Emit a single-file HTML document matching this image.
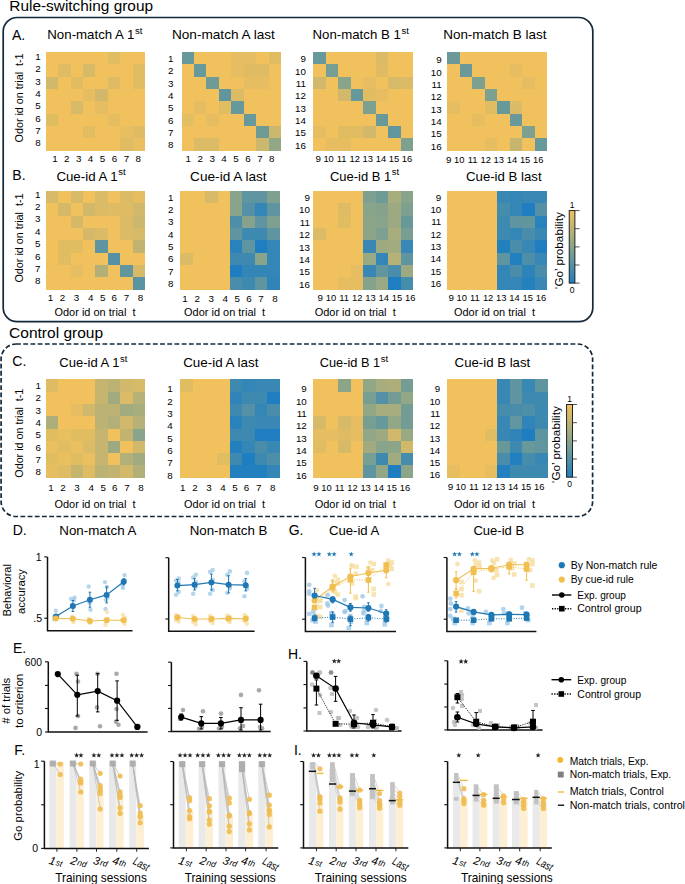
<!DOCTYPE html>
<html><head><meta charset="utf-8"><style>
html,body{margin:0;padding:0;background:#fff;width:685px;height:884px;overflow:hidden}
svg{display:block}
</style></head><body>
<svg width="685" height="884" viewBox="0 0 685 884" font-family='"Liberation Sans", sans-serif'>
<rect width="685" height="884" fill="#fff"/>
<text x="9.3" y="11.0" font-size="14.2" textLength="143.7" lengthAdjust="spacingAndGlyphs" fill="#000" >Rule-switching group</text>
<text x="9.1" y="337.8" font-size="14.2" textLength="94" lengthAdjust="spacingAndGlyphs" fill="#000" >Control group</text>
<rect x="3.2" y="17.5" width="589.6" height="304.2" rx="14" ry="14" fill="none" stroke="#13293b" stroke-width="1.7"/>
<rect x="1.1" y="344" width="591.5" height="172.5" rx="15" ry="15" fill="none" stroke="#13293b" stroke-width="1.7" stroke-dasharray="4.8 2.4"/>
<text x="11.9" y="39.9" font-size="14" fill="#000" >A.</text>
<text x="12.3" y="180.4" font-size="14" fill="#000" >B.</text>
<text x="12.3" y="366.4" font-size="14" fill="#000" >C.</text>
<text x="12.7" y="534.7" font-size="14" fill="#000" >D.</text>
<text x="288.7" y="534.6" font-size="14" fill="#000" >G.</text>
<text x="13.0" y="653.4" font-size="14" fill="#000" >E.</text>
<text x="287.9" y="658.8" font-size="14" fill="#000" >H.</text>
<text x="14.2" y="754.9" font-size="14" fill="#000" >F.</text>
<text x="293.9" y="754.7" font-size="14" fill="#000" >I.</text>
<g shape-rendering="crispEdges">
<rect x="45.80" y="52.00" width="12.70" height="12.65" fill="#f0c15c"/>
<rect x="58.20" y="52.00" width="12.70" height="12.65" fill="#f0c15c"/>
<rect x="70.60" y="52.00" width="12.70" height="12.65" fill="#f0c15c"/>
<rect x="83.00" y="52.00" width="12.70" height="12.65" fill="#f0c15c"/>
<rect x="95.40" y="52.00" width="12.70" height="12.65" fill="#f0c15c"/>
<rect x="107.80" y="52.00" width="12.70" height="12.65" fill="#e1bd62"/>
<rect x="120.20" y="52.00" width="12.70" height="12.65" fill="#f0c15c"/>
<rect x="132.60" y="52.00" width="12.70" height="12.65" fill="#f0c15c"/>
<rect x="45.80" y="64.35" width="12.70" height="12.65" fill="#f0c15c"/>
<rect x="58.20" y="64.35" width="12.70" height="12.65" fill="#dfbc63"/>
<rect x="70.60" y="64.35" width="12.70" height="12.65" fill="#f0c15c"/>
<rect x="83.00" y="64.35" width="12.70" height="12.65" fill="#d7ba67"/>
<rect x="95.40" y="64.35" width="12.70" height="12.65" fill="#f0c15c"/>
<rect x="107.80" y="64.35" width="12.70" height="12.65" fill="#f0c15c"/>
<rect x="120.20" y="64.35" width="12.70" height="12.65" fill="#f0c15c"/>
<rect x="132.60" y="64.35" width="12.70" height="12.65" fill="#e1bd62"/>
<rect x="45.80" y="76.70" width="12.70" height="12.65" fill="#d1b86a"/>
<rect x="58.20" y="76.70" width="12.70" height="12.65" fill="#f0c15c"/>
<rect x="70.60" y="76.70" width="12.70" height="12.65" fill="#e1bd62"/>
<rect x="83.00" y="76.70" width="12.70" height="12.65" fill="#f0c15c"/>
<rect x="95.40" y="76.70" width="12.70" height="12.65" fill="#f0c15c"/>
<rect x="107.80" y="76.70" width="12.70" height="12.65" fill="#dfbc63"/>
<rect x="120.20" y="76.70" width="12.70" height="12.65" fill="#f0c15c"/>
<rect x="132.60" y="76.70" width="12.70" height="12.65" fill="#e1bd62"/>
<rect x="45.80" y="89.05" width="12.70" height="12.65" fill="#f0c15c"/>
<rect x="58.20" y="89.05" width="12.70" height="12.65" fill="#f0c15c"/>
<rect x="70.60" y="89.05" width="12.70" height="12.65" fill="#f0c15c"/>
<rect x="83.00" y="89.05" width="12.70" height="12.65" fill="#e6be61"/>
<rect x="95.40" y="89.05" width="12.70" height="12.65" fill="#d1b86a"/>
<rect x="107.80" y="89.05" width="12.70" height="12.65" fill="#f0c15c"/>
<rect x="120.20" y="89.05" width="12.70" height="12.65" fill="#f0c15c"/>
<rect x="132.60" y="89.05" width="12.70" height="12.65" fill="#f0c15c"/>
<rect x="45.80" y="101.40" width="12.70" height="12.65" fill="#f0c15c"/>
<rect x="58.20" y="101.40" width="12.70" height="12.65" fill="#f0c15c"/>
<rect x="70.60" y="101.40" width="12.70" height="12.65" fill="#d7ba67"/>
<rect x="83.00" y="101.40" width="12.70" height="12.65" fill="#f0c15c"/>
<rect x="95.40" y="101.40" width="12.70" height="12.65" fill="#e6be61"/>
<rect x="107.80" y="101.40" width="12.70" height="12.65" fill="#f0c15c"/>
<rect x="120.20" y="101.40" width="12.70" height="12.65" fill="#f0c15c"/>
<rect x="132.60" y="101.40" width="12.70" height="12.65" fill="#f0c15c"/>
<rect x="45.80" y="113.75" width="12.70" height="12.65" fill="#e1bd62"/>
<rect x="58.20" y="113.75" width="12.70" height="12.65" fill="#f0c15c"/>
<rect x="70.60" y="113.75" width="12.70" height="12.65" fill="#f0c15c"/>
<rect x="83.00" y="113.75" width="12.70" height="12.65" fill="#f0c15c"/>
<rect x="95.40" y="113.75" width="12.70" height="12.65" fill="#f0c15c"/>
<rect x="107.80" y="113.75" width="12.70" height="12.65" fill="#e6be61"/>
<rect x="120.20" y="113.75" width="12.70" height="12.65" fill="#f0c15c"/>
<rect x="132.60" y="113.75" width="12.70" height="12.65" fill="#f0c15c"/>
<rect x="45.80" y="126.10" width="12.70" height="12.65" fill="#f0c15c"/>
<rect x="58.20" y="126.10" width="12.70" height="12.65" fill="#f0c15c"/>
<rect x="70.60" y="126.10" width="12.70" height="12.65" fill="#f0c15c"/>
<rect x="83.00" y="126.10" width="12.70" height="12.65" fill="#e1bd62"/>
<rect x="95.40" y="126.10" width="12.70" height="12.65" fill="#f0c15c"/>
<rect x="107.80" y="126.10" width="12.70" height="12.65" fill="#f0c15c"/>
<rect x="120.20" y="126.10" width="12.70" height="12.65" fill="#e8bf60"/>
<rect x="132.60" y="126.10" width="12.70" height="12.65" fill="#dfbc63"/>
<rect x="45.80" y="138.45" width="12.70" height="12.65" fill="#f0c15c"/>
<rect x="58.20" y="138.45" width="12.70" height="12.65" fill="#f0c15c"/>
<rect x="70.60" y="138.45" width="12.70" height="12.65" fill="#f0c15c"/>
<rect x="83.00" y="138.45" width="12.70" height="12.65" fill="#f0c15c"/>
<rect x="95.40" y="138.45" width="12.70" height="12.65" fill="#f0c15c"/>
<rect x="107.80" y="138.45" width="12.70" height="12.65" fill="#f0c15c"/>
<rect x="120.20" y="138.45" width="12.70" height="12.65" fill="#dfbc63"/>
<rect x="132.60" y="138.45" width="12.70" height="12.65" fill="#eabf5f"/>
</g>
<text x="47.3" y="39.4" font-size="13.5" textLength="87.0" lengthAdjust="spacingAndGlyphs" fill="#000" >Non-match A 1</text>
<text x="134.9" y="34.199999999999996" font-size="8.5" textLength="7.4" lengthAdjust="spacingAndGlyphs" fill="#000" >st</text>
<text x="40.6" y="60.0" font-size="9.8" text-anchor="end" fill="#000" >1</text>
<text x="40.6" y="72.3" font-size="9.8" text-anchor="end" fill="#000" >2</text>
<text x="40.6" y="84.7" font-size="9.8" text-anchor="end" fill="#000" >3</text>
<text x="40.6" y="97.0" font-size="9.8" text-anchor="end" fill="#000" >4</text>
<text x="40.6" y="109.4" font-size="9.8" text-anchor="end" fill="#000" >5</text>
<text x="40.6" y="121.7" font-size="9.8" text-anchor="end" fill="#000" >6</text>
<text x="40.6" y="134.1" font-size="9.8" text-anchor="end" fill="#000" >7</text>
<text x="40.6" y="146.4" font-size="9.8" text-anchor="end" fill="#000" >8</text>
<text x="54.9" y="162.0" font-size="9.8" text-anchor="middle" fill="#000" >1</text>
<text x="66.8" y="162.0" font-size="9.8" text-anchor="middle" fill="#000" >2</text>
<text x="78.7" y="162.0" font-size="9.8" text-anchor="middle" fill="#000" >3</text>
<text x="90.6" y="162.0" font-size="9.8" text-anchor="middle" fill="#000" >4</text>
<text x="102.6" y="162.0" font-size="9.8" text-anchor="middle" fill="#000" >5</text>
<text x="114.5" y="162.0" font-size="9.8" text-anchor="middle" fill="#000" >6</text>
<text x="126.4" y="162.0" font-size="9.8" text-anchor="middle" fill="#000" >7</text>
<text x="138.3" y="162.0" font-size="9.8" text-anchor="middle" fill="#000" >8</text>
<g shape-rendering="crispEdges">
<rect x="181.60" y="52.00" width="12.73" height="12.65" fill="#66989c"/>
<rect x="194.03" y="52.00" width="12.73" height="12.65" fill="#f0c15c"/>
<rect x="206.45" y="52.00" width="12.73" height="12.65" fill="#f0c15c"/>
<rect x="218.88" y="52.00" width="12.73" height="12.65" fill="#f0c15c"/>
<rect x="231.30" y="52.00" width="12.73" height="12.65" fill="#e6be61"/>
<rect x="243.72" y="52.00" width="12.73" height="12.65" fill="#e6be61"/>
<rect x="256.15" y="52.00" width="12.73" height="12.65" fill="#f0c15c"/>
<rect x="268.57" y="52.00" width="12.73" height="12.65" fill="#e1bd62"/>
<rect x="181.60" y="64.35" width="12.73" height="12.65" fill="#f0c15c"/>
<rect x="194.03" y="64.35" width="12.73" height="12.65" fill="#66989c"/>
<rect x="206.45" y="64.35" width="12.73" height="12.65" fill="#f0c15c"/>
<rect x="218.88" y="64.35" width="12.73" height="12.65" fill="#f0c15c"/>
<rect x="231.30" y="64.35" width="12.73" height="12.65" fill="#e6be61"/>
<rect x="243.72" y="64.35" width="12.73" height="12.65" fill="#dfbc63"/>
<rect x="256.15" y="64.35" width="12.73" height="12.65" fill="#dfbc63"/>
<rect x="268.57" y="64.35" width="12.73" height="12.65" fill="#f0c15c"/>
<rect x="181.60" y="76.70" width="12.73" height="12.65" fill="#f0c15c"/>
<rect x="194.03" y="76.70" width="12.73" height="12.65" fill="#f0c15c"/>
<rect x="206.45" y="76.70" width="12.73" height="12.65" fill="#6f9b97"/>
<rect x="218.88" y="76.70" width="12.73" height="12.65" fill="#f0c15c"/>
<rect x="231.30" y="76.70" width="12.73" height="12.65" fill="#f0c15c"/>
<rect x="243.72" y="76.70" width="12.73" height="12.65" fill="#e6be61"/>
<rect x="256.15" y="76.70" width="12.73" height="12.65" fill="#e6be61"/>
<rect x="268.57" y="76.70" width="12.73" height="12.65" fill="#f0c15c"/>
<rect x="181.60" y="89.05" width="12.73" height="12.65" fill="#f0c15c"/>
<rect x="194.03" y="89.05" width="12.73" height="12.65" fill="#f0c15c"/>
<rect x="206.45" y="89.05" width="12.73" height="12.65" fill="#f0c15c"/>
<rect x="218.88" y="89.05" width="12.73" height="12.65" fill="#62969e"/>
<rect x="231.30" y="89.05" width="12.73" height="12.65" fill="#dbbb65"/>
<rect x="243.72" y="89.05" width="12.73" height="12.65" fill="#f0c15c"/>
<rect x="256.15" y="89.05" width="12.73" height="12.65" fill="#f0c15c"/>
<rect x="268.57" y="89.05" width="12.73" height="12.65" fill="#f0c15c"/>
<rect x="181.60" y="101.40" width="12.73" height="12.65" fill="#f0c15c"/>
<rect x="194.03" y="101.40" width="12.73" height="12.65" fill="#e6be61"/>
<rect x="206.45" y="101.40" width="12.73" height="12.65" fill="#f0c15c"/>
<rect x="218.88" y="101.40" width="12.73" height="12.65" fill="#e1bd62"/>
<rect x="231.30" y="101.40" width="12.73" height="12.65" fill="#66989c"/>
<rect x="243.72" y="101.40" width="12.73" height="12.65" fill="#f0c15c"/>
<rect x="256.15" y="101.40" width="12.73" height="12.65" fill="#f0c15c"/>
<rect x="268.57" y="101.40" width="12.73" height="12.65" fill="#f0c15c"/>
<rect x="181.60" y="113.75" width="12.73" height="12.65" fill="#e4be62"/>
<rect x="194.03" y="113.75" width="12.73" height="12.65" fill="#f0c15c"/>
<rect x="206.45" y="113.75" width="12.73" height="12.65" fill="#e6be61"/>
<rect x="218.88" y="113.75" width="12.73" height="12.65" fill="#f0c15c"/>
<rect x="231.30" y="113.75" width="12.73" height="12.65" fill="#f0c15c"/>
<rect x="243.72" y="113.75" width="12.73" height="12.65" fill="#66989c"/>
<rect x="256.15" y="113.75" width="12.73" height="12.65" fill="#f0c15c"/>
<rect x="268.57" y="113.75" width="12.73" height="12.65" fill="#f0c15c"/>
<rect x="181.60" y="126.10" width="12.73" height="12.65" fill="#f0c15c"/>
<rect x="194.03" y="126.10" width="12.73" height="12.65" fill="#f0c15c"/>
<rect x="206.45" y="126.10" width="12.73" height="12.65" fill="#f0c15c"/>
<rect x="218.88" y="126.10" width="12.73" height="12.65" fill="#f0c15c"/>
<rect x="231.30" y="126.10" width="12.73" height="12.65" fill="#f0c15c"/>
<rect x="243.72" y="126.10" width="12.73" height="12.65" fill="#f0c15c"/>
<rect x="256.15" y="126.10" width="12.73" height="12.65" fill="#6f9b97"/>
<rect x="268.57" y="126.10" width="12.73" height="12.65" fill="#cbb76d"/>
<rect x="181.60" y="138.45" width="12.73" height="12.65" fill="#f0c15c"/>
<rect x="194.03" y="138.45" width="12.73" height="12.65" fill="#dbbb65"/>
<rect x="206.45" y="138.45" width="12.73" height="12.65" fill="#dbbb65"/>
<rect x="218.88" y="138.45" width="12.73" height="12.65" fill="#f0c15c"/>
<rect x="231.30" y="138.45" width="12.73" height="12.65" fill="#f0c15c"/>
<rect x="243.72" y="138.45" width="12.73" height="12.65" fill="#f0c15c"/>
<rect x="256.15" y="138.45" width="12.73" height="12.65" fill="#cbb76d"/>
<rect x="268.57" y="138.45" width="12.73" height="12.65" fill="#92a785"/>
</g>
<text x="171.9" y="39.4" font-size="13.5" textLength="103.0" lengthAdjust="spacingAndGlyphs" fill="#000" >Non-match A last</text>
<text x="173.4" y="62.0" font-size="9.8" text-anchor="end" fill="#000" >1</text>
<text x="173.4" y="74.3" font-size="9.8" text-anchor="end" fill="#000" >2</text>
<text x="173.4" y="86.7" font-size="9.8" text-anchor="end" fill="#000" >3</text>
<text x="173.4" y="99.0" font-size="9.8" text-anchor="end" fill="#000" >4</text>
<text x="173.4" y="111.4" font-size="9.8" text-anchor="end" fill="#000" >5</text>
<text x="173.4" y="123.7" font-size="9.8" text-anchor="end" fill="#000" >6</text>
<text x="173.4" y="136.1" font-size="9.8" text-anchor="end" fill="#000" >7</text>
<text x="173.4" y="148.4" font-size="9.8" text-anchor="end" fill="#000" >8</text>
<text x="188.3" y="161.8" font-size="9.8" text-anchor="middle" fill="#000" >1</text>
<text x="200.2" y="161.8" font-size="9.8" text-anchor="middle" fill="#000" >2</text>
<text x="212.2" y="161.8" font-size="9.8" text-anchor="middle" fill="#000" >3</text>
<text x="224.1" y="161.8" font-size="9.8" text-anchor="middle" fill="#000" >4</text>
<text x="236.0" y="161.8" font-size="9.8" text-anchor="middle" fill="#000" >5</text>
<text x="247.9" y="161.8" font-size="9.8" text-anchor="middle" fill="#000" >6</text>
<text x="259.9" y="161.8" font-size="9.8" text-anchor="middle" fill="#000" >7</text>
<text x="271.8" y="161.8" font-size="9.8" text-anchor="middle" fill="#000" >8</text>
<g shape-rendering="crispEdges">
<rect x="313.10" y="52.00" width="12.79" height="12.65" fill="#66989c"/>
<rect x="325.59" y="52.00" width="12.79" height="12.65" fill="#f0c15c"/>
<rect x="338.08" y="52.00" width="12.79" height="12.65" fill="#f0c15c"/>
<rect x="350.56" y="52.00" width="12.79" height="12.65" fill="#f0c15c"/>
<rect x="363.05" y="52.00" width="12.79" height="12.65" fill="#f0c15c"/>
<rect x="375.54" y="52.00" width="12.79" height="12.65" fill="#dbbb65"/>
<rect x="388.03" y="52.00" width="12.79" height="12.65" fill="#f0c15c"/>
<rect x="400.51" y="52.00" width="12.79" height="12.65" fill="#f0c15c"/>
<rect x="313.10" y="64.35" width="12.79" height="12.65" fill="#f0c15c"/>
<rect x="325.59" y="64.35" width="12.79" height="12.65" fill="#779e93"/>
<rect x="338.08" y="64.35" width="12.79" height="12.65" fill="#f0c15c"/>
<rect x="350.56" y="64.35" width="12.79" height="12.65" fill="#f0c15c"/>
<rect x="363.05" y="64.35" width="12.79" height="12.65" fill="#f0c15c"/>
<rect x="375.54" y="64.35" width="12.79" height="12.65" fill="#dfbc63"/>
<rect x="388.03" y="64.35" width="12.79" height="12.65" fill="#f0c15c"/>
<rect x="400.51" y="64.35" width="12.79" height="12.65" fill="#f0c15c"/>
<rect x="313.10" y="76.70" width="12.79" height="12.65" fill="#d1b86a"/>
<rect x="325.59" y="76.70" width="12.79" height="12.65" fill="#f0c15c"/>
<rect x="338.08" y="76.70" width="12.79" height="12.65" fill="#88a48a"/>
<rect x="350.56" y="76.70" width="12.79" height="12.65" fill="#f0c15c"/>
<rect x="363.05" y="76.70" width="12.79" height="12.65" fill="#e6be61"/>
<rect x="375.54" y="76.70" width="12.79" height="12.65" fill="#f0c15c"/>
<rect x="388.03" y="76.70" width="12.79" height="12.65" fill="#d7ba67"/>
<rect x="400.51" y="76.70" width="12.79" height="12.65" fill="#dbbb65"/>
<rect x="313.10" y="89.05" width="12.79" height="12.65" fill="#f0c15c"/>
<rect x="325.59" y="89.05" width="12.79" height="12.65" fill="#f0c15c"/>
<rect x="338.08" y="89.05" width="12.79" height="12.65" fill="#d1b86a"/>
<rect x="350.56" y="89.05" width="12.79" height="12.65" fill="#68999a"/>
<rect x="363.05" y="89.05" width="12.79" height="12.65" fill="#e1bd62"/>
<rect x="375.54" y="89.05" width="12.79" height="12.65" fill="#e6be61"/>
<rect x="388.03" y="89.05" width="12.79" height="12.65" fill="#f0c15c"/>
<rect x="400.51" y="89.05" width="12.79" height="12.65" fill="#f0c15c"/>
<rect x="313.10" y="101.40" width="12.79" height="12.65" fill="#f0c15c"/>
<rect x="325.59" y="101.40" width="12.79" height="12.65" fill="#f0c15c"/>
<rect x="338.08" y="101.40" width="12.79" height="12.65" fill="#f0c15c"/>
<rect x="350.56" y="101.40" width="12.79" height="12.65" fill="#f0c15c"/>
<rect x="363.05" y="101.40" width="12.79" height="12.65" fill="#7ea090"/>
<rect x="375.54" y="101.40" width="12.79" height="12.65" fill="#f0c15c"/>
<rect x="388.03" y="101.40" width="12.79" height="12.65" fill="#f0c15c"/>
<rect x="400.51" y="101.40" width="12.79" height="12.65" fill="#f0c15c"/>
<rect x="313.10" y="113.75" width="12.79" height="12.65" fill="#f0c15c"/>
<rect x="325.59" y="113.75" width="12.79" height="12.65" fill="#f0c15c"/>
<rect x="338.08" y="113.75" width="12.79" height="12.65" fill="#f0c15c"/>
<rect x="350.56" y="113.75" width="12.79" height="12.65" fill="#f0c15c"/>
<rect x="363.05" y="113.75" width="12.79" height="12.65" fill="#f0c15c"/>
<rect x="375.54" y="113.75" width="12.79" height="12.65" fill="#68999a"/>
<rect x="388.03" y="113.75" width="12.79" height="12.65" fill="#f0c15c"/>
<rect x="400.51" y="113.75" width="12.79" height="12.65" fill="#f0c15c"/>
<rect x="313.10" y="126.10" width="12.79" height="12.65" fill="#e6be61"/>
<rect x="325.59" y="126.10" width="12.79" height="12.65" fill="#f0c15c"/>
<rect x="338.08" y="126.10" width="12.79" height="12.65" fill="#e1bd62"/>
<rect x="350.56" y="126.10" width="12.79" height="12.65" fill="#e1bd62"/>
<rect x="363.05" y="126.10" width="12.79" height="12.65" fill="#d1b86a"/>
<rect x="375.54" y="126.10" width="12.79" height="12.65" fill="#f0c15c"/>
<rect x="388.03" y="126.10" width="12.79" height="12.65" fill="#62969e"/>
<rect x="400.51" y="126.10" width="12.79" height="12.65" fill="#f0c15c"/>
<rect x="313.10" y="138.45" width="12.79" height="12.65" fill="#f0c15c"/>
<rect x="325.59" y="138.45" width="12.79" height="12.65" fill="#e6be61"/>
<rect x="338.08" y="138.45" width="12.79" height="12.65" fill="#e6be61"/>
<rect x="350.56" y="138.45" width="12.79" height="12.65" fill="#f0c15c"/>
<rect x="363.05" y="138.45" width="12.79" height="12.65" fill="#f0c15c"/>
<rect x="375.54" y="138.45" width="12.79" height="12.65" fill="#f0c15c"/>
<rect x="388.03" y="138.45" width="12.79" height="12.65" fill="#f0c15c"/>
<rect x="400.51" y="138.45" width="12.79" height="12.65" fill="#7ea090"/>
</g>
<text x="312.5" y="39.4" font-size="13.5" textLength="88.3" lengthAdjust="spacingAndGlyphs" fill="#000" >Non-match B 1</text>
<text x="401.40000000000003" y="34.199999999999996" font-size="8.5" textLength="7.4" lengthAdjust="spacingAndGlyphs" fill="#000" >st</text>
<text x="306.0" y="62.2" font-size="9.8" text-anchor="end" fill="#000" >9</text>
<text x="306.0" y="74.5" font-size="9.8" text-anchor="end" fill="#000" >10</text>
<text x="306.0" y="86.9" font-size="9.8" text-anchor="end" fill="#000" >11</text>
<text x="306.0" y="99.2" font-size="9.8" text-anchor="end" fill="#000" >12</text>
<text x="306.0" y="111.6" font-size="9.8" text-anchor="end" fill="#000" >13</text>
<text x="306.0" y="123.9" font-size="9.8" text-anchor="end" fill="#000" >14</text>
<text x="306.0" y="136.3" font-size="9.8" text-anchor="end" fill="#000" >15</text>
<text x="306.0" y="148.6" font-size="9.8" text-anchor="end" fill="#000" >16</text>
<text x="318.2" y="162.2" font-size="9.8" text-anchor="middle" fill="#000" >9</text>
<text x="328.6" y="162.2" font-size="9.4" text-anchor="middle" fill="#000" >10</text>
<text x="341.7" y="162.2" font-size="9.4" text-anchor="middle" fill="#000" >11</text>
<text x="354.8" y="162.2" font-size="9.4" text-anchor="middle" fill="#000" >12</text>
<text x="367.8" y="162.2" font-size="9.4" text-anchor="middle" fill="#000" >13</text>
<text x="380.9" y="162.2" font-size="9.4" text-anchor="middle" fill="#000" >14</text>
<text x="393.9" y="162.2" font-size="9.4" text-anchor="middle" fill="#000" >15</text>
<text x="407.0" y="162.2" font-size="9.4" text-anchor="middle" fill="#000" >16</text>
<g shape-rendering="crispEdges">
<rect x="447.10" y="52.00" width="12.79" height="12.65" fill="#6b9999"/>
<rect x="459.59" y="52.00" width="12.79" height="12.65" fill="#f0c15c"/>
<rect x="472.08" y="52.00" width="12.79" height="12.65" fill="#f0c15c"/>
<rect x="484.56" y="52.00" width="12.79" height="12.65" fill="#f0c15c"/>
<rect x="497.05" y="52.00" width="12.79" height="12.65" fill="#f0c15c"/>
<rect x="509.54" y="52.00" width="12.79" height="12.65" fill="#f0c15c"/>
<rect x="522.03" y="52.00" width="12.79" height="12.65" fill="#f0c15c"/>
<rect x="534.51" y="52.00" width="12.79" height="12.65" fill="#f0c15c"/>
<rect x="447.10" y="64.35" width="12.79" height="12.65" fill="#f0c15c"/>
<rect x="459.59" y="64.35" width="12.79" height="12.65" fill="#6b9999"/>
<rect x="472.08" y="64.35" width="12.79" height="12.65" fill="#f0c15c"/>
<rect x="484.56" y="64.35" width="12.79" height="12.65" fill="#f0c15c"/>
<rect x="497.05" y="64.35" width="12.79" height="12.65" fill="#f0c15c"/>
<rect x="509.54" y="64.35" width="12.79" height="12.65" fill="#e6be61"/>
<rect x="522.03" y="64.35" width="12.79" height="12.65" fill="#f0c15c"/>
<rect x="534.51" y="64.35" width="12.79" height="12.65" fill="#f0c15c"/>
<rect x="447.10" y="76.70" width="12.79" height="12.65" fill="#f0c15c"/>
<rect x="459.59" y="76.70" width="12.79" height="12.65" fill="#f0c15c"/>
<rect x="472.08" y="76.70" width="12.79" height="12.65" fill="#7ea090"/>
<rect x="484.56" y="76.70" width="12.79" height="12.65" fill="#f0c15c"/>
<rect x="497.05" y="76.70" width="12.79" height="12.65" fill="#f0c15c"/>
<rect x="509.54" y="76.70" width="12.79" height="12.65" fill="#f0c15c"/>
<rect x="522.03" y="76.70" width="12.79" height="12.65" fill="#e6be61"/>
<rect x="534.51" y="76.70" width="12.79" height="12.65" fill="#f0c15c"/>
<rect x="447.10" y="89.05" width="12.79" height="12.65" fill="#f0c15c"/>
<rect x="459.59" y="89.05" width="12.79" height="12.65" fill="#f0c15c"/>
<rect x="472.08" y="89.05" width="12.79" height="12.65" fill="#f0c15c"/>
<rect x="484.56" y="89.05" width="12.79" height="12.65" fill="#7ea090"/>
<rect x="497.05" y="89.05" width="12.79" height="12.65" fill="#f0c15c"/>
<rect x="509.54" y="89.05" width="12.79" height="12.65" fill="#f0c15c"/>
<rect x="522.03" y="89.05" width="12.79" height="12.65" fill="#f0c15c"/>
<rect x="534.51" y="89.05" width="12.79" height="12.65" fill="#f0c15c"/>
<rect x="447.10" y="101.40" width="12.79" height="12.65" fill="#e6be61"/>
<rect x="459.59" y="101.40" width="12.79" height="12.65" fill="#f0c15c"/>
<rect x="472.08" y="101.40" width="12.79" height="12.65" fill="#f0c15c"/>
<rect x="484.56" y="101.40" width="12.79" height="12.65" fill="#e1bd62"/>
<rect x="497.05" y="101.40" width="12.79" height="12.65" fill="#68999a"/>
<rect x="509.54" y="101.40" width="12.79" height="12.65" fill="#dbbb65"/>
<rect x="522.03" y="101.40" width="12.79" height="12.65" fill="#f0c15c"/>
<rect x="534.51" y="101.40" width="12.79" height="12.65" fill="#f0c15c"/>
<rect x="447.10" y="113.75" width="12.79" height="12.65" fill="#f0c15c"/>
<rect x="459.59" y="113.75" width="12.79" height="12.65" fill="#f0c15c"/>
<rect x="472.08" y="113.75" width="12.79" height="12.65" fill="#e6be61"/>
<rect x="484.56" y="113.75" width="12.79" height="12.65" fill="#f0c15c"/>
<rect x="497.05" y="113.75" width="12.79" height="12.65" fill="#f0c15c"/>
<rect x="509.54" y="113.75" width="12.79" height="12.65" fill="#6b9999"/>
<rect x="522.03" y="113.75" width="12.79" height="12.65" fill="#f0c15c"/>
<rect x="534.51" y="113.75" width="12.79" height="12.65" fill="#f0c15c"/>
<rect x="447.10" y="126.10" width="12.79" height="12.65" fill="#f0c15c"/>
<rect x="459.59" y="126.10" width="12.79" height="12.65" fill="#f0c15c"/>
<rect x="472.08" y="126.10" width="12.79" height="12.65" fill="#f0c15c"/>
<rect x="484.56" y="126.10" width="12.79" height="12.65" fill="#f0c15c"/>
<rect x="497.05" y="126.10" width="12.79" height="12.65" fill="#f0c15c"/>
<rect x="509.54" y="126.10" width="12.79" height="12.65" fill="#f0c15c"/>
<rect x="522.03" y="126.10" width="12.79" height="12.65" fill="#7ea090"/>
<rect x="534.51" y="126.10" width="12.79" height="12.65" fill="#f0c15c"/>
<rect x="447.10" y="138.45" width="12.79" height="12.65" fill="#f0c15c"/>
<rect x="459.59" y="138.45" width="12.79" height="12.65" fill="#f0c15c"/>
<rect x="472.08" y="138.45" width="12.79" height="12.65" fill="#f0c15c"/>
<rect x="484.56" y="138.45" width="12.79" height="12.65" fill="#e6be61"/>
<rect x="497.05" y="138.45" width="12.79" height="12.65" fill="#f0c15c"/>
<rect x="509.54" y="138.45" width="12.79" height="12.65" fill="#c6b56e"/>
<rect x="522.03" y="138.45" width="12.79" height="12.65" fill="#f0c15c"/>
<rect x="534.51" y="138.45" width="12.79" height="12.65" fill="#68999a"/>
</g>
<text x="443.2" y="39.4" font-size="13.5" textLength="103.2" lengthAdjust="spacingAndGlyphs" fill="#000" >Non-match B last</text>
<text x="441.7" y="63.2" font-size="9.8" text-anchor="end" fill="#000" >9</text>
<text x="441.7" y="75.5" font-size="9.8" text-anchor="end" fill="#000" >10</text>
<text x="441.7" y="87.9" font-size="9.8" text-anchor="end" fill="#000" >11</text>
<text x="441.7" y="100.2" font-size="9.8" text-anchor="end" fill="#000" >12</text>
<text x="441.7" y="112.6" font-size="9.8" text-anchor="end" fill="#000" >13</text>
<text x="441.7" y="124.9" font-size="9.8" text-anchor="end" fill="#000" >14</text>
<text x="441.7" y="137.3" font-size="9.8" text-anchor="end" fill="#000" >15</text>
<text x="441.7" y="149.6" font-size="9.8" text-anchor="end" fill="#000" >16</text>
<text x="448.8" y="162.8" font-size="9.8" text-anchor="middle" fill="#000" >9</text>
<text x="459.3" y="162.8" font-size="9.4" text-anchor="middle" fill="#000" >10</text>
<text x="472.5" y="162.8" font-size="9.4" text-anchor="middle" fill="#000" >11</text>
<text x="485.7" y="162.8" font-size="9.4" text-anchor="middle" fill="#000" >12</text>
<text x="498.8" y="162.8" font-size="9.4" text-anchor="middle" fill="#000" >13</text>
<text x="512.0" y="162.8" font-size="9.4" text-anchor="middle" fill="#000" >14</text>
<text x="525.1" y="162.8" font-size="9.4" text-anchor="middle" fill="#000" >15</text>
<text x="538.3" y="162.8" font-size="9.4" text-anchor="middle" fill="#000" >16</text>
<text transform="translate(23.3,97.9) rotate(-90)" font-size="11" text-anchor="middle" textLength="89" lengthAdjust="spacingAndGlyphs" xml:space="preserve">Odor id on trial  t-1</text>
<g shape-rendering="crispEdges">
<rect x="45.80" y="190.80" width="12.70" height="12.68" fill="#d7ba67"/>
<rect x="58.20" y="190.80" width="12.70" height="12.68" fill="#f0c15c"/>
<rect x="70.60" y="190.80" width="12.70" height="12.68" fill="#d7ba67"/>
<rect x="83.00" y="190.80" width="12.70" height="12.68" fill="#f0c15c"/>
<rect x="95.40" y="190.80" width="12.70" height="12.68" fill="#dbbb65"/>
<rect x="107.80" y="190.80" width="12.70" height="12.68" fill="#f0c15c"/>
<rect x="120.20" y="190.80" width="12.70" height="12.68" fill="#dbbb65"/>
<rect x="132.60" y="190.80" width="12.70" height="12.68" fill="#e6be61"/>
<rect x="45.80" y="203.18" width="12.70" height="12.68" fill="#f0c15c"/>
<rect x="58.20" y="203.18" width="12.70" height="12.68" fill="#d5b968"/>
<rect x="70.60" y="203.18" width="12.70" height="12.68" fill="#f0c15c"/>
<rect x="83.00" y="203.18" width="12.70" height="12.68" fill="#d1b86a"/>
<rect x="95.40" y="203.18" width="12.70" height="12.68" fill="#dbbb65"/>
<rect x="107.80" y="203.18" width="12.70" height="12.68" fill="#dfbc63"/>
<rect x="120.20" y="203.18" width="12.70" height="12.68" fill="#dfbc63"/>
<rect x="132.60" y="203.18" width="12.70" height="12.68" fill="#d1b86a"/>
<rect x="45.80" y="215.55" width="12.70" height="12.68" fill="#f0c15c"/>
<rect x="58.20" y="215.55" width="12.70" height="12.68" fill="#f0c15c"/>
<rect x="70.60" y="215.55" width="12.70" height="12.68" fill="#d5b968"/>
<rect x="83.00" y="215.55" width="12.70" height="12.68" fill="#f0c15c"/>
<rect x="95.40" y="215.55" width="12.70" height="12.68" fill="#f0c15c"/>
<rect x="107.80" y="215.55" width="12.70" height="12.68" fill="#f0c15c"/>
<rect x="120.20" y="215.55" width="12.70" height="12.68" fill="#dbbb65"/>
<rect x="132.60" y="215.55" width="12.70" height="12.68" fill="#cbb76d"/>
<rect x="45.80" y="227.93" width="12.70" height="12.68" fill="#f0c15c"/>
<rect x="58.20" y="227.93" width="12.70" height="12.68" fill="#f0c15c"/>
<rect x="70.60" y="227.93" width="12.70" height="12.68" fill="#f0c15c"/>
<rect x="83.00" y="227.93" width="12.70" height="12.68" fill="#d5b968"/>
<rect x="95.40" y="227.93" width="12.70" height="12.68" fill="#dbbb65"/>
<rect x="107.80" y="227.93" width="12.70" height="12.68" fill="#f0c15c"/>
<rect x="120.20" y="227.93" width="12.70" height="12.68" fill="#dbbb65"/>
<rect x="132.60" y="227.93" width="12.70" height="12.68" fill="#d7ba67"/>
<rect x="45.80" y="240.30" width="12.70" height="12.68" fill="#f0c15c"/>
<rect x="58.20" y="240.30" width="12.70" height="12.68" fill="#e1bd62"/>
<rect x="70.60" y="240.30" width="12.70" height="12.68" fill="#e1bd62"/>
<rect x="83.00" y="240.30" width="12.70" height="12.68" fill="#f0c15c"/>
<rect x="95.40" y="240.30" width="12.70" height="12.68" fill="#5e95a0"/>
<rect x="107.80" y="240.30" width="12.70" height="12.68" fill="#f0c15c"/>
<rect x="120.20" y="240.30" width="12.70" height="12.68" fill="#f0c15c"/>
<rect x="132.60" y="240.30" width="12.70" height="12.68" fill="#c2b470"/>
<rect x="45.80" y="252.68" width="12.70" height="12.68" fill="#f0c15c"/>
<rect x="58.20" y="252.68" width="12.70" height="12.68" fill="#e1bd62"/>
<rect x="70.60" y="252.68" width="12.70" height="12.68" fill="#f0c15c"/>
<rect x="83.00" y="252.68" width="12.70" height="12.68" fill="#f0c15c"/>
<rect x="95.40" y="252.68" width="12.70" height="12.68" fill="#f0c15c"/>
<rect x="107.80" y="252.68" width="12.70" height="12.68" fill="#5491a6"/>
<rect x="120.20" y="252.68" width="12.70" height="12.68" fill="#f0c15c"/>
<rect x="132.60" y="252.68" width="12.70" height="12.68" fill="#f0c15c"/>
<rect x="45.80" y="265.05" width="12.70" height="12.68" fill="#f0c15c"/>
<rect x="58.20" y="265.05" width="12.70" height="12.68" fill="#f0c15c"/>
<rect x="70.60" y="265.05" width="12.70" height="12.68" fill="#e6be61"/>
<rect x="83.00" y="265.05" width="12.70" height="12.68" fill="#f0c15c"/>
<rect x="95.40" y="265.05" width="12.70" height="12.68" fill="#b2b078"/>
<rect x="107.80" y="265.05" width="12.70" height="12.68" fill="#f0c15c"/>
<rect x="120.20" y="265.05" width="12.70" height="12.68" fill="#64979d"/>
<rect x="132.60" y="265.05" width="12.70" height="12.68" fill="#d7ba67"/>
<rect x="45.80" y="277.43" width="12.70" height="12.68" fill="#f0c15c"/>
<rect x="58.20" y="277.43" width="12.70" height="12.68" fill="#f0c15c"/>
<rect x="70.60" y="277.43" width="12.70" height="12.68" fill="#f0c15c"/>
<rect x="83.00" y="277.43" width="12.70" height="12.68" fill="#f0c15c"/>
<rect x="95.40" y="277.43" width="12.70" height="12.68" fill="#f0c15c"/>
<rect x="107.80" y="277.43" width="12.70" height="12.68" fill="#f0c15c"/>
<rect x="120.20" y="277.43" width="12.70" height="12.68" fill="#f0c15c"/>
<rect x="132.60" y="277.43" width="12.70" height="12.68" fill="#5a93a2"/>
</g>
<text x="56.4" y="180.6" font-size="13.5" textLength="61.3" lengthAdjust="spacingAndGlyphs" fill="#000" >Cue-id A 1</text>
<text x="118.3" y="175.4" font-size="8.5" textLength="7.4" lengthAdjust="spacingAndGlyphs" fill="#000" >st</text>
<text x="40.5" y="197.7" font-size="9.8" text-anchor="end" fill="#000" >1</text>
<text x="40.5" y="210.1" font-size="9.8" text-anchor="end" fill="#000" >2</text>
<text x="40.5" y="222.4" font-size="9.8" text-anchor="end" fill="#000" >3</text>
<text x="40.5" y="234.8" font-size="9.8" text-anchor="end" fill="#000" >4</text>
<text x="40.5" y="247.2" font-size="9.8" text-anchor="end" fill="#000" >5</text>
<text x="40.5" y="259.6" font-size="9.8" text-anchor="end" fill="#000" >6</text>
<text x="40.5" y="271.9" font-size="9.8" text-anchor="end" fill="#000" >7</text>
<text x="40.5" y="284.3" font-size="9.8" text-anchor="end" fill="#000" >8</text>
<text x="50.4" y="301.2" font-size="9.8" text-anchor="middle" fill="#000" >1</text>
<text x="62.6" y="301.2" font-size="9.8" text-anchor="middle" fill="#000" >2</text>
<text x="76.6" y="301.2" font-size="9.8" text-anchor="middle" fill="#000" >3</text>
<text x="90.7" y="301.2" font-size="9.8" text-anchor="middle" fill="#000" >4</text>
<text x="102.7" y="301.2" font-size="9.8" text-anchor="middle" fill="#000" >5</text>
<text x="114.3" y="301.2" font-size="9.8" text-anchor="middle" fill="#000" >6</text>
<text x="126.5" y="301.2" font-size="9.8" text-anchor="middle" fill="#000" >7</text>
<text x="140.4" y="301.2" font-size="9.8" text-anchor="middle" fill="#000" >8</text>
<text x="54.5" y="316.0" font-size="10.8" textLength="81" lengthAdjust="spacingAndGlyphs" xml:space="preserve">Odor id on trial  t</text>
<g shape-rendering="crispEdges">
<rect x="180.30" y="190.80" width="12.73" height="12.68" fill="#f0c15c"/>
<rect x="192.73" y="190.80" width="12.73" height="12.68" fill="#f0c15c"/>
<rect x="205.15" y="190.80" width="12.73" height="12.68" fill="#d7ba67"/>
<rect x="217.58" y="190.80" width="12.73" height="12.68" fill="#f0c15c"/>
<rect x="230.00" y="190.80" width="12.73" height="12.68" fill="#88a48a"/>
<rect x="242.43" y="190.80" width="12.73" height="12.68" fill="#5e95a0"/>
<rect x="254.85" y="190.80" width="12.73" height="12.68" fill="#5e95a0"/>
<rect x="267.28" y="190.80" width="12.73" height="12.68" fill="#7ea090"/>
<rect x="180.30" y="203.18" width="12.73" height="12.68" fill="#f0c15c"/>
<rect x="192.73" y="203.18" width="12.73" height="12.68" fill="#f0c15c"/>
<rect x="205.15" y="203.18" width="12.73" height="12.68" fill="#f0c15c"/>
<rect x="217.58" y="203.18" width="12.73" height="12.68" fill="#f0c15c"/>
<rect x="230.00" y="203.18" width="12.73" height="12.68" fill="#88a48a"/>
<rect x="242.43" y="203.18" width="12.73" height="12.68" fill="#5491a6"/>
<rect x="254.85" y="203.18" width="12.73" height="12.68" fill="#3486b6"/>
<rect x="267.28" y="203.18" width="12.73" height="12.68" fill="#5e95a0"/>
<rect x="180.30" y="215.55" width="12.73" height="12.68" fill="#f0c15c"/>
<rect x="192.73" y="215.55" width="12.73" height="12.68" fill="#f0c15c"/>
<rect x="205.15" y="215.55" width="12.73" height="12.68" fill="#f0c15c"/>
<rect x="217.58" y="215.55" width="12.73" height="12.68" fill="#f0c15c"/>
<rect x="230.00" y="215.55" width="12.73" height="12.68" fill="#4d8fa9"/>
<rect x="242.43" y="215.55" width="12.73" height="12.68" fill="#84a28c"/>
<rect x="254.85" y="215.55" width="12.73" height="12.68" fill="#5e95a0"/>
<rect x="267.28" y="215.55" width="12.73" height="12.68" fill="#7ea090"/>
<rect x="180.30" y="227.93" width="12.73" height="12.68" fill="#f0c15c"/>
<rect x="192.73" y="227.93" width="12.73" height="12.68" fill="#f0c15c"/>
<rect x="205.15" y="227.93" width="12.73" height="12.68" fill="#f0c15c"/>
<rect x="217.58" y="227.93" width="12.73" height="12.68" fill="#f0c15c"/>
<rect x="230.00" y="227.93" width="12.73" height="12.68" fill="#5e95a0"/>
<rect x="242.43" y="227.93" width="12.73" height="12.68" fill="#3e89b0"/>
<rect x="254.85" y="227.93" width="12.73" height="12.68" fill="#3e89b0"/>
<rect x="267.28" y="227.93" width="12.73" height="12.68" fill="#5e95a0"/>
<rect x="180.30" y="240.30" width="12.73" height="12.68" fill="#f0c15c"/>
<rect x="192.73" y="240.30" width="12.73" height="12.68" fill="#f0c15c"/>
<rect x="205.15" y="240.30" width="12.73" height="12.68" fill="#f0c15c"/>
<rect x="217.58" y="240.30" width="12.73" height="12.68" fill="#f0c15c"/>
<rect x="230.00" y="240.30" width="12.73" height="12.68" fill="#2a82bc"/>
<rect x="242.43" y="240.30" width="12.73" height="12.68" fill="#5e95a0"/>
<rect x="254.85" y="240.30" width="12.73" height="12.68" fill="#1f7ec1"/>
<rect x="267.28" y="240.30" width="12.73" height="12.68" fill="#3486b6"/>
<rect x="180.30" y="252.68" width="12.73" height="12.68" fill="#dbbb65"/>
<rect x="192.73" y="252.68" width="12.73" height="12.68" fill="#f0c15c"/>
<rect x="205.15" y="252.68" width="12.73" height="12.68" fill="#f0c15c"/>
<rect x="217.58" y="252.68" width="12.73" height="12.68" fill="#f0c15c"/>
<rect x="230.00" y="252.68" width="12.73" height="12.68" fill="#3e89b0"/>
<rect x="242.43" y="252.68" width="12.73" height="12.68" fill="#3e89b0"/>
<rect x="254.85" y="252.68" width="12.73" height="12.68" fill="#88a48a"/>
<rect x="267.28" y="252.68" width="12.73" height="12.68" fill="#3486b6"/>
<rect x="180.30" y="265.05" width="12.73" height="12.68" fill="#f0c15c"/>
<rect x="192.73" y="265.05" width="12.73" height="12.68" fill="#f0c15c"/>
<rect x="205.15" y="265.05" width="12.73" height="12.68" fill="#f0c15c"/>
<rect x="217.58" y="265.05" width="12.73" height="12.68" fill="#f0c15c"/>
<rect x="230.00" y="265.05" width="12.73" height="12.68" fill="#1f7ec1"/>
<rect x="242.43" y="265.05" width="12.73" height="12.68" fill="#3486b6"/>
<rect x="254.85" y="265.05" width="12.73" height="12.68" fill="#3486b6"/>
<rect x="267.28" y="265.05" width="12.73" height="12.68" fill="#3486b6"/>
<rect x="180.30" y="277.43" width="12.73" height="12.68" fill="#f0c15c"/>
<rect x="192.73" y="277.43" width="12.73" height="12.68" fill="#f0c15c"/>
<rect x="205.15" y="277.43" width="12.73" height="12.68" fill="#f0c15c"/>
<rect x="217.58" y="277.43" width="12.73" height="12.68" fill="#f0c15c"/>
<rect x="230.00" y="277.43" width="12.73" height="12.68" fill="#498dab"/>
<rect x="242.43" y="277.43" width="12.73" height="12.68" fill="#3e89b0"/>
<rect x="254.85" y="277.43" width="12.73" height="12.68" fill="#5e95a0"/>
<rect x="267.28" y="277.43" width="12.73" height="12.68" fill="#3084b8"/>
</g>
<text x="190.1" y="180.6" font-size="13.5" textLength="76.5" lengthAdjust="spacingAndGlyphs" fill="#000" >Cue-id A last</text>
<text x="173.4" y="200.5" font-size="9.8" text-anchor="end" fill="#000" >1</text>
<text x="173.4" y="212.9" font-size="9.8" text-anchor="end" fill="#000" >2</text>
<text x="173.4" y="225.2" font-size="9.8" text-anchor="end" fill="#000" >3</text>
<text x="173.4" y="237.6" font-size="9.8" text-anchor="end" fill="#000" >4</text>
<text x="173.4" y="250.0" font-size="9.8" text-anchor="end" fill="#000" >5</text>
<text x="173.4" y="262.4" font-size="9.8" text-anchor="end" fill="#000" >6</text>
<text x="173.4" y="274.7" font-size="9.8" text-anchor="end" fill="#000" >7</text>
<text x="173.4" y="287.1" font-size="9.8" text-anchor="end" fill="#000" >8</text>
<text x="185.0" y="301.6" font-size="9.8" text-anchor="middle" fill="#000" >1</text>
<text x="197.2" y="301.6" font-size="9.8" text-anchor="middle" fill="#000" >2</text>
<text x="211.2" y="301.6" font-size="9.8" text-anchor="middle" fill="#000" >3</text>
<text x="225.3" y="301.6" font-size="9.8" text-anchor="middle" fill="#000" >4</text>
<text x="237.3" y="301.6" font-size="9.8" text-anchor="middle" fill="#000" >5</text>
<text x="248.9" y="301.6" font-size="9.8" text-anchor="middle" fill="#000" >6</text>
<text x="261.1" y="301.6" font-size="9.8" text-anchor="middle" fill="#000" >7</text>
<text x="275.0" y="301.6" font-size="9.8" text-anchor="middle" fill="#000" >8</text>
<text x="184.1" y="316.0" font-size="10.8" textLength="81" lengthAdjust="spacingAndGlyphs" xml:space="preserve">Odor id on trial  t</text>
<g shape-rendering="crispEdges">
<rect x="313.30" y="190.80" width="12.78" height="12.68" fill="#f0c15c"/>
<rect x="325.78" y="190.80" width="12.78" height="12.68" fill="#f0c15c"/>
<rect x="338.25" y="190.80" width="12.78" height="12.68" fill="#f0c15c"/>
<rect x="350.73" y="190.80" width="12.78" height="12.68" fill="#f0c15c"/>
<rect x="363.20" y="190.80" width="12.78" height="12.68" fill="#7ea090"/>
<rect x="375.68" y="190.80" width="12.78" height="12.68" fill="#6f9b97"/>
<rect x="388.15" y="190.80" width="12.78" height="12.68" fill="#a7ad7c"/>
<rect x="400.62" y="190.80" width="12.78" height="12.68" fill="#88a48a"/>
<rect x="313.30" y="203.18" width="12.78" height="12.68" fill="#f0c15c"/>
<rect x="325.78" y="203.18" width="12.78" height="12.68" fill="#f0c15c"/>
<rect x="338.25" y="203.18" width="12.78" height="12.68" fill="#dfbc63"/>
<rect x="350.73" y="203.18" width="12.78" height="12.68" fill="#f0c15c"/>
<rect x="363.20" y="203.18" width="12.78" height="12.68" fill="#88a48a"/>
<rect x="375.68" y="203.18" width="12.78" height="12.68" fill="#84a28c"/>
<rect x="388.15" y="203.18" width="12.78" height="12.68" fill="#9daa81"/>
<rect x="400.62" y="203.18" width="12.78" height="12.68" fill="#7ea090"/>
<rect x="313.30" y="215.55" width="12.78" height="12.68" fill="#f0c15c"/>
<rect x="325.78" y="215.55" width="12.78" height="12.68" fill="#f0c15c"/>
<rect x="338.25" y="215.55" width="12.78" height="12.68" fill="#e1bd62"/>
<rect x="350.73" y="215.55" width="12.78" height="12.68" fill="#f0c15c"/>
<rect x="363.20" y="215.55" width="12.78" height="12.68" fill="#8ca588"/>
<rect x="375.68" y="215.55" width="12.78" height="12.68" fill="#88a48a"/>
<rect x="388.15" y="215.55" width="12.78" height="12.68" fill="#9daa81"/>
<rect x="400.62" y="215.55" width="12.78" height="12.68" fill="#68999a"/>
<rect x="313.30" y="227.93" width="12.78" height="12.68" fill="#dbbb65"/>
<rect x="325.78" y="227.93" width="12.78" height="12.68" fill="#f0c15c"/>
<rect x="338.25" y="227.93" width="12.78" height="12.68" fill="#f0c15c"/>
<rect x="350.73" y="227.93" width="12.78" height="12.68" fill="#f0c15c"/>
<rect x="363.20" y="227.93" width="12.78" height="12.68" fill="#8ca588"/>
<rect x="375.68" y="227.93" width="12.78" height="12.68" fill="#7ea090"/>
<rect x="388.15" y="227.93" width="12.78" height="12.68" fill="#a7ad7c"/>
<rect x="400.62" y="227.93" width="12.78" height="12.68" fill="#779e93"/>
<rect x="313.30" y="240.30" width="12.78" height="12.68" fill="#f0c15c"/>
<rect x="325.78" y="240.30" width="12.78" height="12.68" fill="#f0c15c"/>
<rect x="338.25" y="240.30" width="12.78" height="12.68" fill="#f0c15c"/>
<rect x="350.73" y="240.30" width="12.78" height="12.68" fill="#f0c15c"/>
<rect x="363.20" y="240.30" width="12.78" height="12.68" fill="#3887b4"/>
<rect x="375.68" y="240.30" width="12.78" height="12.68" fill="#9daa81"/>
<rect x="388.15" y="240.30" width="12.78" height="12.68" fill="#a1ab7f"/>
<rect x="400.62" y="240.30" width="12.78" height="12.68" fill="#3887b4"/>
<rect x="313.30" y="252.68" width="12.78" height="12.68" fill="#f0c15c"/>
<rect x="325.78" y="252.68" width="12.78" height="12.68" fill="#f0c15c"/>
<rect x="338.25" y="252.68" width="12.78" height="12.68" fill="#f0c15c"/>
<rect x="350.73" y="252.68" width="12.78" height="12.68" fill="#f0c15c"/>
<rect x="363.20" y="252.68" width="12.78" height="12.68" fill="#99a983"/>
<rect x="375.68" y="252.68" width="12.78" height="12.68" fill="#3486b6"/>
<rect x="388.15" y="252.68" width="12.78" height="12.68" fill="#b6b176"/>
<rect x="400.62" y="252.68" width="12.78" height="12.68" fill="#5e95a0"/>
<rect x="313.30" y="265.05" width="12.78" height="12.68" fill="#f0c15c"/>
<rect x="325.78" y="265.05" width="12.78" height="12.68" fill="#f0c15c"/>
<rect x="338.25" y="265.05" width="12.78" height="12.68" fill="#f0c15c"/>
<rect x="350.73" y="265.05" width="12.78" height="12.68" fill="#e6be61"/>
<rect x="363.20" y="265.05" width="12.78" height="12.68" fill="#3887b4"/>
<rect x="375.68" y="265.05" width="12.78" height="12.68" fill="#62969e"/>
<rect x="388.15" y="265.05" width="12.78" height="12.68" fill="#498dab"/>
<rect x="400.62" y="265.05" width="12.78" height="12.68" fill="#9daa81"/>
<rect x="313.30" y="277.43" width="12.78" height="12.68" fill="#f0c15c"/>
<rect x="325.78" y="277.43" width="12.78" height="12.68" fill="#f0c15c"/>
<rect x="338.25" y="277.43" width="12.78" height="12.68" fill="#e6be61"/>
<rect x="350.73" y="277.43" width="12.78" height="12.68" fill="#e6be61"/>
<rect x="363.20" y="277.43" width="12.78" height="12.68" fill="#84a28c"/>
<rect x="375.68" y="277.43" width="12.78" height="12.68" fill="#99a983"/>
<rect x="388.15" y="277.43" width="12.78" height="12.68" fill="#1f7ec1"/>
<rect x="400.62" y="277.43" width="12.78" height="12.68" fill="#458cad"/>
</g>
<text x="329.9" y="180.6" font-size="13.5" textLength="61.3" lengthAdjust="spacingAndGlyphs" fill="#000" >Cue-id B 1</text>
<text x="391.8" y="175.4" font-size="8.5" textLength="7.4" lengthAdjust="spacingAndGlyphs" fill="#000" >st</text>
<text x="309.9" y="201.0" font-size="9.8" text-anchor="end" fill="#000" >9</text>
<text x="309.9" y="213.4" font-size="9.8" text-anchor="end" fill="#000" >10</text>
<text x="309.9" y="225.7" font-size="9.8" text-anchor="end" fill="#000" >11</text>
<text x="309.9" y="238.1" font-size="9.8" text-anchor="end" fill="#000" >12</text>
<text x="309.9" y="250.5" font-size="9.8" text-anchor="end" fill="#000" >13</text>
<text x="309.9" y="262.9" font-size="9.8" text-anchor="end" fill="#000" >14</text>
<text x="309.9" y="275.2" font-size="9.8" text-anchor="end" fill="#000" >15</text>
<text x="309.9" y="287.6" font-size="9.8" text-anchor="end" fill="#000" >16</text>
<text x="320.3" y="301.2" font-size="9.8" text-anchor="middle" fill="#000" >9</text>
<text x="330.9" y="301.2" font-size="9.4" text-anchor="middle" fill="#000" >10</text>
<text x="344.1" y="301.2" font-size="9.4" text-anchor="middle" fill="#000" >11</text>
<text x="357.3" y="301.2" font-size="9.4" text-anchor="middle" fill="#000" >12</text>
<text x="370.5" y="301.2" font-size="9.4" text-anchor="middle" fill="#000" >13</text>
<text x="383.8" y="301.2" font-size="9.4" text-anchor="middle" fill="#000" >14</text>
<text x="397.0" y="301.2" font-size="9.4" text-anchor="middle" fill="#000" >15</text>
<text x="410.2" y="301.2" font-size="9.4" text-anchor="middle" fill="#000" >16</text>
<text x="314.7" y="316.0" font-size="10.8" textLength="81" lengthAdjust="spacingAndGlyphs" xml:space="preserve">Odor id on trial  t</text>
<g shape-rendering="crispEdges">
<rect x="447.30" y="190.80" width="12.76" height="12.68" fill="#f0c15c"/>
<rect x="459.76" y="190.80" width="12.76" height="12.68" fill="#f0c15c"/>
<rect x="472.23" y="190.80" width="12.76" height="12.68" fill="#f0c15c"/>
<rect x="484.69" y="190.80" width="12.76" height="12.68" fill="#f0c15c"/>
<rect x="497.15" y="190.80" width="12.76" height="12.68" fill="#3887b4"/>
<rect x="509.61" y="190.80" width="12.76" height="12.68" fill="#3486b6"/>
<rect x="522.08" y="190.80" width="12.76" height="12.68" fill="#3887b4"/>
<rect x="534.54" y="190.80" width="12.76" height="12.68" fill="#3887b4"/>
<rect x="447.30" y="203.18" width="12.76" height="12.68" fill="#f0c15c"/>
<rect x="459.76" y="203.18" width="12.76" height="12.68" fill="#f0c15c"/>
<rect x="472.23" y="203.18" width="12.76" height="12.68" fill="#f0c15c"/>
<rect x="484.69" y="203.18" width="12.76" height="12.68" fill="#f0c15c"/>
<rect x="497.15" y="203.18" width="12.76" height="12.68" fill="#458cad"/>
<rect x="509.61" y="203.18" width="12.76" height="12.68" fill="#3486b6"/>
<rect x="522.08" y="203.18" width="12.76" height="12.68" fill="#1f7ec1"/>
<rect x="534.54" y="203.18" width="12.76" height="12.68" fill="#5491a6"/>
<rect x="447.30" y="215.55" width="12.76" height="12.68" fill="#f0c15c"/>
<rect x="459.76" y="215.55" width="12.76" height="12.68" fill="#f0c15c"/>
<rect x="472.23" y="215.55" width="12.76" height="12.68" fill="#f0c15c"/>
<rect x="484.69" y="215.55" width="12.76" height="12.68" fill="#f0c15c"/>
<rect x="497.15" y="215.55" width="12.76" height="12.68" fill="#3e89b0"/>
<rect x="509.61" y="215.55" width="12.76" height="12.68" fill="#5e95a0"/>
<rect x="522.08" y="215.55" width="12.76" height="12.68" fill="#62969e"/>
<rect x="534.54" y="215.55" width="12.76" height="12.68" fill="#2a82bc"/>
<rect x="447.30" y="227.93" width="12.76" height="12.68" fill="#f0c15c"/>
<rect x="459.76" y="227.93" width="12.76" height="12.68" fill="#f0c15c"/>
<rect x="472.23" y="227.93" width="12.76" height="12.68" fill="#f0c15c"/>
<rect x="484.69" y="227.93" width="12.76" height="12.68" fill="#f0c15c"/>
<rect x="497.15" y="227.93" width="12.76" height="12.68" fill="#3e89b0"/>
<rect x="509.61" y="227.93" width="12.76" height="12.68" fill="#3486b6"/>
<rect x="522.08" y="227.93" width="12.76" height="12.68" fill="#498dab"/>
<rect x="534.54" y="227.93" width="12.76" height="12.68" fill="#3887b4"/>
<rect x="447.30" y="240.30" width="12.76" height="12.68" fill="#f0c15c"/>
<rect x="459.76" y="240.30" width="12.76" height="12.68" fill="#f0c15c"/>
<rect x="472.23" y="240.30" width="12.76" height="12.68" fill="#f0c15c"/>
<rect x="484.69" y="240.30" width="12.76" height="12.68" fill="#f0c15c"/>
<rect x="497.15" y="240.30" width="12.76" height="12.68" fill="#2380bf"/>
<rect x="509.61" y="240.30" width="12.76" height="12.68" fill="#498dab"/>
<rect x="522.08" y="240.30" width="12.76" height="12.68" fill="#3887b4"/>
<rect x="534.54" y="240.30" width="12.76" height="12.68" fill="#1f7ec1"/>
<rect x="447.30" y="252.68" width="12.76" height="12.68" fill="#f0c15c"/>
<rect x="459.76" y="252.68" width="12.76" height="12.68" fill="#f0c15c"/>
<rect x="472.23" y="252.68" width="12.76" height="12.68" fill="#f0c15c"/>
<rect x="484.69" y="252.68" width="12.76" height="12.68" fill="#f0c15c"/>
<rect x="497.15" y="252.68" width="12.76" height="12.68" fill="#5e95a0"/>
<rect x="509.61" y="252.68" width="12.76" height="12.68" fill="#2380bf"/>
<rect x="522.08" y="252.68" width="12.76" height="12.68" fill="#4d8fa9"/>
<rect x="534.54" y="252.68" width="12.76" height="12.68" fill="#3887b4"/>
<rect x="447.30" y="265.05" width="12.76" height="12.68" fill="#f0c15c"/>
<rect x="459.76" y="265.05" width="12.76" height="12.68" fill="#f0c15c"/>
<rect x="472.23" y="265.05" width="12.76" height="12.68" fill="#f0c15c"/>
<rect x="484.69" y="265.05" width="12.76" height="12.68" fill="#f0c15c"/>
<rect x="497.15" y="265.05" width="12.76" height="12.68" fill="#3486b6"/>
<rect x="509.61" y="265.05" width="12.76" height="12.68" fill="#498dab"/>
<rect x="522.08" y="265.05" width="12.76" height="12.68" fill="#2c83ba"/>
<rect x="534.54" y="265.05" width="12.76" height="12.68" fill="#498dab"/>
<rect x="447.30" y="277.43" width="12.76" height="12.68" fill="#f0c15c"/>
<rect x="459.76" y="277.43" width="12.76" height="12.68" fill="#f0c15c"/>
<rect x="472.23" y="277.43" width="12.76" height="12.68" fill="#f0c15c"/>
<rect x="484.69" y="277.43" width="12.76" height="12.68" fill="#f0c15c"/>
<rect x="497.15" y="277.43" width="12.76" height="12.68" fill="#3486b6"/>
<rect x="509.61" y="277.43" width="12.76" height="12.68" fill="#3486b6"/>
<rect x="522.08" y="277.43" width="12.76" height="12.68" fill="#2580be"/>
<rect x="534.54" y="277.43" width="12.76" height="12.68" fill="#3887b4"/>
</g>
<text x="466" y="180.6" font-size="13.5" textLength="75.6" lengthAdjust="spacingAndGlyphs" fill="#000" >Cue-id B last</text>
<text x="441.3" y="200.5" font-size="9.8" text-anchor="end" fill="#000" >9</text>
<text x="441.3" y="212.9" font-size="9.8" text-anchor="end" fill="#000" >10</text>
<text x="441.3" y="225.2" font-size="9.8" text-anchor="end" fill="#000" >11</text>
<text x="441.3" y="237.6" font-size="9.8" text-anchor="end" fill="#000" >12</text>
<text x="441.3" y="250.0" font-size="9.8" text-anchor="end" fill="#000" >13</text>
<text x="441.3" y="262.4" font-size="9.8" text-anchor="end" fill="#000" >14</text>
<text x="441.3" y="274.7" font-size="9.8" text-anchor="end" fill="#000" >15</text>
<text x="441.3" y="287.1" font-size="9.8" text-anchor="end" fill="#000" >16</text>
<text x="451.2" y="300.8" font-size="9.8" text-anchor="middle" fill="#000" >9</text>
<text x="461.8" y="300.8" font-size="9.4" text-anchor="middle" fill="#000" >10</text>
<text x="474.9" y="300.8" font-size="9.4" text-anchor="middle" fill="#000" >11</text>
<text x="488.1" y="300.8" font-size="9.4" text-anchor="middle" fill="#000" >12</text>
<text x="501.3" y="300.8" font-size="9.4" text-anchor="middle" fill="#000" >13</text>
<text x="514.5" y="300.8" font-size="9.4" text-anchor="middle" fill="#000" >14</text>
<text x="527.7" y="300.8" font-size="9.4" text-anchor="middle" fill="#000" >15</text>
<text x="540.9" y="300.8" font-size="9.4" text-anchor="middle" fill="#000" >16</text>
<text x="454.0" y="316.0" font-size="10.8" textLength="81" lengthAdjust="spacingAndGlyphs" xml:space="preserve">Odor id on trial  t</text>
<text transform="translate(23.3,238) rotate(-90)" font-size="11" text-anchor="middle" textLength="89" lengthAdjust="spacingAndGlyphs" xml:space="preserve">Odor id on trial  t-1</text>
<g shape-rendering="crispEdges">
<rect x="45.80" y="379.20" width="12.70" height="12.62" fill="#dfbc63"/>
<rect x="58.20" y="379.20" width="12.70" height="12.62" fill="#f0c15c"/>
<rect x="70.60" y="379.20" width="12.70" height="12.62" fill="#f0c15c"/>
<rect x="83.00" y="379.20" width="12.70" height="12.62" fill="#f0c15c"/>
<rect x="95.40" y="379.20" width="12.70" height="12.62" fill="#c6b56e"/>
<rect x="107.80" y="379.20" width="12.70" height="12.62" fill="#bcb273"/>
<rect x="120.20" y="379.20" width="12.70" height="12.62" fill="#d1b86a"/>
<rect x="132.60" y="379.20" width="12.70" height="12.62" fill="#d7ba67"/>
<rect x="45.80" y="391.52" width="12.70" height="12.62" fill="#f0c15c"/>
<rect x="58.20" y="391.52" width="12.70" height="12.62" fill="#f0c15c"/>
<rect x="70.60" y="391.52" width="12.70" height="12.62" fill="#f0c15c"/>
<rect x="83.00" y="391.52" width="12.70" height="12.62" fill="#f0c15c"/>
<rect x="95.40" y="391.52" width="12.70" height="12.62" fill="#c6b56e"/>
<rect x="107.80" y="391.52" width="12.70" height="12.62" fill="#a1ab7f"/>
<rect x="120.20" y="391.52" width="12.70" height="12.62" fill="#dbbb65"/>
<rect x="132.60" y="391.52" width="12.70" height="12.62" fill="#b6b176"/>
<rect x="45.80" y="403.85" width="12.70" height="12.62" fill="#f0c15c"/>
<rect x="58.20" y="403.85" width="12.70" height="12.62" fill="#f0c15c"/>
<rect x="70.60" y="403.85" width="12.70" height="12.62" fill="#e6be61"/>
<rect x="83.00" y="403.85" width="12.70" height="12.62" fill="#d1b86a"/>
<rect x="95.40" y="403.85" width="12.70" height="12.62" fill="#bcb273"/>
<rect x="107.80" y="403.85" width="12.70" height="12.62" fill="#bcb273"/>
<rect x="120.20" y="403.85" width="12.70" height="12.62" fill="#a1ab7f"/>
<rect x="132.60" y="403.85" width="12.70" height="12.62" fill="#a7ad7c"/>
<rect x="45.80" y="416.17" width="12.70" height="12.62" fill="#adae79"/>
<rect x="58.20" y="416.17" width="12.70" height="12.62" fill="#f0c15c"/>
<rect x="70.60" y="416.17" width="12.70" height="12.62" fill="#f0c15c"/>
<rect x="83.00" y="416.17" width="12.70" height="12.62" fill="#f0c15c"/>
<rect x="95.40" y="416.17" width="12.70" height="12.62" fill="#bcb273"/>
<rect x="107.80" y="416.17" width="12.70" height="12.62" fill="#b2b078"/>
<rect x="120.20" y="416.17" width="12.70" height="12.62" fill="#d1b86a"/>
<rect x="132.60" y="416.17" width="12.70" height="12.62" fill="#b6b176"/>
<rect x="45.80" y="428.50" width="12.70" height="12.62" fill="#e1bd62"/>
<rect x="58.20" y="428.50" width="12.70" height="12.62" fill="#eabf5f"/>
<rect x="70.60" y="428.50" width="12.70" height="12.62" fill="#e1bd62"/>
<rect x="83.00" y="428.50" width="12.70" height="12.62" fill="#e1bd62"/>
<rect x="95.40" y="428.50" width="12.70" height="12.62" fill="#c6b56e"/>
<rect x="107.80" y="428.50" width="12.70" height="12.62" fill="#f0c15c"/>
<rect x="120.20" y="428.50" width="12.70" height="12.62" fill="#c2b470"/>
<rect x="132.60" y="428.50" width="12.70" height="12.62" fill="#88a48a"/>
<rect x="45.80" y="440.82" width="12.70" height="12.62" fill="#eabf5f"/>
<rect x="58.20" y="440.82" width="12.70" height="12.62" fill="#e1bd62"/>
<rect x="70.60" y="440.82" width="12.70" height="12.62" fill="#eabf5f"/>
<rect x="83.00" y="440.82" width="12.70" height="12.62" fill="#dbbb65"/>
<rect x="95.40" y="440.82" width="12.70" height="12.62" fill="#c6b56e"/>
<rect x="107.80" y="440.82" width="12.70" height="12.62" fill="#9daa81"/>
<rect x="120.20" y="440.82" width="12.70" height="12.62" fill="#f0c15c"/>
<rect x="132.60" y="440.82" width="12.70" height="12.62" fill="#d1b86a"/>
<rect x="45.80" y="453.15" width="12.70" height="12.62" fill="#e1bd62"/>
<rect x="58.20" y="453.15" width="12.70" height="12.62" fill="#eabf5f"/>
<rect x="70.60" y="453.15" width="12.70" height="12.62" fill="#e1bd62"/>
<rect x="83.00" y="453.15" width="12.70" height="12.62" fill="#eabf5f"/>
<rect x="95.40" y="453.15" width="12.70" height="12.62" fill="#c6b56e"/>
<rect x="107.80" y="453.15" width="12.70" height="12.62" fill="#f0c15c"/>
<rect x="120.20" y="453.15" width="12.70" height="12.62" fill="#b2b078"/>
<rect x="132.60" y="453.15" width="12.70" height="12.62" fill="#a1ab7f"/>
<rect x="45.80" y="465.47" width="12.70" height="12.62" fill="#e6be61"/>
<rect x="58.20" y="465.47" width="12.70" height="12.62" fill="#dfbc63"/>
<rect x="70.60" y="465.47" width="12.70" height="12.62" fill="#c6b56e"/>
<rect x="83.00" y="465.47" width="12.70" height="12.62" fill="#dfbc63"/>
<rect x="95.40" y="465.47" width="12.70" height="12.62" fill="#bcb273"/>
<rect x="107.80" y="465.47" width="12.70" height="12.62" fill="#c2b470"/>
<rect x="120.20" y="465.47" width="12.70" height="12.62" fill="#d1b86a"/>
<rect x="132.60" y="465.47" width="12.70" height="12.62" fill="#b2b078"/>
</g>
<text x="59.3" y="366.8" font-size="13.5" textLength="60.1" lengthAdjust="spacingAndGlyphs" fill="#000" >Cue-id A 1</text>
<text x="119.99999999999999" y="361.6" font-size="8.5" textLength="7.4" lengthAdjust="spacingAndGlyphs" fill="#000" >st</text>
<text x="40.9" y="388.9" font-size="9.8" text-anchor="end" fill="#000" >1</text>
<text x="40.9" y="401.2" font-size="9.8" text-anchor="end" fill="#000" >2</text>
<text x="40.9" y="413.5" font-size="9.8" text-anchor="end" fill="#000" >3</text>
<text x="40.9" y="425.8" font-size="9.8" text-anchor="end" fill="#000" >4</text>
<text x="40.9" y="438.2" font-size="9.8" text-anchor="end" fill="#000" >5</text>
<text x="40.9" y="450.5" font-size="9.8" text-anchor="end" fill="#000" >6</text>
<text x="40.9" y="462.8" font-size="9.8" text-anchor="end" fill="#000" >7</text>
<text x="40.9" y="475.1" font-size="9.8" text-anchor="end" fill="#000" >8</text>
<text x="50.9" y="490.6" font-size="9.8" text-anchor="middle" fill="#000" >1</text>
<text x="63.1" y="490.6" font-size="9.8" text-anchor="middle" fill="#000" >2</text>
<text x="77.1" y="490.6" font-size="9.8" text-anchor="middle" fill="#000" >3</text>
<text x="91.2" y="490.6" font-size="9.8" text-anchor="middle" fill="#000" >4</text>
<text x="103.2" y="490.6" font-size="9.8" text-anchor="middle" fill="#000" >5</text>
<text x="114.8" y="490.6" font-size="9.8" text-anchor="middle" fill="#000" >6</text>
<text x="127.0" y="490.6" font-size="9.8" text-anchor="middle" fill="#000" >7</text>
<text x="140.9" y="490.6" font-size="9.8" text-anchor="middle" fill="#000" >8</text>
<text x="54.5" y="507.8" font-size="10.8" textLength="81" lengthAdjust="spacingAndGlyphs" xml:space="preserve">Odor id on trial  t</text>
<g shape-rendering="crispEdges">
<rect x="180.20" y="379.20" width="12.73" height="12.62" fill="#e1bd62"/>
<rect x="192.62" y="379.20" width="12.73" height="12.62" fill="#f0c15c"/>
<rect x="205.05" y="379.20" width="12.73" height="12.62" fill="#f0c15c"/>
<rect x="217.47" y="379.20" width="12.73" height="12.62" fill="#f0c15c"/>
<rect x="229.90" y="379.20" width="12.73" height="12.62" fill="#3e89b0"/>
<rect x="242.32" y="379.20" width="12.73" height="12.62" fill="#3486b6"/>
<rect x="254.75" y="379.20" width="12.73" height="12.62" fill="#3887b4"/>
<rect x="267.18" y="379.20" width="12.73" height="12.62" fill="#3887b4"/>
<rect x="180.20" y="391.52" width="12.73" height="12.62" fill="#f0c15c"/>
<rect x="192.62" y="391.52" width="12.73" height="12.62" fill="#f0c15c"/>
<rect x="205.05" y="391.52" width="12.73" height="12.62" fill="#f0c15c"/>
<rect x="217.47" y="391.52" width="12.73" height="12.62" fill="#f0c15c"/>
<rect x="229.90" y="391.52" width="12.73" height="12.62" fill="#3084b8"/>
<rect x="242.32" y="391.52" width="12.73" height="12.62" fill="#3e89b0"/>
<rect x="254.75" y="391.52" width="12.73" height="12.62" fill="#3e89b0"/>
<rect x="267.18" y="391.52" width="12.73" height="12.62" fill="#1f7ec1"/>
<rect x="180.20" y="403.85" width="12.73" height="12.62" fill="#f0c15c"/>
<rect x="192.62" y="403.85" width="12.73" height="12.62" fill="#f0c15c"/>
<rect x="205.05" y="403.85" width="12.73" height="12.62" fill="#f0c15c"/>
<rect x="217.47" y="403.85" width="12.73" height="12.62" fill="#f0c15c"/>
<rect x="229.90" y="403.85" width="12.73" height="12.62" fill="#3e89b0"/>
<rect x="242.32" y="403.85" width="12.73" height="12.62" fill="#5491a6"/>
<rect x="254.75" y="403.85" width="12.73" height="12.62" fill="#3486b6"/>
<rect x="267.18" y="403.85" width="12.73" height="12.62" fill="#498dab"/>
<rect x="180.20" y="416.17" width="12.73" height="12.62" fill="#f0c15c"/>
<rect x="192.62" y="416.17" width="12.73" height="12.62" fill="#f0c15c"/>
<rect x="205.05" y="416.17" width="12.73" height="12.62" fill="#f0c15c"/>
<rect x="217.47" y="416.17" width="12.73" height="12.62" fill="#f0c15c"/>
<rect x="229.90" y="416.17" width="12.73" height="12.62" fill="#2a82bc"/>
<rect x="242.32" y="416.17" width="12.73" height="12.62" fill="#3e89b0"/>
<rect x="254.75" y="416.17" width="12.73" height="12.62" fill="#3887b4"/>
<rect x="267.18" y="416.17" width="12.73" height="12.62" fill="#3887b4"/>
<rect x="180.20" y="428.50" width="12.73" height="12.62" fill="#f0c15c"/>
<rect x="192.62" y="428.50" width="12.73" height="12.62" fill="#f0c15c"/>
<rect x="205.05" y="428.50" width="12.73" height="12.62" fill="#f0c15c"/>
<rect x="217.47" y="428.50" width="12.73" height="12.62" fill="#f0c15c"/>
<rect x="229.90" y="428.50" width="12.73" height="12.62" fill="#3e89b0"/>
<rect x="242.32" y="428.50" width="12.73" height="12.62" fill="#3e89b0"/>
<rect x="254.75" y="428.50" width="12.73" height="12.62" fill="#1f7ec1"/>
<rect x="267.18" y="428.50" width="12.73" height="12.62" fill="#1f7ec1"/>
<rect x="180.20" y="440.82" width="12.73" height="12.62" fill="#f0c15c"/>
<rect x="192.62" y="440.82" width="12.73" height="12.62" fill="#f0c15c"/>
<rect x="205.05" y="440.82" width="12.73" height="12.62" fill="#f0c15c"/>
<rect x="217.47" y="440.82" width="12.73" height="12.62" fill="#f0c15c"/>
<rect x="229.90" y="440.82" width="12.73" height="12.62" fill="#2380bf"/>
<rect x="242.32" y="440.82" width="12.73" height="12.62" fill="#3486b6"/>
<rect x="254.75" y="440.82" width="12.73" height="12.62" fill="#498dab"/>
<rect x="267.18" y="440.82" width="12.73" height="12.62" fill="#3887b4"/>
<rect x="180.20" y="453.15" width="12.73" height="12.62" fill="#f0c15c"/>
<rect x="192.62" y="453.15" width="12.73" height="12.62" fill="#f0c15c"/>
<rect x="205.05" y="453.15" width="12.73" height="12.62" fill="#f0c15c"/>
<rect x="217.47" y="453.15" width="12.73" height="12.62" fill="#e1bd62"/>
<rect x="229.90" y="453.15" width="12.73" height="12.62" fill="#3e89b0"/>
<rect x="242.32" y="453.15" width="12.73" height="12.62" fill="#1f7ec1"/>
<rect x="254.75" y="453.15" width="12.73" height="12.62" fill="#3e89b0"/>
<rect x="267.18" y="453.15" width="12.73" height="12.62" fill="#4d8fa9"/>
<rect x="180.20" y="465.47" width="12.73" height="12.62" fill="#f0c15c"/>
<rect x="192.62" y="465.47" width="12.73" height="12.62" fill="#f0c15c"/>
<rect x="205.05" y="465.47" width="12.73" height="12.62" fill="#f0c15c"/>
<rect x="217.47" y="465.47" width="12.73" height="12.62" fill="#f0c15c"/>
<rect x="229.90" y="465.47" width="12.73" height="12.62" fill="#2380bf"/>
<rect x="242.32" y="465.47" width="12.73" height="12.62" fill="#2380bf"/>
<rect x="254.75" y="465.47" width="12.73" height="12.62" fill="#2380bf"/>
<rect x="267.18" y="465.47" width="12.73" height="12.62" fill="#3486b6"/>
</g>
<text x="183.2" y="366.8" font-size="13.5" textLength="75.2" lengthAdjust="spacingAndGlyphs" fill="#000" >Cue-id A last</text>
<text x="172.7" y="392.4" font-size="9.8" text-anchor="end" fill="#000" >1</text>
<text x="172.7" y="404.7" font-size="9.8" text-anchor="end" fill="#000" >2</text>
<text x="172.7" y="417.0" font-size="9.8" text-anchor="end" fill="#000" >3</text>
<text x="172.7" y="429.3" font-size="9.8" text-anchor="end" fill="#000" >4</text>
<text x="172.7" y="441.7" font-size="9.8" text-anchor="end" fill="#000" >5</text>
<text x="172.7" y="454.0" font-size="9.8" text-anchor="end" fill="#000" >6</text>
<text x="172.7" y="466.3" font-size="9.8" text-anchor="end" fill="#000" >7</text>
<text x="172.7" y="478.6" font-size="9.8" text-anchor="end" fill="#000" >8</text>
<text x="182.7" y="490.6" font-size="9.8" text-anchor="middle" fill="#000" >1</text>
<text x="194.9" y="490.6" font-size="9.8" text-anchor="middle" fill="#000" >2</text>
<text x="208.9" y="490.6" font-size="9.8" text-anchor="middle" fill="#000" >3</text>
<text x="223.0" y="490.6" font-size="9.8" text-anchor="middle" fill="#000" >4</text>
<text x="235.0" y="490.6" font-size="9.8" text-anchor="middle" fill="#000" >5</text>
<text x="246.6" y="490.6" font-size="9.8" text-anchor="middle" fill="#000" >6</text>
<text x="258.8" y="490.6" font-size="9.8" text-anchor="middle" fill="#000" >7</text>
<text x="272.7" y="490.6" font-size="9.8" text-anchor="middle" fill="#000" >8</text>
<text x="184.1" y="507.8" font-size="10.8" textLength="81" lengthAdjust="spacingAndGlyphs" xml:space="preserve">Odor id on trial  t</text>
<g shape-rendering="crispEdges">
<rect x="313.30" y="379.20" width="12.78" height="12.62" fill="#f0c15c"/>
<rect x="325.78" y="379.20" width="12.78" height="12.62" fill="#f0c15c"/>
<rect x="338.25" y="379.20" width="12.78" height="12.62" fill="#8ca588"/>
<rect x="350.73" y="379.20" width="12.78" height="12.62" fill="#f0c15c"/>
<rect x="363.20" y="379.20" width="12.78" height="12.62" fill="#92a785"/>
<rect x="375.68" y="379.20" width="12.78" height="12.62" fill="#a7ad7c"/>
<rect x="388.15" y="379.20" width="12.78" height="12.62" fill="#adae79"/>
<rect x="400.62" y="379.20" width="12.78" height="12.62" fill="#739c95"/>
<rect x="313.30" y="391.52" width="12.78" height="12.62" fill="#f0c15c"/>
<rect x="325.78" y="391.52" width="12.78" height="12.62" fill="#f0c15c"/>
<rect x="338.25" y="391.52" width="12.78" height="12.62" fill="#f0c15c"/>
<rect x="350.73" y="391.52" width="12.78" height="12.62" fill="#f0c15c"/>
<rect x="363.20" y="391.52" width="12.78" height="12.62" fill="#779e93"/>
<rect x="375.68" y="391.52" width="12.78" height="12.62" fill="#5491a6"/>
<rect x="388.15" y="391.52" width="12.78" height="12.62" fill="#739c95"/>
<rect x="400.62" y="391.52" width="12.78" height="12.62" fill="#92a785"/>
<rect x="313.30" y="403.85" width="12.78" height="12.62" fill="#f0c15c"/>
<rect x="325.78" y="403.85" width="12.78" height="12.62" fill="#f0c15c"/>
<rect x="338.25" y="403.85" width="12.78" height="12.62" fill="#f0c15c"/>
<rect x="350.73" y="403.85" width="12.78" height="12.62" fill="#f0c15c"/>
<rect x="363.20" y="403.85" width="12.78" height="12.62" fill="#92a785"/>
<rect x="375.68" y="403.85" width="12.78" height="12.62" fill="#a7ad7c"/>
<rect x="388.15" y="403.85" width="12.78" height="12.62" fill="#a7ad7c"/>
<rect x="400.62" y="403.85" width="12.78" height="12.62" fill="#739c95"/>
<rect x="313.30" y="416.17" width="12.78" height="12.62" fill="#d7ba67"/>
<rect x="325.78" y="416.17" width="12.78" height="12.62" fill="#f0c15c"/>
<rect x="338.25" y="416.17" width="12.78" height="12.62" fill="#d7ba67"/>
<rect x="350.73" y="416.17" width="12.78" height="12.62" fill="#e6be61"/>
<rect x="363.20" y="416.17" width="12.78" height="12.62" fill="#779e93"/>
<rect x="375.68" y="416.17" width="12.78" height="12.62" fill="#68999a"/>
<rect x="388.15" y="416.17" width="12.78" height="12.62" fill="#92a785"/>
<rect x="400.62" y="416.17" width="12.78" height="12.62" fill="#739c95"/>
<rect x="313.30" y="428.50" width="12.78" height="12.62" fill="#e6be61"/>
<rect x="325.78" y="428.50" width="12.78" height="12.62" fill="#e6be61"/>
<rect x="338.25" y="428.50" width="12.78" height="12.62" fill="#dfbc63"/>
<rect x="350.73" y="428.50" width="12.78" height="12.62" fill="#e6be61"/>
<rect x="363.20" y="428.50" width="12.78" height="12.62" fill="#92a785"/>
<rect x="375.68" y="428.50" width="12.78" height="12.62" fill="#9daa81"/>
<rect x="388.15" y="428.50" width="12.78" height="12.62" fill="#d1b86a"/>
<rect x="400.62" y="428.50" width="12.78" height="12.62" fill="#99a983"/>
<rect x="313.30" y="440.82" width="12.78" height="12.62" fill="#e1bd62"/>
<rect x="325.78" y="440.82" width="12.78" height="12.62" fill="#f0c15c"/>
<rect x="338.25" y="440.82" width="12.78" height="12.62" fill="#d7ba67"/>
<rect x="350.73" y="440.82" width="12.78" height="12.62" fill="#f0c15c"/>
<rect x="363.20" y="440.82" width="12.78" height="12.62" fill="#a1ab7f"/>
<rect x="375.68" y="440.82" width="12.78" height="12.62" fill="#88a48a"/>
<rect x="388.15" y="440.82" width="12.78" height="12.62" fill="#8ca588"/>
<rect x="400.62" y="440.82" width="12.78" height="12.62" fill="#d1b86a"/>
<rect x="313.30" y="453.15" width="12.78" height="12.62" fill="#f0c15c"/>
<rect x="325.78" y="453.15" width="12.78" height="12.62" fill="#f0c15c"/>
<rect x="338.25" y="453.15" width="12.78" height="12.62" fill="#f0c15c"/>
<rect x="350.73" y="453.15" width="12.78" height="12.62" fill="#f0c15c"/>
<rect x="363.20" y="453.15" width="12.78" height="12.62" fill="#779e93"/>
<rect x="375.68" y="453.15" width="12.78" height="12.62" fill="#3e89b0"/>
<rect x="388.15" y="453.15" width="12.78" height="12.62" fill="#a1ab7f"/>
<rect x="400.62" y="453.15" width="12.78" height="12.62" fill="#458cad"/>
<rect x="313.30" y="465.47" width="12.78" height="12.62" fill="#f0c15c"/>
<rect x="325.78" y="465.47" width="12.78" height="12.62" fill="#f0c15c"/>
<rect x="338.25" y="465.47" width="12.78" height="12.62" fill="#f0c15c"/>
<rect x="350.73" y="465.47" width="12.78" height="12.62" fill="#f0c15c"/>
<rect x="363.20" y="465.47" width="12.78" height="12.62" fill="#5e95a0"/>
<rect x="375.68" y="465.47" width="12.78" height="12.62" fill="#92a785"/>
<rect x="388.15" y="465.47" width="12.78" height="12.62" fill="#1f7ec1"/>
<rect x="400.62" y="465.47" width="12.78" height="12.62" fill="#8ca588"/>
</g>
<text x="319.7" y="366.8" font-size="13.5" textLength="60.4" lengthAdjust="spacingAndGlyphs" fill="#000" >Cue-id B 1</text>
<text x="380.70000000000005" y="361.6" font-size="8.5" textLength="7.4" lengthAdjust="spacingAndGlyphs" fill="#000" >st</text>
<text x="306.8" y="392.4" font-size="9.8" text-anchor="end" fill="#000" >9</text>
<text x="306.8" y="404.7" font-size="9.8" text-anchor="end" fill="#000" >10</text>
<text x="306.8" y="417.0" font-size="9.8" text-anchor="end" fill="#000" >11</text>
<text x="306.8" y="429.3" font-size="9.8" text-anchor="end" fill="#000" >12</text>
<text x="306.8" y="441.7" font-size="9.8" text-anchor="end" fill="#000" >13</text>
<text x="306.8" y="454.0" font-size="9.8" text-anchor="end" fill="#000" >14</text>
<text x="306.8" y="466.3" font-size="9.8" text-anchor="end" fill="#000" >15</text>
<text x="306.8" y="478.6" font-size="9.8" text-anchor="end" fill="#000" >16</text>
<text x="315.9" y="490.7" font-size="9.8" text-anchor="middle" fill="#000" >9</text>
<text x="326.4" y="490.7" font-size="9.4" text-anchor="middle" fill="#000" >10</text>
<text x="339.5" y="490.7" font-size="9.4" text-anchor="middle" fill="#000" >11</text>
<text x="352.5" y="490.7" font-size="9.4" text-anchor="middle" fill="#000" >12</text>
<text x="365.6" y="490.7" font-size="9.4" text-anchor="middle" fill="#000" >13</text>
<text x="378.7" y="490.7" font-size="9.4" text-anchor="middle" fill="#000" >14</text>
<text x="391.8" y="490.7" font-size="9.4" text-anchor="middle" fill="#000" >15</text>
<text x="404.9" y="490.7" font-size="9.4" text-anchor="middle" fill="#000" >16</text>
<text x="314.7" y="507.8" font-size="10.8" textLength="81" lengthAdjust="spacingAndGlyphs" xml:space="preserve">Odor id on trial  t</text>
<g shape-rendering="crispEdges">
<rect x="447.30" y="379.20" width="12.79" height="12.62" fill="#f0c15c"/>
<rect x="459.79" y="379.20" width="12.79" height="12.62" fill="#f0c15c"/>
<rect x="472.28" y="379.20" width="12.79" height="12.62" fill="#f0c15c"/>
<rect x="484.76" y="379.20" width="12.79" height="12.62" fill="#f0c15c"/>
<rect x="497.25" y="379.20" width="12.79" height="12.62" fill="#3887b4"/>
<rect x="509.74" y="379.20" width="12.79" height="12.62" fill="#5e95a0"/>
<rect x="522.23" y="379.20" width="12.79" height="12.62" fill="#3887b4"/>
<rect x="534.71" y="379.20" width="12.79" height="12.62" fill="#5e95a0"/>
<rect x="447.30" y="391.52" width="12.79" height="12.62" fill="#f0c15c"/>
<rect x="459.79" y="391.52" width="12.79" height="12.62" fill="#f0c15c"/>
<rect x="472.28" y="391.52" width="12.79" height="12.62" fill="#f0c15c"/>
<rect x="484.76" y="391.52" width="12.79" height="12.62" fill="#f0c15c"/>
<rect x="497.25" y="391.52" width="12.79" height="12.62" fill="#3887b4"/>
<rect x="509.74" y="391.52" width="12.79" height="12.62" fill="#5e95a0"/>
<rect x="522.23" y="391.52" width="12.79" height="12.62" fill="#3e89b0"/>
<rect x="534.71" y="391.52" width="12.79" height="12.62" fill="#3e89b0"/>
<rect x="447.30" y="403.85" width="12.79" height="12.62" fill="#f0c15c"/>
<rect x="459.79" y="403.85" width="12.79" height="12.62" fill="#f0c15c"/>
<rect x="472.28" y="403.85" width="12.79" height="12.62" fill="#f0c15c"/>
<rect x="484.76" y="403.85" width="12.79" height="12.62" fill="#f0c15c"/>
<rect x="497.25" y="403.85" width="12.79" height="12.62" fill="#458cad"/>
<rect x="509.74" y="403.85" width="12.79" height="12.62" fill="#498dab"/>
<rect x="522.23" y="403.85" width="12.79" height="12.62" fill="#4d8fa9"/>
<rect x="534.71" y="403.85" width="12.79" height="12.62" fill="#3e89b0"/>
<rect x="447.30" y="416.17" width="12.79" height="12.62" fill="#f0c15c"/>
<rect x="459.79" y="416.17" width="12.79" height="12.62" fill="#f0c15c"/>
<rect x="472.28" y="416.17" width="12.79" height="12.62" fill="#f0c15c"/>
<rect x="484.76" y="416.17" width="12.79" height="12.62" fill="#f0c15c"/>
<rect x="497.25" y="416.17" width="12.79" height="12.62" fill="#3887b4"/>
<rect x="509.74" y="416.17" width="12.79" height="12.62" fill="#62969e"/>
<rect x="522.23" y="416.17" width="12.79" height="12.62" fill="#3084b8"/>
<rect x="534.71" y="416.17" width="12.79" height="12.62" fill="#3e89b0"/>
<rect x="447.30" y="428.50" width="12.79" height="12.62" fill="#f0c15c"/>
<rect x="459.79" y="428.50" width="12.79" height="12.62" fill="#f0c15c"/>
<rect x="472.28" y="428.50" width="12.79" height="12.62" fill="#f0c15c"/>
<rect x="484.76" y="428.50" width="12.79" height="12.62" fill="#e1bd62"/>
<rect x="497.25" y="428.50" width="12.79" height="12.62" fill="#3887b4"/>
<rect x="509.74" y="428.50" width="12.79" height="12.62" fill="#3084b8"/>
<rect x="522.23" y="428.50" width="12.79" height="12.62" fill="#1f7ec1"/>
<rect x="534.71" y="428.50" width="12.79" height="12.62" fill="#5e95a0"/>
<rect x="447.30" y="440.82" width="12.79" height="12.62" fill="#f0c15c"/>
<rect x="459.79" y="440.82" width="12.79" height="12.62" fill="#f0c15c"/>
<rect x="472.28" y="440.82" width="12.79" height="12.62" fill="#f0c15c"/>
<rect x="484.76" y="440.82" width="12.79" height="12.62" fill="#f0c15c"/>
<rect x="497.25" y="440.82" width="12.79" height="12.62" fill="#68999a"/>
<rect x="509.74" y="440.82" width="12.79" height="12.62" fill="#3e89b0"/>
<rect x="522.23" y="440.82" width="12.79" height="12.62" fill="#68999a"/>
<rect x="534.71" y="440.82" width="12.79" height="12.62" fill="#62969e"/>
<rect x="447.30" y="453.15" width="12.79" height="12.62" fill="#f0c15c"/>
<rect x="459.79" y="453.15" width="12.79" height="12.62" fill="#f0c15c"/>
<rect x="472.28" y="453.15" width="12.79" height="12.62" fill="#f0c15c"/>
<rect x="484.76" y="453.15" width="12.79" height="12.62" fill="#f0c15c"/>
<rect x="497.25" y="453.15" width="12.79" height="12.62" fill="#498dab"/>
<rect x="509.74" y="453.15" width="12.79" height="12.62" fill="#2380bf"/>
<rect x="522.23" y="453.15" width="12.79" height="12.62" fill="#458cad"/>
<rect x="534.71" y="453.15" width="12.79" height="12.62" fill="#3887b4"/>
<rect x="447.30" y="465.47" width="12.79" height="12.62" fill="#e6be61"/>
<rect x="459.79" y="465.47" width="12.79" height="12.62" fill="#f0c15c"/>
<rect x="472.28" y="465.47" width="12.79" height="12.62" fill="#f0c15c"/>
<rect x="484.76" y="465.47" width="12.79" height="12.62" fill="#e6be61"/>
<rect x="497.25" y="465.47" width="12.79" height="12.62" fill="#2380bf"/>
<rect x="509.74" y="465.47" width="12.79" height="12.62" fill="#3e89b0"/>
<rect x="522.23" y="465.47" width="12.79" height="12.62" fill="#3e89b0"/>
<rect x="534.71" y="465.47" width="12.79" height="12.62" fill="#3e89b0"/>
</g>
<text x="454.6" y="366.8" font-size="13.5" textLength="75.6" lengthAdjust="spacingAndGlyphs" fill="#000" >Cue-id B last</text>
<text x="440.3" y="392.2" font-size="9.8" text-anchor="end" fill="#000" >9</text>
<text x="440.3" y="404.5" font-size="9.8" text-anchor="end" fill="#000" >10</text>
<text x="440.3" y="416.8" font-size="9.8" text-anchor="end" fill="#000" >11</text>
<text x="440.3" y="429.1" font-size="9.8" text-anchor="end" fill="#000" >12</text>
<text x="440.3" y="441.5" font-size="9.8" text-anchor="end" fill="#000" >13</text>
<text x="440.3" y="453.8" font-size="9.8" text-anchor="end" fill="#000" >14</text>
<text x="440.3" y="466.1" font-size="9.8" text-anchor="end" fill="#000" >15</text>
<text x="440.3" y="478.4" font-size="9.8" text-anchor="end" fill="#000" >16</text>
<text x="450.4" y="490.2" font-size="9.8" text-anchor="middle" fill="#000" >9</text>
<text x="460.8" y="490.2" font-size="9.4" text-anchor="middle" fill="#000" >10</text>
<text x="473.9" y="490.2" font-size="9.4" text-anchor="middle" fill="#000" >11</text>
<text x="487.0" y="490.2" font-size="9.4" text-anchor="middle" fill="#000" >12</text>
<text x="500.0" y="490.2" font-size="9.4" text-anchor="middle" fill="#000" >13</text>
<text x="513.1" y="490.2" font-size="9.4" text-anchor="middle" fill="#000" >14</text>
<text x="526.1" y="490.2" font-size="9.4" text-anchor="middle" fill="#000" >15</text>
<text x="539.2" y="490.2" font-size="9.4" text-anchor="middle" fill="#000" >16</text>
<text x="454.0" y="507.8" font-size="10.8" textLength="81" lengthAdjust="spacingAndGlyphs" xml:space="preserve">Odor id on trial  t</text>
<text transform="translate(23.3,433.2) rotate(-90)" font-size="11" text-anchor="middle" textLength="89" lengthAdjust="spacingAndGlyphs" xml:space="preserve">Odor id on trial  t-1</text>
<defs><linearGradient id="cb210" x1="0" y1="0" x2="0" y2="1"><stop offset="0" stop-color="#f0c15c"/><stop offset="0.5" stop-color="#88a48a"/><stop offset="1" stop-color="#1f7ec1"/></linearGradient></defs>
<rect x="569.2" y="210.6" width="5.7" height="72.50000000000003" fill="url(#cb210)" stroke="#111" stroke-width="0.9"/>
<line x1="574.9000000000001" y1="210.6" x2="579.5" y2="210.6" stroke="#222" stroke-width="0.8"/>
<line x1="574.9000000000001" y1="228.7" x2="579.5" y2="228.7" stroke="#222" stroke-width="0.8"/>
<line x1="574.9000000000001" y1="246.9" x2="579.5" y2="246.9" stroke="#222" stroke-width="0.8"/>
<line x1="574.9000000000001" y1="265.0" x2="579.5" y2="265.0" stroke="#222" stroke-width="0.8"/>
<line x1="574.9000000000001" y1="283.1" x2="579.5" y2="283.1" stroke="#222" stroke-width="0.8"/>
<text x="572.1" y="208.0" font-size="8.5" text-anchor="middle" fill="#000" >1</text>
<text x="572.1" y="292.9" font-size="8.5" text-anchor="middle" fill="#000" >0</text>
<text transform="translate(563.0,250.7) rotate(-90)" font-size="10.5" text-anchor="middle" textLength="77" lengthAdjust="spacingAndGlyphs">&#8216;Go&#8217; probability</text>
<defs><linearGradient id="cb404" x1="0" y1="0" x2="0" y2="1"><stop offset="0" stop-color="#f0c15c"/><stop offset="0.5" stop-color="#88a48a"/><stop offset="1" stop-color="#1f7ec1"/></linearGradient></defs>
<rect x="566.6" y="404.5" width="5.9" height="72.69999999999999" fill="url(#cb404)" stroke="#111" stroke-width="0.9"/>
<line x1="572.5" y1="404.5" x2="576.9" y2="404.5" stroke="#222" stroke-width="0.8"/>
<line x1="572.5" y1="422.7" x2="576.9" y2="422.7" stroke="#222" stroke-width="0.8"/>
<line x1="572.5" y1="440.9" x2="576.9" y2="440.9" stroke="#222" stroke-width="0.8"/>
<line x1="572.5" y1="459.0" x2="576.9" y2="459.0" stroke="#222" stroke-width="0.8"/>
<line x1="572.5" y1="477.2" x2="576.9" y2="477.2" stroke="#222" stroke-width="0.8"/>
<text x="569.6" y="401.9" font-size="8.5" text-anchor="middle" fill="#000" >1</text>
<text x="569.6" y="487.0" font-size="8.5" text-anchor="middle" fill="#000" >0</text>
<text transform="translate(560.4,444.7) rotate(-90)" font-size="10.5" text-anchor="middle" textLength="77" lengthAdjust="spacingAndGlyphs">&#8216;Go&#8217; probability</text>
<text x="59.3" y="535.4" font-size="13.4" textLength="77.2" lengthAdjust="spacingAndGlyphs" fill="#000" >Non-match A</text>
<text x="189.7" y="535.4" font-size="13.4" textLength="77.7" lengthAdjust="spacingAndGlyphs" fill="#000" >Non-match B</text>
<text x="328.9" y="535.4" font-size="13.4" textLength="50.5" lengthAdjust="spacingAndGlyphs" fill="#000" >Cue-id A</text>
<text x="473.4" y="535.4" font-size="13.4" textLength="50.7" lengthAdjust="spacingAndGlyphs" fill="#000" >Cue-id B</text>
<text transform="translate(11.4,590.3) rotate(-90)" font-size="11" text-anchor="middle" textLength="52.6" lengthAdjust="spacingAndGlyphs">Behavioral</text>
<text transform="translate(25.2,591.5) rotate(-90)" font-size="11" text-anchor="middle" textLength="45" lengthAdjust="spacingAndGlyphs">accuracy</text>
<text x="41.5" y="560.8" font-size="10.5" text-anchor="end" fill="#000" >1</text>
<text x="42.0" y="622.0" font-size="10.5" text-anchor="end" fill="#000" >.5</text>
<path d="M47.5,556.9 L47.5,630.8 L132.5,630.8" fill="none" stroke="#111" stroke-width="1.5"/>
<line x1="44.2" y1="556.9" x2="47.5" y2="556.9" stroke="#111" stroke-width="1.1"/>
<line x1="44.2" y1="618.2" x2="47.5" y2="618.2" stroke="#111" stroke-width="1.1"/>
<circle cx="55.9" cy="610.7" r="2.2" fill="#9ec8e6" fill-opacity="0.75"/>
<circle cx="55.9" cy="617.0" r="2.2" fill="#9ec8e6" fill-opacity="0.75"/>
<circle cx="54.0" cy="619.0" r="2.2" fill="#9ec8e6" fill-opacity="0.75"/>
<circle cx="57.5" cy="616.0" r="2.2" fill="#9ec8e6" fill-opacity="0.75"/>
<circle cx="71.0" cy="599.0" r="2.2" fill="#9ec8e6" fill-opacity="0.75"/>
<circle cx="74.5" cy="597.6" r="2.2" fill="#9ec8e6" fill-opacity="0.75"/>
<circle cx="72.0" cy="605.0" r="2.2" fill="#9ec8e6" fill-opacity="0.75"/>
<circle cx="73.0" cy="607.0" r="2.2" fill="#9ec8e6" fill-opacity="0.75"/>
<circle cx="74.0" cy="600.0" r="2.2" fill="#9ec8e6" fill-opacity="0.75"/>
<circle cx="88.7" cy="586.5" r="2.2" fill="#9ec8e6" fill-opacity="0.75"/>
<circle cx="90.5" cy="609.8" r="2.2" fill="#9ec8e6" fill-opacity="0.75"/>
<circle cx="89.5" cy="602.8" r="2.2" fill="#9ec8e6" fill-opacity="0.75"/>
<circle cx="91.0" cy="600.0" r="2.2" fill="#9ec8e6" fill-opacity="0.75"/>
<circle cx="105.0" cy="582.1" r="2.2" fill="#9ec8e6" fill-opacity="0.75"/>
<circle cx="105.5" cy="609.0" r="2.2" fill="#9ec8e6" fill-opacity="0.75"/>
<circle cx="107.0" cy="587.0" r="2.2" fill="#9ec8e6" fill-opacity="0.75"/>
<circle cx="107.5" cy="597.5" r="2.2" fill="#9ec8e6" fill-opacity="0.75"/>
<circle cx="106.0" cy="600.0" r="2.2" fill="#9ec8e6" fill-opacity="0.75"/>
<circle cx="124.5" cy="575.1" r="2.2" fill="#9ec8e6" fill-opacity="0.75"/>
<circle cx="123.0" cy="587.9" r="2.2" fill="#9ec8e6" fill-opacity="0.75"/>
<circle cx="125.0" cy="580.0" r="2.2" fill="#9ec8e6" fill-opacity="0.75"/>
<circle cx="122.5" cy="585.0" r="2.2" fill="#9ec8e6" fill-opacity="0.75"/>
<circle cx="56.0" cy="619.0" r="2.2" fill="#f7dfa5" fill-opacity="0.8"/>
<circle cx="54.0" cy="617.0" r="2.2" fill="#f7dfa5" fill-opacity="0.8"/>
<circle cx="72.0" cy="616.8" r="2.2" fill="#f7dfa5" fill-opacity="0.8"/>
<circle cx="73.5" cy="622.0" r="2.2" fill="#f7dfa5" fill-opacity="0.8"/>
<circle cx="71.5" cy="619.0" r="2.2" fill="#f7dfa5" fill-opacity="0.8"/>
<circle cx="90.0" cy="623.0" r="2.2" fill="#f7dfa5" fill-opacity="0.8"/>
<circle cx="88.5" cy="619.0" r="2.2" fill="#f7dfa5" fill-opacity="0.8"/>
<circle cx="91.0" cy="621.0" r="2.2" fill="#f7dfa5" fill-opacity="0.8"/>
<circle cx="107.0" cy="612.0" r="2.2" fill="#f7dfa5" fill-opacity="0.8"/>
<circle cx="105.5" cy="624.7" r="2.2" fill="#f7dfa5" fill-opacity="0.8"/>
<circle cx="108.0" cy="619.0" r="2.2" fill="#f7dfa5" fill-opacity="0.8"/>
<circle cx="123.0" cy="615.0" r="2.2" fill="#f7dfa5" fill-opacity="0.8"/>
<circle cx="124.5" cy="623.8" r="2.2" fill="#f7dfa5" fill-opacity="0.8"/>
<circle cx="122.0" cy="620.0" r="2.2" fill="#f7dfa5" fill-opacity="0.8"/>
<circle cx="125.0" cy="618.0" r="2.2" fill="#f7dfa5" fill-opacity="0.8"/>
<line x1="72.9" y1="600.5" x2="72.9" y2="611.5" stroke="#1f78b4" stroke-width="1.0"/>
<line x1="71.6" y1="600.5" x2="74.2" y2="600.5" stroke="#1f78b4" stroke-width="1.0"/>
<line x1="71.6" y1="611.5" x2="74.2" y2="611.5" stroke="#1f78b4" stroke-width="1.0"/>
<line x1="89.9" y1="592.2" x2="89.9" y2="607.2" stroke="#1f78b4" stroke-width="1.0"/>
<line x1="88.6" y1="592.2" x2="91.2" y2="592.2" stroke="#1f78b4" stroke-width="1.0"/>
<line x1="88.6" y1="607.2" x2="91.2" y2="607.2" stroke="#1f78b4" stroke-width="1.0"/>
<line x1="106.6" y1="586.9" x2="106.6" y2="602.9" stroke="#1f78b4" stroke-width="1.0"/>
<line x1="105.3" y1="586.9" x2="107.9" y2="586.9" stroke="#1f78b4" stroke-width="1.0"/>
<line x1="105.3" y1="602.9" x2="107.9" y2="602.9" stroke="#1f78b4" stroke-width="1.0"/>
<line x1="123.7" y1="578.8" x2="123.7" y2="584.8" stroke="#1f78b4" stroke-width="1.0"/>
<line x1="122.4" y1="578.8" x2="125.0" y2="578.8" stroke="#1f78b4" stroke-width="1.0"/>
<line x1="122.4" y1="584.8" x2="125.0" y2="584.8" stroke="#1f78b4" stroke-width="1.0"/>
<polyline points="55.9,616.5 72.9,606.0 89.9,599.7 106.6,594.9 123.7,581.8" fill="none" stroke="#1f78b4" stroke-width="1.2"/>
<circle cx="55.9" cy="616.5" r="3.0" fill="#1f78b4"/>
<circle cx="72.9" cy="606.0" r="3.0" fill="#1f78b4"/>
<circle cx="89.9" cy="599.7" r="3.0" fill="#1f78b4"/>
<circle cx="106.6" cy="594.9" r="3.0" fill="#1f78b4"/>
<circle cx="123.7" cy="581.8" r="3.0" fill="#1f78b4"/>
<polyline points="55.9,618.4 72.9,618.8 89.9,621.0 106.6,620.3 123.7,620.3" fill="none" stroke="#f0bf50" stroke-width="1.1"/>
<circle cx="55.9" cy="618.4" r="3.0" fill="#f0bf50"/>
<circle cx="72.9" cy="618.8" r="3.0" fill="#f0bf50"/>
<circle cx="89.9" cy="621.0" r="3.0" fill="#f0bf50"/>
<circle cx="106.6" cy="620.3" r="3.0" fill="#f0bf50"/>
<circle cx="123.7" cy="620.3" r="3.0" fill="#f0bf50"/>
<path d="M168.7,557.7 L168.7,631.2 L254.6,631.2" fill="none" stroke="#111" stroke-width="1.5"/>
<line x1="165.4" y1="557.7" x2="168.7" y2="557.7" stroke="#111" stroke-width="1.1"/>
<line x1="165.4" y1="619.0" x2="168.7" y2="619.0" stroke="#111" stroke-width="1.1"/>
<circle cx="178.7" cy="578.6" r="2.3" fill="#9ec8e6" fill-opacity="0.75"/>
<circle cx="176.1" cy="580.5" r="2.3" fill="#9ec8e6" fill-opacity="0.75"/>
<circle cx="178.7" cy="591.9" r="2.3" fill="#9ec8e6" fill-opacity="0.75"/>
<circle cx="176.1" cy="594.7" r="2.3" fill="#9ec8e6" fill-opacity="0.75"/>
<circle cx="178.7" cy="583.0" r="2.3" fill="#9ec8e6" fill-opacity="0.75"/>
<circle cx="195.8" cy="574.8" r="2.3" fill="#9ec8e6" fill-opacity="0.75"/>
<circle cx="193.2" cy="577.6" r="2.3" fill="#9ec8e6" fill-opacity="0.75"/>
<circle cx="195.8" cy="587.1" r="2.3" fill="#9ec8e6" fill-opacity="0.75"/>
<circle cx="193.2" cy="593.8" r="2.3" fill="#9ec8e6" fill-opacity="0.75"/>
<circle cx="195.8" cy="582.0" r="2.3" fill="#9ec8e6" fill-opacity="0.75"/>
<circle cx="212.7" cy="570.0" r="2.3" fill="#9ec8e6" fill-opacity="0.75"/>
<circle cx="210.1" cy="571.9" r="2.3" fill="#9ec8e6" fill-opacity="0.75"/>
<circle cx="212.7" cy="590.0" r="2.3" fill="#9ec8e6" fill-opacity="0.75"/>
<circle cx="210.1" cy="593.8" r="2.3" fill="#9ec8e6" fill-opacity="0.75"/>
<circle cx="212.7" cy="580.0" r="2.3" fill="#9ec8e6" fill-opacity="0.75"/>
<circle cx="229.9" cy="571.4" r="2.3" fill="#9ec8e6" fill-opacity="0.75"/>
<circle cx="227.3" cy="574.8" r="2.3" fill="#9ec8e6" fill-opacity="0.75"/>
<circle cx="229.9" cy="588.1" r="2.3" fill="#9ec8e6" fill-opacity="0.75"/>
<circle cx="227.3" cy="592.8" r="2.3" fill="#9ec8e6" fill-opacity="0.75"/>
<circle cx="229.9" cy="586.0" r="2.3" fill="#9ec8e6" fill-opacity="0.75"/>
<circle cx="247.0" cy="572.9" r="2.3" fill="#9ec8e6" fill-opacity="0.75"/>
<circle cx="244.4" cy="581.4" r="2.3" fill="#9ec8e6" fill-opacity="0.75"/>
<circle cx="247.0" cy="589.0" r="2.3" fill="#9ec8e6" fill-opacity="0.75"/>
<circle cx="244.4" cy="596.2" r="2.3" fill="#9ec8e6" fill-opacity="0.75"/>
<circle cx="247.0" cy="587.0" r="2.3" fill="#9ec8e6" fill-opacity="0.75"/>
<circle cx="176.2" cy="615.0" r="2.3" fill="#f7dfa5" fill-opacity="0.8"/>
<circle cx="178.6" cy="616.5" r="2.3" fill="#f7dfa5" fill-opacity="0.8"/>
<circle cx="176.2" cy="620.0" r="2.3" fill="#f7dfa5" fill-opacity="0.8"/>
<circle cx="178.6" cy="621.5" r="2.3" fill="#f7dfa5" fill-opacity="0.8"/>
<circle cx="193.3" cy="616.0" r="2.3" fill="#f7dfa5" fill-opacity="0.8"/>
<circle cx="195.7" cy="620.0" r="2.3" fill="#f7dfa5" fill-opacity="0.8"/>
<circle cx="193.3" cy="622.0" r="2.3" fill="#f7dfa5" fill-opacity="0.8"/>
<circle cx="195.7" cy="624.1" r="2.3" fill="#f7dfa5" fill-opacity="0.8"/>
<circle cx="210.2" cy="616.0" r="2.3" fill="#f7dfa5" fill-opacity="0.8"/>
<circle cx="212.6" cy="618.0" r="2.3" fill="#f7dfa5" fill-opacity="0.8"/>
<circle cx="210.2" cy="621.0" r="2.3" fill="#f7dfa5" fill-opacity="0.8"/>
<circle cx="212.6" cy="623.0" r="2.3" fill="#f7dfa5" fill-opacity="0.8"/>
<circle cx="227.4" cy="615.5" r="2.3" fill="#f7dfa5" fill-opacity="0.8"/>
<circle cx="229.8" cy="617.0" r="2.3" fill="#f7dfa5" fill-opacity="0.8"/>
<circle cx="227.4" cy="620.0" r="2.3" fill="#f7dfa5" fill-opacity="0.8"/>
<circle cx="229.8" cy="622.0" r="2.3" fill="#f7dfa5" fill-opacity="0.8"/>
<circle cx="244.5" cy="615.0" r="2.3" fill="#f7dfa5" fill-opacity="0.8"/>
<circle cx="246.9" cy="617.0" r="2.3" fill="#f7dfa5" fill-opacity="0.8"/>
<circle cx="244.5" cy="621.0" r="2.3" fill="#f7dfa5" fill-opacity="0.8"/>
<circle cx="246.9" cy="623.6" r="2.3" fill="#f7dfa5" fill-opacity="0.8"/>
<polyline points="177.4,617.5 194.5,619.0 211.4,619.0 228.6,618.4 245.7,618.8" fill="none" stroke="#f0bf50" stroke-width="1.1"/>
<circle cx="177.4" cy="617.5" r="3.0" fill="#f0bf50"/>
<circle cx="194.5" cy="619.0" r="3.0" fill="#f0bf50"/>
<circle cx="211.4" cy="619.0" r="3.0" fill="#f0bf50"/>
<circle cx="228.6" cy="618.4" r="3.0" fill="#f0bf50"/>
<circle cx="245.7" cy="618.8" r="3.0" fill="#f0bf50"/>
<line x1="177.4" y1="579.5" x2="177.4" y2="590.9" stroke="#1f78b4" stroke-width="1.0"/>
<line x1="176.1" y1="579.5" x2="178.7" y2="579.5" stroke="#1f78b4" stroke-width="1.0"/>
<line x1="176.1" y1="590.9" x2="178.7" y2="590.9" stroke="#1f78b4" stroke-width="1.0"/>
<line x1="194.5" y1="578.6" x2="194.5" y2="590.0" stroke="#1f78b4" stroke-width="1.0"/>
<line x1="193.2" y1="578.6" x2="195.8" y2="578.6" stroke="#1f78b4" stroke-width="1.0"/>
<line x1="193.2" y1="590.0" x2="195.8" y2="590.0" stroke="#1f78b4" stroke-width="1.0"/>
<line x1="211.4" y1="574.2" x2="211.4" y2="590.0" stroke="#1f78b4" stroke-width="1.0"/>
<line x1="210.1" y1="574.2" x2="212.7" y2="574.2" stroke="#1f78b4" stroke-width="1.0"/>
<line x1="210.1" y1="590.0" x2="212.7" y2="590.0" stroke="#1f78b4" stroke-width="1.0"/>
<line x1="228.6" y1="575.7" x2="228.6" y2="592.8" stroke="#1f78b4" stroke-width="1.0"/>
<line x1="227.3" y1="575.7" x2="229.9" y2="575.7" stroke="#1f78b4" stroke-width="1.0"/>
<line x1="227.3" y1="592.8" x2="229.9" y2="592.8" stroke="#1f78b4" stroke-width="1.0"/>
<line x1="245.7" y1="578.6" x2="245.7" y2="590.9" stroke="#1f78b4" stroke-width="1.0"/>
<line x1="244.4" y1="578.6" x2="247.0" y2="578.6" stroke="#1f78b4" stroke-width="1.0"/>
<line x1="244.4" y1="590.9" x2="247.0" y2="590.9" stroke="#1f78b4" stroke-width="1.0"/>
<polyline points="177.4,585.6 194.5,584.7 211.4,582.4 228.6,584.7 245.7,585.2" fill="none" stroke="#1f78b4" stroke-width="1.2"/>
<circle cx="177.4" cy="585.6" r="3.0" fill="#1f78b4"/>
<circle cx="194.5" cy="584.7" r="3.0" fill="#1f78b4"/>
<circle cx="211.4" cy="582.4" r="3.0" fill="#1f78b4"/>
<circle cx="228.6" cy="584.7" r="3.0" fill="#1f78b4"/>
<circle cx="245.7" cy="585.2" r="3.0" fill="#1f78b4"/>
<path d="M305.4,557.5 L305.4,631.5 L396.0,631.5" fill="none" stroke="#111" stroke-width="1.5"/>
<line x1="302.1" y1="557.5" x2="305.4" y2="557.5" stroke="#111" stroke-width="1.1"/>
<line x1="302.1" y1="619.2" x2="305.4" y2="619.2" stroke="#111" stroke-width="1.1"/>
<rect x="318.0" y="598.5" width="4.6" height="4.6" fill="#f7dfa5" fill-opacity="0.85"/>
<rect x="318.0" y="604.7" width="4.6" height="4.6" fill="#f7dfa5" fill-opacity="0.85"/>
<rect x="314.6" y="613.7" width="4.6" height="4.6" fill="#f7dfa5" fill-opacity="0.85"/>
<rect x="318.0" y="614.4" width="4.6" height="4.6" fill="#f7dfa5" fill-opacity="0.85"/>
<rect x="335.4" y="577.4" width="4.6" height="4.6" fill="#f7dfa5" fill-opacity="0.85"/>
<rect x="335.1" y="581.1" width="4.6" height="4.6" fill="#f7dfa5" fill-opacity="0.85"/>
<rect x="332.6" y="589.5" width="4.6" height="4.6" fill="#f7dfa5" fill-opacity="0.85"/>
<rect x="335.4" y="592.2" width="4.6" height="4.6" fill="#f7dfa5" fill-opacity="0.85"/>
<rect x="349.9" y="563.8" width="4.6" height="4.6" fill="#f7dfa5" fill-opacity="0.85"/>
<rect x="354.1" y="564.5" width="4.6" height="4.6" fill="#f7dfa5" fill-opacity="0.85"/>
<rect x="353.4" y="571.4" width="4.6" height="4.6" fill="#f7dfa5" fill-opacity="0.85"/>
<rect x="349.9" y="581.1" width="4.6" height="4.6" fill="#f7dfa5" fill-opacity="0.85"/>
<rect x="353.4" y="595.7" width="4.6" height="4.6" fill="#f7dfa5" fill-opacity="0.85"/>
<rect x="353.4" y="594.3" width="4.6" height="4.6" fill="#f7dfa5" fill-opacity="0.85"/>
<rect x="371.4" y="561.7" width="4.6" height="4.6" fill="#f7dfa5" fill-opacity="0.85"/>
<rect x="370.0" y="568.0" width="4.6" height="4.6" fill="#f7dfa5" fill-opacity="0.85"/>
<rect x="371.4" y="586.7" width="4.6" height="4.6" fill="#f7dfa5" fill-opacity="0.85"/>
<rect x="371.4" y="592.2" width="4.6" height="4.6" fill="#f7dfa5" fill-opacity="0.85"/>
<rect x="365.9" y="565.9" width="4.6" height="4.6" fill="#f7dfa5" fill-opacity="0.85"/>
<rect x="389.5" y="560.3" width="4.6" height="4.6" fill="#f7dfa5" fill-opacity="0.85"/>
<rect x="389.5" y="566.6" width="4.6" height="4.6" fill="#f7dfa5" fill-opacity="0.85"/>
<rect x="388.1" y="563.8" width="4.6" height="4.6" fill="#f7dfa5" fill-opacity="0.85"/>
<rect x="386.7" y="561.0" width="4.6" height="4.6" fill="#f7dfa5" fill-opacity="0.85"/>
<circle cx="316.9" cy="590.4" r="2.4" fill="#f7dfa5" fill-opacity="0.85"/>
<circle cx="334.9" cy="575.8" r="2.4" fill="#f7dfa5" fill-opacity="0.85"/>
<circle cx="351.5" cy="565.4" r="2.4" fill="#f7dfa5" fill-opacity="0.85"/>
<circle cx="370.3" cy="562.6" r="2.4" fill="#f7dfa5" fill-opacity="0.85"/>
<circle cx="388.3" cy="560.5" r="2.4" fill="#f7dfa5" fill-opacity="0.85"/>
<circle cx="388.3" cy="584.1" r="2.4" fill="#f7dfa5" fill-opacity="0.85"/>
<circle cx="332.8" cy="581.4" r="2.4" fill="#f7dfa5" fill-opacity="0.85"/>
<circle cx="309.2" cy="584.8" r="2.4" fill="#9ec8e6" fill-opacity="0.8"/>
<circle cx="309.2" cy="591.3" r="2.4" fill="#9ec8e6" fill-opacity="0.8"/>
<circle cx="309.2" cy="593.8" r="2.4" fill="#9ec8e6" fill-opacity="0.8"/>
<circle cx="309.2" cy="613.9" r="2.4" fill="#9ec8e6" fill-opacity="0.8"/>
<circle cx="327.7" cy="595.2" r="2.4" fill="#9ec8e6" fill-opacity="0.8"/>
<circle cx="327.3" cy="603.5" r="2.4" fill="#9ec8e6" fill-opacity="0.8"/>
<circle cx="328.0" cy="605.6" r="2.4" fill="#9ec8e6" fill-opacity="0.8"/>
<circle cx="344.6" cy="600.1" r="2.4" fill="#9ec8e6" fill-opacity="0.8"/>
<circle cx="345.3" cy="611.2" r="2.4" fill="#9ec8e6" fill-opacity="0.8"/>
<circle cx="344.6" cy="611.9" r="2.4" fill="#9ec8e6" fill-opacity="0.8"/>
<circle cx="362.6" cy="596.3" r="2.4" fill="#9ec8e6" fill-opacity="0.8"/>
<circle cx="364.0" cy="607.0" r="2.4" fill="#9ec8e6" fill-opacity="0.8"/>
<circle cx="364.0" cy="611.2" r="2.4" fill="#9ec8e6" fill-opacity="0.8"/>
<circle cx="363.3" cy="613.3" r="2.4" fill="#9ec8e6" fill-opacity="0.8"/>
<circle cx="381.4" cy="606.0" r="2.4" fill="#9ec8e6" fill-opacity="0.8"/>
<circle cx="380.7" cy="611.2" r="2.4" fill="#9ec8e6" fill-opacity="0.8"/>
<rect x="311.1" y="609.6" width="4.6" height="4.6" fill="#9ec8e6" fill-opacity="0.8"/>
<rect x="310.4" y="617.9" width="4.6" height="4.6" fill="#9ec8e6" fill-opacity="0.8"/>
<rect x="313.2" y="619.3" width="4.6" height="4.6" fill="#9ec8e6" fill-opacity="0.8"/>
<rect x="329.1" y="611.0" width="4.6" height="4.6" fill="#9ec8e6" fill-opacity="0.8"/>
<rect x="329.1" y="622.7" width="4.6" height="4.6" fill="#9ec8e6" fill-opacity="0.8"/>
<rect x="330.5" y="612.3" width="4.6" height="4.6" fill="#9ec8e6" fill-opacity="0.8"/>
<rect x="346.5" y="625.9" width="4.6" height="4.6" fill="#9ec8e6" fill-opacity="0.8"/>
<rect x="347.9" y="613.7" width="4.6" height="4.6" fill="#9ec8e6" fill-opacity="0.8"/>
<rect x="348.6" y="619.3" width="4.6" height="4.6" fill="#9ec8e6" fill-opacity="0.8"/>
<rect x="364.5" y="620.7" width="4.6" height="4.6" fill="#9ec8e6" fill-opacity="0.8"/>
<rect x="365.9" y="613.7" width="4.6" height="4.6" fill="#9ec8e6" fill-opacity="0.8"/>
<rect x="382.5" y="622.0" width="4.6" height="4.6" fill="#9ec8e6" fill-opacity="0.8"/>
<rect x="383.2" y="613.7" width="4.6" height="4.6" fill="#9ec8e6" fill-opacity="0.8"/>
<rect x="385.3" y="616.5" width="4.6" height="4.6" fill="#9ec8e6" fill-opacity="0.8"/>
<line x1="332.6" y1="580.0" x2="332.6" y2="591.8" stroke="#f0bf50" stroke-width="1.0"/>
<line x1="331.3" y1="580.0" x2="333.9" y2="580.0" stroke="#f0bf50" stroke-width="1.0"/>
<line x1="331.3" y1="591.8" x2="333.9" y2="591.8" stroke="#f0bf50" stroke-width="1.0"/>
<line x1="350.4" y1="568.9" x2="350.4" y2="593.1" stroke="#f0bf50" stroke-width="1.0"/>
<line x1="349.1" y1="568.9" x2="351.7" y2="568.9" stroke="#f0bf50" stroke-width="1.0"/>
<line x1="349.1" y1="593.1" x2="351.7" y2="593.1" stroke="#f0bf50" stroke-width="1.0"/>
<line x1="368.4" y1="566.8" x2="368.4" y2="592.2" stroke="#f0bf50" stroke-width="1.0"/>
<line x1="367.1" y1="566.8" x2="369.7" y2="566.8" stroke="#f0bf50" stroke-width="1.0"/>
<line x1="367.1" y1="592.2" x2="369.7" y2="592.2" stroke="#f0bf50" stroke-width="1.0"/>
<line x1="386.2" y1="563.3" x2="386.2" y2="577.9" stroke="#f0bf50" stroke-width="1.0"/>
<line x1="384.9" y1="563.3" x2="387.5" y2="563.3" stroke="#f0bf50" stroke-width="1.0"/>
<line x1="384.9" y1="577.9" x2="387.5" y2="577.9" stroke="#f0bf50" stroke-width="1.0"/>
<polyline points="314.6,600.5 332.6,586.5 350.4,576.5 368.4,573.0 386.2,570.3" fill="none" stroke="#f0bf50" stroke-width="1.1"/>
<polyline points="314.6,607.4 332.6,587.6 350.4,579.7 368.4,580.0 386.2,565.0" fill="none" stroke="#f0bf50" stroke-width="1.0" stroke-dasharray="1 1.5"/>
<circle cx="314.6" cy="600.5" r="3.1" fill="#f0bf50"/>
<circle cx="332.6" cy="586.5" r="3.1" fill="#f0bf50"/>
<circle cx="350.4" cy="576.5" r="3.1" fill="#f0bf50"/>
<circle cx="368.4" cy="573.0" r="3.1" fill="#f0bf50"/>
<circle cx="386.2" cy="570.3" r="3.1" fill="#f0bf50"/>
<rect x="311.8" y="604.6" width="5.6" height="5.6" fill="#f0bf50"/>
<rect x="329.8" y="584.8" width="5.6" height="5.6" fill="#f0bf50"/>
<rect x="347.6" y="576.9" width="5.6" height="5.6" fill="#f0bf50"/>
<rect x="365.6" y="577.2" width="5.6" height="5.6" fill="#f0bf50"/>
<rect x="383.4" y="562.2" width="5.6" height="5.6" fill="#f0bf50"/>
<line x1="314.6" y1="588.3" x2="314.6" y2="597.3" stroke="#1f78b4" stroke-width="1.0"/>
<line x1="313.3" y1="588.3" x2="315.9" y2="588.3" stroke="#1f78b4" stroke-width="1.0"/>
<line x1="313.3" y1="597.3" x2="315.9" y2="597.3" stroke="#1f78b4" stroke-width="1.0"/>
<line x1="332.6" y1="597.0" x2="332.6" y2="602.8" stroke="#1f78b4" stroke-width="1.0"/>
<line x1="331.3" y1="597.0" x2="333.9" y2="597.0" stroke="#1f78b4" stroke-width="1.0"/>
<line x1="331.3" y1="602.8" x2="333.9" y2="602.8" stroke="#1f78b4" stroke-width="1.0"/>
<line x1="350.4" y1="603.5" x2="350.4" y2="611.2" stroke="#1f78b4" stroke-width="1.0"/>
<line x1="349.1" y1="603.5" x2="351.7" y2="603.5" stroke="#1f78b4" stroke-width="1.0"/>
<line x1="349.1" y1="611.2" x2="351.7" y2="611.2" stroke="#1f78b4" stroke-width="1.0"/>
<line x1="368.4" y1="602.8" x2="368.4" y2="611.2" stroke="#1f78b4" stroke-width="1.0"/>
<line x1="367.1" y1="602.8" x2="369.7" y2="602.8" stroke="#1f78b4" stroke-width="1.0"/>
<line x1="367.1" y1="611.2" x2="369.7" y2="611.2" stroke="#1f78b4" stroke-width="1.0"/>
<line x1="386.2" y1="609.8" x2="386.2" y2="616.0" stroke="#1f78b4" stroke-width="1.0"/>
<line x1="384.9" y1="609.8" x2="387.5" y2="609.8" stroke="#1f78b4" stroke-width="1.0"/>
<line x1="384.9" y1="616.0" x2="387.5" y2="616.0" stroke="#1f78b4" stroke-width="1.0"/>
<line x1="314.6" y1="615.0" x2="314.6" y2="621.0" stroke="#1f78b4" stroke-width="1.0"/>
<line x1="313.3" y1="615.0" x2="315.9" y2="615.0" stroke="#1f78b4" stroke-width="1.0"/>
<line x1="313.3" y1="621.0" x2="315.9" y2="621.0" stroke="#1f78b4" stroke-width="1.0"/>
<line x1="332.6" y1="611.9" x2="332.6" y2="622.3" stroke="#1f78b4" stroke-width="1.0"/>
<line x1="331.3" y1="611.9" x2="333.9" y2="611.9" stroke="#1f78b4" stroke-width="1.0"/>
<line x1="331.3" y1="622.3" x2="333.9" y2="622.3" stroke="#1f78b4" stroke-width="1.0"/>
<line x1="350.4" y1="616.0" x2="350.4" y2="625.7" stroke="#1f78b4" stroke-width="1.0"/>
<line x1="349.1" y1="616.0" x2="351.7" y2="616.0" stroke="#1f78b4" stroke-width="1.0"/>
<line x1="349.1" y1="625.7" x2="351.7" y2="625.7" stroke="#1f78b4" stroke-width="1.0"/>
<line x1="368.4" y1="614.5" x2="368.4" y2="621.0" stroke="#1f78b4" stroke-width="1.0"/>
<line x1="367.1" y1="614.5" x2="369.7" y2="614.5" stroke="#1f78b4" stroke-width="1.0"/>
<line x1="367.1" y1="621.0" x2="369.7" y2="621.0" stroke="#1f78b4" stroke-width="1.0"/>
<line x1="386.2" y1="616.0" x2="386.2" y2="622.0" stroke="#1f78b4" stroke-width="1.0"/>
<line x1="384.9" y1="616.0" x2="387.5" y2="616.0" stroke="#1f78b4" stroke-width="1.0"/>
<line x1="384.9" y1="622.0" x2="387.5" y2="622.0" stroke="#1f78b4" stroke-width="1.0"/>
<polyline points="314.6,595.5 332.6,599.4 350.4,607.4 368.4,608.0 386.2,613.5" fill="none" stroke="#1f78b4" stroke-width="1.2"/>
<polyline points="314.6,618.1 332.6,617.1 350.4,619.1 368.4,617.7 386.2,619.1" fill="none" stroke="#1f78b4" stroke-width="1.0" stroke-dasharray="1 1.5"/>
<circle cx="314.6" cy="595.5" r="3.1" fill="#1f78b4"/>
<circle cx="332.6" cy="599.4" r="3.1" fill="#1f78b4"/>
<circle cx="350.4" cy="607.4" r="3.1" fill="#1f78b4"/>
<circle cx="368.4" cy="608.0" r="3.1" fill="#1f78b4"/>
<circle cx="386.2" cy="613.5" r="3.1" fill="#1f78b4"/>
<rect x="311.8" y="615.3" width="5.6" height="5.6" fill="#1f78b4"/>
<rect x="329.8" y="614.3" width="5.6" height="5.6" fill="#1f78b4"/>
<rect x="347.6" y="616.3" width="5.6" height="5.6" fill="#1f78b4"/>
<rect x="365.6" y="614.9" width="5.6" height="5.6" fill="#1f78b4"/>
<rect x="383.4" y="616.3" width="5.6" height="5.6" fill="#1f78b4"/>
<polygon points="314.05,551.50 314.72,553.28 316.62,553.37 315.13,554.55 315.64,556.38 314.05,555.33 312.46,556.38 312.97,554.55 311.48,553.37 313.38,553.28" fill="#1f78b4"/>
<polygon points="318.95,551.50 319.62,553.28 321.52,553.37 320.03,554.55 320.54,556.38 318.95,555.33 317.36,556.38 317.87,554.55 316.38,553.37 318.28,553.28" fill="#1f78b4"/>
<polygon points="329.30,551.50 329.97,553.28 331.87,553.37 330.38,554.55 330.89,556.38 329.30,555.33 327.71,556.38 328.22,554.55 326.73,553.37 328.63,553.28" fill="#1f78b4"/>
<polygon points="334.10,551.50 334.77,553.28 336.67,553.37 335.18,554.55 335.69,556.38 334.10,555.33 332.51,556.38 333.02,554.55 331.53,553.37 333.43,553.28" fill="#1f78b4"/>
<polygon points="351.20,551.50 351.87,553.28 353.77,553.37 352.28,554.55 352.79,556.38 351.20,555.33 349.61,556.38 350.12,554.55 348.63,553.37 350.53,553.28" fill="#1f78b4"/>
<path d="M446.9,557.5 L446.9,631.5 L536.4,631.5" fill="none" stroke="#111" stroke-width="1.5"/>
<line x1="443.6" y1="557.5" x2="446.9" y2="557.5" stroke="#111" stroke-width="1.1"/>
<line x1="443.6" y1="619.2" x2="446.9" y2="619.2" stroke="#111" stroke-width="1.1"/>
<rect x="459.3" y="579.7" width="4.6" height="4.6" fill="#f7dfa5" fill-opacity="0.85"/>
<rect x="459.3" y="586.7" width="4.6" height="4.6" fill="#f7dfa5" fill-opacity="0.85"/>
<rect x="459.3" y="592.9" width="4.6" height="4.6" fill="#f7dfa5" fill-opacity="0.85"/>
<rect x="459.1" y="608.2" width="4.6" height="4.6" fill="#f7dfa5" fill-opacity="0.85"/>
<rect x="476.7" y="560.3" width="4.6" height="4.6" fill="#f7dfa5" fill-opacity="0.85"/>
<rect x="477.4" y="564.5" width="4.6" height="4.6" fill="#f7dfa5" fill-opacity="0.85"/>
<rect x="476.7" y="589.0" width="4.6" height="4.6" fill="#f7dfa5" fill-opacity="0.85"/>
<rect x="494.7" y="556.9" width="4.6" height="4.6" fill="#f7dfa5" fill-opacity="0.85"/>
<rect x="494.0" y="568.0" width="4.6" height="4.6" fill="#f7dfa5" fill-opacity="0.85"/>
<rect x="494.7" y="572.8" width="4.6" height="4.6" fill="#f7dfa5" fill-opacity="0.85"/>
<rect x="512.0" y="561.0" width="4.6" height="4.6" fill="#f7dfa5" fill-opacity="0.85"/>
<rect x="512.0" y="572.1" width="4.6" height="4.6" fill="#f7dfa5" fill-opacity="0.85"/>
<rect x="530.1" y="558.2" width="4.6" height="4.6" fill="#f7dfa5" fill-opacity="0.85"/>
<rect x="530.1" y="561.7" width="4.6" height="4.6" fill="#f7dfa5" fill-opacity="0.85"/>
<rect x="530.1" y="583.2" width="4.6" height="4.6" fill="#f7dfa5" fill-opacity="0.85"/>
<rect x="473.7" y="562.7" width="4.6" height="4.6" fill="#f7dfa5" fill-opacity="0.85"/>
<rect x="491.7" y="560.7" width="4.6" height="4.6" fill="#f7dfa5" fill-opacity="0.85"/>
<rect x="509.7" y="565.7" width="4.6" height="4.6" fill="#f7dfa5" fill-opacity="0.85"/>
<rect x="527.7" y="567.7" width="4.6" height="4.6" fill="#f7dfa5" fill-opacity="0.85"/>
<circle cx="457.5" cy="564.0" r="2.4" fill="#f7dfa5" fill-opacity="0.85"/>
<circle cx="475.5" cy="580.7" r="2.4" fill="#f7dfa5" fill-opacity="0.85"/>
<circle cx="474.8" cy="560.5" r="2.4" fill="#f7dfa5" fill-opacity="0.85"/>
<circle cx="493.5" cy="577.9" r="2.4" fill="#f7dfa5" fill-opacity="0.85"/>
<circle cx="492.2" cy="560.5" r="2.4" fill="#f7dfa5" fill-opacity="0.85"/>
<circle cx="510.9" cy="559.9" r="2.4" fill="#f7dfa5" fill-opacity="0.85"/>
<circle cx="528.9" cy="559.2" r="2.4" fill="#f7dfa5" fill-opacity="0.85"/>
<circle cx="450.3" cy="598.7" r="2.4" fill="#9ec8e6" fill-opacity="0.8"/>
<circle cx="450.8" cy="603.5" r="2.4" fill="#9ec8e6" fill-opacity="0.8"/>
<circle cx="450.3" cy="609.1" r="2.4" fill="#9ec8e6" fill-opacity="0.8"/>
<circle cx="450.3" cy="616.0" r="2.4" fill="#9ec8e6" fill-opacity="0.8"/>
<circle cx="467.9" cy="608.4" r="2.4" fill="#9ec8e6" fill-opacity="0.8"/>
<circle cx="468.6" cy="613.3" r="2.4" fill="#9ec8e6" fill-opacity="0.8"/>
<circle cx="485.9" cy="611.9" r="2.4" fill="#9ec8e6" fill-opacity="0.8"/>
<circle cx="503.3" cy="609.1" r="2.4" fill="#9ec8e6" fill-opacity="0.8"/>
<circle cx="504.0" cy="613.3" r="2.4" fill="#9ec8e6" fill-opacity="0.8"/>
<circle cx="522.0" cy="607.7" r="2.4" fill="#9ec8e6" fill-opacity="0.8"/>
<rect x="451.0" y="616.5" width="4.6" height="4.6" fill="#9ec8e6" fill-opacity="0.8"/>
<rect x="452.4" y="620.7" width="4.6" height="4.6" fill="#9ec8e6" fill-opacity="0.8"/>
<rect x="470.4" y="614.4" width="4.6" height="4.6" fill="#9ec8e6" fill-opacity="0.8"/>
<rect x="470.4" y="620.7" width="4.6" height="4.6" fill="#9ec8e6" fill-opacity="0.8"/>
<rect x="487.1" y="620.7" width="4.6" height="4.6" fill="#9ec8e6" fill-opacity="0.8"/>
<rect x="489.9" y="614.4" width="4.6" height="4.6" fill="#9ec8e6" fill-opacity="0.8"/>
<rect x="505.1" y="620.7" width="4.6" height="4.6" fill="#9ec8e6" fill-opacity="0.8"/>
<rect x="505.8" y="611.0" width="4.6" height="4.6" fill="#9ec8e6" fill-opacity="0.8"/>
<rect x="523.1" y="611.0" width="4.6" height="4.6" fill="#9ec8e6" fill-opacity="0.8"/>
<rect x="525.9" y="617.9" width="4.6" height="4.6" fill="#9ec8e6" fill-opacity="0.8"/>
<line x1="456.1" y1="571.7" x2="456.1" y2="588.7" stroke="#f0bf50" stroke-width="1.0"/>
<line x1="454.8" y1="571.7" x2="457.4" y2="571.7" stroke="#f0bf50" stroke-width="1.0"/>
<line x1="454.8" y1="588.7" x2="457.4" y2="588.7" stroke="#f0bf50" stroke-width="1.0"/>
<line x1="456.1" y1="589.0" x2="456.1" y2="598.0" stroke="#f0bf50" stroke-width="1.0"/>
<line x1="454.8" y1="589.0" x2="457.4" y2="589.0" stroke="#f0bf50" stroke-width="1.0"/>
<line x1="454.8" y1="598.0" x2="457.4" y2="598.0" stroke="#f0bf50" stroke-width="1.0"/>
<line x1="473.6" y1="568.9" x2="473.6" y2="591.3" stroke="#f0bf50" stroke-width="1.0"/>
<line x1="472.3" y1="568.9" x2="474.9" y2="568.9" stroke="#f0bf50" stroke-width="1.0"/>
<line x1="472.3" y1="591.3" x2="474.9" y2="591.3" stroke="#f0bf50" stroke-width="1.0"/>
<line x1="491.4" y1="566.0" x2="491.4" y2="572.0" stroke="#f0bf50" stroke-width="1.0"/>
<line x1="490.1" y1="566.0" x2="492.7" y2="566.0" stroke="#f0bf50" stroke-width="1.0"/>
<line x1="490.1" y1="572.0" x2="492.7" y2="572.0" stroke="#f0bf50" stroke-width="1.0"/>
<line x1="509.2" y1="563.0" x2="509.2" y2="574.0" stroke="#f0bf50" stroke-width="1.0"/>
<line x1="507.9" y1="563.0" x2="510.5" y2="563.0" stroke="#f0bf50" stroke-width="1.0"/>
<line x1="507.9" y1="574.0" x2="510.5" y2="574.0" stroke="#f0bf50" stroke-width="1.0"/>
<line x1="526.6" y1="565.4" x2="526.6" y2="580.2" stroke="#f0bf50" stroke-width="1.0"/>
<line x1="525.3" y1="565.4" x2="527.9" y2="565.4" stroke="#f0bf50" stroke-width="1.0"/>
<line x1="525.3" y1="580.2" x2="527.9" y2="580.2" stroke="#f0bf50" stroke-width="1.0"/>
<polyline points="456.1,580.2 473.6,568.9 491.4,568.2 509.2,564.7 526.6,564.7" fill="none" stroke="#f0bf50" stroke-width="1.1"/>
<polyline points="456.1,593.6 473.6,572.3 491.4,568.9 509.2,566.8 526.6,568.9" fill="none" stroke="#f0bf50" stroke-width="1.0" stroke-dasharray="1 1.5"/>
<circle cx="456.1" cy="580.2" r="3.1" fill="#f0bf50"/>
<circle cx="473.6" cy="568.9" r="3.1" fill="#f0bf50"/>
<circle cx="491.4" cy="568.2" r="3.1" fill="#f0bf50"/>
<circle cx="509.2" cy="564.7" r="3.1" fill="#f0bf50"/>
<circle cx="526.6" cy="564.7" r="3.1" fill="#f0bf50"/>
<rect x="453.3" y="590.8" width="5.6" height="5.6" fill="#f0bf50"/>
<rect x="470.8" y="569.5" width="5.6" height="5.6" fill="#f0bf50"/>
<rect x="488.6" y="566.1" width="5.6" height="5.6" fill="#f0bf50"/>
<rect x="506.4" y="564.0" width="5.6" height="5.6" fill="#f0bf50"/>
<rect x="523.8" y="566.1" width="5.6" height="5.6" fill="#f0bf50"/>
<line x1="456.1" y1="601.5" x2="456.1" y2="612.1" stroke="#1f78b4" stroke-width="1.0"/>
<line x1="454.8" y1="601.5" x2="457.4" y2="601.5" stroke="#1f78b4" stroke-width="1.0"/>
<line x1="454.8" y1="612.1" x2="457.4" y2="612.1" stroke="#1f78b4" stroke-width="1.0"/>
<polyline points="456.1,606.6 473.6,611.9 491.4,614.9 509.2,614.4 526.6,614.6" fill="none" stroke="#1f78b4" stroke-width="1.2"/>
<polyline points="456.1,620.2 473.6,620.2 491.4,618.8 509.2,618.8 526.6,618.1" fill="none" stroke="#1f78b4" stroke-width="1.0" stroke-dasharray="1 1.5"/>
<circle cx="456.1" cy="606.6" r="3.1" fill="#1f78b4"/>
<circle cx="473.6" cy="611.9" r="3.1" fill="#1f78b4"/>
<circle cx="491.4" cy="614.9" r="3.1" fill="#1f78b4"/>
<circle cx="509.2" cy="614.4" r="3.1" fill="#1f78b4"/>
<circle cx="526.6" cy="614.6" r="3.1" fill="#1f78b4"/>
<rect x="453.3" y="617.4" width="5.6" height="5.6" fill="#1f78b4"/>
<rect x="470.8" y="617.4" width="5.6" height="5.6" fill="#1f78b4"/>
<rect x="488.6" y="616.0" width="5.6" height="5.6" fill="#1f78b4"/>
<rect x="506.4" y="616.0" width="5.6" height="5.6" fill="#1f78b4"/>
<rect x="523.8" y="615.3" width="5.6" height="5.6" fill="#1f78b4"/>
<polygon points="454.60,551.50 455.27,553.28 457.17,553.37 455.68,554.55 456.19,556.38 454.60,555.33 453.01,556.38 453.52,554.55 452.03,553.37 453.93,553.28" fill="#1f78b4"/>
<polygon points="459.40,551.50 460.07,553.28 461.97,553.37 460.48,554.55 460.99,556.38 459.40,555.33 457.81,556.38 458.32,554.55 456.83,553.37 458.73,553.28" fill="#1f78b4"/>
<polygon points="472.30,551.50 472.97,553.28 474.87,553.37 473.38,554.55 473.89,556.38 472.30,555.33 470.71,556.38 471.22,554.55 469.73,553.37 471.63,553.28" fill="#1f78b4"/>
<polygon points="476.90,551.50 477.57,553.28 479.47,553.37 477.98,554.55 478.49,556.38 476.90,555.33 475.31,556.38 475.82,554.55 474.33,553.37 476.23,553.28" fill="#1f78b4"/>
<circle cx="561.8" cy="565.2" r="3.1" fill="#1f78b4"/>
<circle cx="561.8" cy="579.6" r="3.1" fill="#f0bf50"/>
<text x="570.7" y="569.0" font-size="10.5" textLength="86.7" lengthAdjust="spacingAndGlyphs" fill="#000" >By Non-match rule</text>
<text x="570.7" y="583.2" font-size="10.5" textLength="63.1" lengthAdjust="spacingAndGlyphs" fill="#000" >By cue-id rule</text>
<line x1="552.0" y1="595.0" x2="571.3" y2="595.0" stroke="#000" stroke-width="1.4"/>
<circle cx="561.8" cy="595.0" r="2.8" fill="#000"/>
<line x1="552.0" y1="608.7" x2="571.3" y2="608.7" stroke="#000" stroke-width="1.4" stroke-dasharray="1.3 1.3"/>
<rect x="559.0" y="605.9" width="5.6" height="5.6" fill="#000"/>
<text x="577.2" y="598.5" font-size="10.5" textLength="48.7" lengthAdjust="spacingAndGlyphs" fill="#000" >Exp. group</text>
<text x="577.2" y="612.2" font-size="10.5" textLength="64.4" lengthAdjust="spacingAndGlyphs" fill="#000" >Control group</text>
<text transform="translate(9.8,700.8) rotate(-90)" font-size="11" text-anchor="middle" textLength="46" lengthAdjust="spacingAndGlyphs"># of trials</text>
<text transform="translate(23.3,700.8) rotate(-90)" font-size="11" text-anchor="middle" textLength="54.2" lengthAdjust="spacingAndGlyphs">to criterion</text>
<text x="41.9" y="665.6" font-size="10.5" text-anchor="end" textLength="17.1" lengthAdjust="spacingAndGlyphs" fill="#000" >600</text>
<text x="42.0" y="736.2" font-size="10.5" text-anchor="end" fill="#000" >0</text>
<path d="M48.3,661.8 L48.3,732.0 L147.6,732.0" fill="none" stroke="#111" stroke-width="1.5"/>
<line x1="45.0" y1="661.8" x2="48.3" y2="661.8" stroke="#111" stroke-width="1.1"/>
<line x1="45.0" y1="685.4" x2="48.3" y2="685.4" stroke="#111" stroke-width="1.1"/>
<line x1="45.0" y1="708.5" x2="48.3" y2="708.5" stroke="#111" stroke-width="1.1"/>
<line x1="45.0" y1="732.0" x2="48.3" y2="732.0" stroke="#111" stroke-width="1.1"/>
<circle cx="76.5" cy="673.7" r="2.3" fill="#9a9a9a" fill-opacity="0.85"/>
<circle cx="78.0" cy="681.5" r="2.3" fill="#9a9a9a" fill-opacity="0.85"/>
<circle cx="78.0" cy="716.0" r="2.3" fill="#9a9a9a" fill-opacity="0.85"/>
<circle cx="75.5" cy="727.9" r="2.3" fill="#9a9a9a" fill-opacity="0.85"/>
<circle cx="97.5" cy="673.7" r="2.3" fill="#9a9a9a" fill-opacity="0.85"/>
<circle cx="97.0" cy="707.4" r="2.3" fill="#9a9a9a" fill-opacity="0.85"/>
<circle cx="100.0" cy="726.2" r="2.3" fill="#9a9a9a" fill-opacity="0.85"/>
<circle cx="116.5" cy="673.7" r="2.3" fill="#9a9a9a" fill-opacity="0.85"/>
<circle cx="116.5" cy="709.0" r="2.3" fill="#9a9a9a" fill-opacity="0.85"/>
<circle cx="116.0" cy="721.7" r="2.3" fill="#9a9a9a" fill-opacity="0.85"/>
<circle cx="118.5" cy="724.8" r="2.3" fill="#9a9a9a" fill-opacity="0.85"/>
<circle cx="138.5" cy="726.5" r="2.3" fill="#9a9a9a" fill-opacity="0.85"/>
<line x1="77.3" y1="675.2" x2="77.3" y2="716.0" stroke="#000" stroke-width="1.0"/>
<line x1="75.5" y1="675.2" x2="79.1" y2="675.2" stroke="#000" stroke-width="1.0"/>
<line x1="75.5" y1="716.0" x2="79.1" y2="716.0" stroke="#000" stroke-width="1.0"/>
<line x1="97.7" y1="673.7" x2="97.7" y2="711.9" stroke="#000" stroke-width="1.0"/>
<line x1="95.9" y1="673.7" x2="99.5" y2="673.7" stroke="#000" stroke-width="1.0"/>
<line x1="95.9" y1="711.9" x2="99.5" y2="711.9" stroke="#000" stroke-width="1.0"/>
<line x1="117.1" y1="680.9" x2="117.1" y2="720.3" stroke="#000" stroke-width="1.0"/>
<line x1="115.3" y1="680.9" x2="118.9" y2="680.9" stroke="#000" stroke-width="1.0"/>
<line x1="115.3" y1="720.3" x2="118.9" y2="720.3" stroke="#000" stroke-width="1.0"/>
<polyline points="57.8,674.1 77.3,694.8 97.7,691.1 117.1,700.7 137.3,726.9" fill="none" stroke="#000" stroke-width="1.2"/>
<circle cx="57.8" cy="674.1" r="3.1" fill="#000"/>
<circle cx="77.3" cy="694.8" r="3.1" fill="#000"/>
<circle cx="97.7" cy="691.1" r="3.1" fill="#000"/>
<circle cx="117.1" cy="700.7" r="3.1" fill="#000"/>
<circle cx="137.3" cy="726.9" r="3.1" fill="#000"/>
<path d="M171.4,662.2 L171.4,731.6 L270.7,731.6" fill="none" stroke="#111" stroke-width="1.5"/>
<line x1="168.1" y1="662.2" x2="171.4" y2="662.2" stroke="#111" stroke-width="1.1"/>
<line x1="168.1" y1="685.5" x2="171.4" y2="685.5" stroke="#111" stroke-width="1.1"/>
<line x1="168.1" y1="708.4" x2="171.4" y2="708.4" stroke="#111" stroke-width="1.1"/>
<line x1="168.1" y1="731.6" x2="171.4" y2="731.6" stroke="#111" stroke-width="1.1"/>
<circle cx="183.0" cy="710.0" r="2.3" fill="#9a9a9a" fill-opacity="0.85"/>
<circle cx="180.0" cy="719.0" r="2.3" fill="#9a9a9a" fill-opacity="0.85"/>
<circle cx="182.0" cy="716.0" r="2.3" fill="#9a9a9a" fill-opacity="0.85"/>
<circle cx="203.0" cy="711.2" r="2.3" fill="#9a9a9a" fill-opacity="0.85"/>
<circle cx="199.0" cy="728.8" r="2.3" fill="#9a9a9a" fill-opacity="0.85"/>
<circle cx="202.0" cy="727.0" r="2.3" fill="#9a9a9a" fill-opacity="0.85"/>
<circle cx="221.0" cy="713.6" r="2.3" fill="#9a9a9a" fill-opacity="0.85"/>
<circle cx="219.0" cy="728.5" r="2.3" fill="#9a9a9a" fill-opacity="0.85"/>
<circle cx="222.0" cy="727.0" r="2.3" fill="#9a9a9a" fill-opacity="0.85"/>
<circle cx="241.0" cy="694.9" r="2.3" fill="#9a9a9a" fill-opacity="0.85"/>
<circle cx="240.0" cy="728.3" r="2.3" fill="#9a9a9a" fill-opacity="0.85"/>
<circle cx="243.0" cy="726.0" r="2.3" fill="#9a9a9a" fill-opacity="0.85"/>
<circle cx="259.0" cy="690.2" r="2.3" fill="#9a9a9a" fill-opacity="0.85"/>
<circle cx="262.0" cy="728.3" r="2.3" fill="#9a9a9a" fill-opacity="0.85"/>
<circle cx="260.0" cy="727.0" r="2.3" fill="#9a9a9a" fill-opacity="0.85"/>
<line x1="181.2" y1="714.0" x2="181.2" y2="720.0" stroke="#000" stroke-width="1.0"/>
<line x1="179.4" y1="714.0" x2="183.0" y2="714.0" stroke="#000" stroke-width="1.0"/>
<line x1="179.4" y1="720.0" x2="183.0" y2="720.0" stroke="#000" stroke-width="1.0"/>
<line x1="201.3" y1="716.6" x2="201.3" y2="729.0" stroke="#000" stroke-width="1.0"/>
<line x1="199.5" y1="716.6" x2="203.1" y2="716.6" stroke="#000" stroke-width="1.0"/>
<line x1="199.5" y1="729.0" x2="203.1" y2="729.0" stroke="#000" stroke-width="1.0"/>
<line x1="220.9" y1="717.5" x2="220.9" y2="729.0" stroke="#000" stroke-width="1.0"/>
<line x1="219.1" y1="717.5" x2="222.7" y2="717.5" stroke="#000" stroke-width="1.0"/>
<line x1="219.1" y1="729.0" x2="222.7" y2="729.0" stroke="#000" stroke-width="1.0"/>
<line x1="241.0" y1="707.7" x2="241.0" y2="730.0" stroke="#000" stroke-width="1.0"/>
<line x1="239.2" y1="707.7" x2="242.8" y2="707.7" stroke="#000" stroke-width="1.0"/>
<line x1="239.2" y1="730.0" x2="242.8" y2="730.0" stroke="#000" stroke-width="1.0"/>
<line x1="260.6" y1="704.2" x2="260.6" y2="730.0" stroke="#000" stroke-width="1.0"/>
<line x1="258.8" y1="704.2" x2="262.4" y2="704.2" stroke="#000" stroke-width="1.0"/>
<line x1="258.8" y1="730.0" x2="262.4" y2="730.0" stroke="#000" stroke-width="1.0"/>
<polyline points="181.2,717.1 201.3,723.4 220.9,723.4 241.0,719.9 260.6,719.9" fill="none" stroke="#000" stroke-width="1.2"/>
<circle cx="181.2" cy="717.1" r="3.1" fill="#000"/>
<circle cx="201.3" cy="723.4" r="3.1" fill="#000"/>
<circle cx="220.9" cy="723.4" r="3.1" fill="#000"/>
<circle cx="241.0" cy="719.9" r="3.1" fill="#000"/>
<circle cx="260.6" cy="719.9" r="3.1" fill="#000"/>
<path d="M306.8,661.4 L306.8,731.0 L401.6,731.0" fill="none" stroke="#111" stroke-width="1.5"/>
<line x1="303.5" y1="661.4" x2="306.8" y2="661.4" stroke="#111" stroke-width="1.1"/>
<line x1="303.5" y1="684.6" x2="306.8" y2="684.6" stroke="#111" stroke-width="1.1"/>
<line x1="303.5" y1="707.9" x2="306.8" y2="707.9" stroke="#111" stroke-width="1.1"/>
<line x1="303.5" y1="731.0" x2="306.8" y2="731.0" stroke="#111" stroke-width="1.1"/>
<circle cx="312.5" cy="672.5" r="2.3" fill="#bbbbbb" fill-opacity="0.85"/>
<circle cx="320.0" cy="672.5" r="2.3" fill="#bbbbbb" fill-opacity="0.85"/>
<circle cx="312.0" cy="684.6" r="2.3" fill="#bbbbbb" fill-opacity="0.85"/>
<circle cx="320.0" cy="695.0" r="2.3" fill="#bbbbbb" fill-opacity="0.85"/>
<circle cx="331.0" cy="672.5" r="2.3" fill="#bbbbbb" fill-opacity="0.85"/>
<circle cx="330.5" cy="688.0" r="2.3" fill="#bbbbbb" fill-opacity="0.85"/>
<circle cx="332.0" cy="694.0" r="2.3" fill="#bbbbbb" fill-opacity="0.85"/>
<circle cx="331.0" cy="712.0" r="2.3" fill="#bbbbbb" fill-opacity="0.85"/>
<circle cx="338.0" cy="718.0" r="2.3" fill="#bbbbbb" fill-opacity="0.85"/>
<circle cx="340.0" cy="725.0" r="2.3" fill="#bbbbbb" fill-opacity="0.85"/>
<circle cx="350.0" cy="711.0" r="2.3" fill="#bbbbbb" fill-opacity="0.85"/>
<circle cx="357.0" cy="718.0" r="2.3" fill="#bbbbbb" fill-opacity="0.85"/>
<circle cx="351.0" cy="726.0" r="2.3" fill="#bbbbbb" fill-opacity="0.85"/>
<circle cx="358.0" cy="727.0" r="2.3" fill="#bbbbbb" fill-opacity="0.85"/>
<circle cx="371.0" cy="724.0" r="2.3" fill="#bbbbbb" fill-opacity="0.85"/>
<circle cx="376.0" cy="710.0" r="2.3" fill="#bbbbbb" fill-opacity="0.85"/>
<circle cx="368.0" cy="727.0" r="2.3" fill="#bbbbbb" fill-opacity="0.85"/>
<circle cx="376.0" cy="728.0" r="2.3" fill="#bbbbbb" fill-opacity="0.85"/>
<circle cx="387.0" cy="720.0" r="2.3" fill="#bbbbbb" fill-opacity="0.85"/>
<circle cx="393.0" cy="727.0" r="2.3" fill="#bbbbbb" fill-opacity="0.85"/>
<circle cx="397.0" cy="728.0" r="2.3" fill="#bbbbbb" fill-opacity="0.85"/>
<rect x="317.5" y="670.5" width="4" height="4" fill="#bbbbbb" fill-opacity="0.85"/>
<rect x="317.5" y="711.0" width="4" height="4" fill="#bbbbbb" fill-opacity="0.85"/>
<rect x="337.0" y="716.0" width="4" height="4" fill="#bbbbbb" fill-opacity="0.85"/>
<rect x="350.0" y="725.0" width="4" height="4" fill="#bbbbbb" fill-opacity="0.85"/>
<rect x="355.0" y="723.0" width="4" height="4" fill="#bbbbbb" fill-opacity="0.85"/>
<rect x="373.0" y="719.0" width="4" height="4" fill="#bbbbbb" fill-opacity="0.85"/>
<rect x="375.0" y="725.0" width="4" height="4" fill="#bbbbbb" fill-opacity="0.85"/>
<rect x="394.0" y="727.0" width="4" height="4" fill="#bbbbbb" fill-opacity="0.85"/>
<circle cx="312.5" cy="672.5" r="2.3" fill="#777" fill-opacity="0.9"/>
<circle cx="331.0" cy="672.5" r="2.3" fill="#888" fill-opacity="0.9"/>
<line x1="316.4" y1="679.9" x2="316.4" y2="705.0" stroke="#000" stroke-width="1.0"/>
<line x1="314.6" y1="679.9" x2="318.2" y2="679.9" stroke="#000" stroke-width="1.0"/>
<line x1="314.6" y1="705.0" x2="318.2" y2="705.0" stroke="#000" stroke-width="1.0"/>
<line x1="335.6" y1="676.4" x2="335.6" y2="701.3" stroke="#000" stroke-width="1.0"/>
<line x1="333.8" y1="676.4" x2="337.4" y2="676.4" stroke="#000" stroke-width="1.0"/>
<line x1="333.8" y1="701.3" x2="337.4" y2="701.3" stroke="#000" stroke-width="1.0"/>
<line x1="354.0" y1="715.0" x2="354.0" y2="728.0" stroke="#000" stroke-width="1.0"/>
<line x1="352.2" y1="715.0" x2="355.8" y2="715.0" stroke="#000" stroke-width="1.0"/>
<line x1="352.2" y1="728.0" x2="355.8" y2="728.0" stroke="#000" stroke-width="1.0"/>
<line x1="373.0" y1="714.6" x2="373.0" y2="728.0" stroke="#000" stroke-width="1.0"/>
<line x1="371.2" y1="714.6" x2="374.8" y2="714.6" stroke="#000" stroke-width="1.0"/>
<line x1="371.2" y1="728.0" x2="374.8" y2="728.0" stroke="#000" stroke-width="1.0"/>
<polyline points="316.4,675.8 335.6,688.6 354.0,722.8 373.0,724.8 392.0,726.9" fill="none" stroke="#000" stroke-width="1.2"/>
<polyline points="316.4,688.6 335.6,723.8 354.0,724.2 373.0,722.8 392.0,726.9" fill="none" stroke="#000" stroke-width="1.0" stroke-dasharray="1 1.3"/>
<circle cx="316.4" cy="675.8" r="3.3" fill="#000"/>
<circle cx="335.6" cy="688.6" r="3.3" fill="#000"/>
<circle cx="354.0" cy="722.8" r="3.3" fill="#000"/>
<circle cx="373.0" cy="724.8" r="3.3" fill="#000"/>
<circle cx="392.0" cy="726.9" r="3.3" fill="#000"/>
<rect x="313.4" y="685.6" width="6" height="6" fill="#000"/>
<rect x="332.6" y="720.8" width="6" height="6" fill="#000"/>
<rect x="351.0" y="721.2" width="6" height="6" fill="#000"/>
<rect x="370.0" y="719.8" width="6" height="6" fill="#000"/>
<rect x="389.0" y="723.9" width="6" height="6" fill="#000"/>
<polygon points="334.30,658.50 334.97,660.28 336.87,660.37 335.38,661.55 335.89,663.38 334.30,662.33 332.71,663.38 333.22,661.55 331.73,660.37 333.63,660.28" fill="#222"/>
<polygon points="338.70,658.50 339.37,660.28 341.27,660.37 339.78,661.55 340.29,663.38 338.70,662.33 337.11,663.38 337.62,661.55 336.13,660.37 338.03,660.28" fill="#222"/>
<path d="M447.6,660.8 L447.6,729.9 L542.6,729.9" fill="none" stroke="#111" stroke-width="1.5"/>
<line x1="444.3" y1="660.8" x2="447.6" y2="660.8" stroke="#111" stroke-width="1.1"/>
<line x1="444.3" y1="684.1" x2="447.6" y2="684.1" stroke="#111" stroke-width="1.1"/>
<line x1="444.3" y1="707.0" x2="447.6" y2="707.0" stroke="#111" stroke-width="1.1"/>
<line x1="444.3" y1="729.9" x2="447.6" y2="729.9" stroke="#111" stroke-width="1.1"/>
<circle cx="453.0" cy="708.0" r="2.3" fill="#bbbbbb" fill-opacity="0.85"/>
<circle cx="454.0" cy="722.0" r="2.3" fill="#bbbbbb" fill-opacity="0.85"/>
<circle cx="455.0" cy="725.0" r="2.3" fill="#bbbbbb" fill-opacity="0.85"/>
<circle cx="462.0" cy="695.0" r="2.3" fill="#bbbbbb" fill-opacity="0.85"/>
<circle cx="462.0" cy="699.0" r="2.3" fill="#bbbbbb" fill-opacity="0.85"/>
<circle cx="473.0" cy="725.0" r="2.3" fill="#bbbbbb" fill-opacity="0.85"/>
<circle cx="479.0" cy="728.0" r="2.3" fill="#bbbbbb" fill-opacity="0.85"/>
<circle cx="491.0" cy="723.0" r="2.3" fill="#bbbbbb" fill-opacity="0.85"/>
<circle cx="497.0" cy="728.0" r="2.3" fill="#bbbbbb" fill-opacity="0.85"/>
<circle cx="511.0" cy="727.0" r="2.3" fill="#bbbbbb" fill-opacity="0.85"/>
<circle cx="518.0" cy="727.0" r="2.3" fill="#bbbbbb" fill-opacity="0.85"/>
<circle cx="530.0" cy="723.0" r="2.3" fill="#bbbbbb" fill-opacity="0.85"/>
<circle cx="536.0" cy="728.0" r="2.3" fill="#bbbbbb" fill-opacity="0.85"/>
<rect x="459.0" y="690.0" width="4" height="4" fill="#bbbbbb" fill-opacity="0.85"/>
<rect x="460.0" y="704.0" width="4" height="4" fill="#bbbbbb" fill-opacity="0.85"/>
<rect x="478.0" y="709.0" width="4" height="4" fill="#bbbbbb" fill-opacity="0.85"/>
<rect x="476.0" y="724.0" width="4" height="4" fill="#bbbbbb" fill-opacity="0.85"/>
<rect x="496.0" y="723.0" width="4" height="4" fill="#bbbbbb" fill-opacity="0.85"/>
<rect x="515.0" y="724.0" width="4" height="4" fill="#bbbbbb" fill-opacity="0.85"/>
<rect x="534.0" y="703.0" width="4" height="4" fill="#bbbbbb" fill-opacity="0.85"/>
<rect x="532.0" y="724.0" width="4" height="4" fill="#bbbbbb" fill-opacity="0.85"/>
<line x1="457.4" y1="693.5" x2="457.4" y2="703.0" stroke="#000" stroke-width="1.0"/>
<line x1="455.6" y1="693.5" x2="459.2" y2="693.5" stroke="#000" stroke-width="1.0"/>
<line x1="455.6" y1="703.0" x2="459.2" y2="703.0" stroke="#000" stroke-width="1.0"/>
<line x1="457.4" y1="712.0" x2="457.4" y2="722.0" stroke="#000" stroke-width="1.0"/>
<line x1="455.6" y1="712.0" x2="459.2" y2="712.0" stroke="#000" stroke-width="1.0"/>
<line x1="455.6" y1="722.0" x2="459.2" y2="722.0" stroke="#000" stroke-width="1.0"/>
<line x1="476.2" y1="712.6" x2="476.2" y2="726.0" stroke="#000" stroke-width="1.0"/>
<line x1="474.4" y1="712.6" x2="478.0" y2="712.6" stroke="#000" stroke-width="1.0"/>
<line x1="474.4" y1="726.0" x2="478.0" y2="726.0" stroke="#000" stroke-width="1.0"/>
<line x1="533.0" y1="710.5" x2="533.0" y2="726.0" stroke="#000" stroke-width="1.0"/>
<line x1="531.2" y1="710.5" x2="534.8" y2="710.5" stroke="#000" stroke-width="1.0"/>
<line x1="531.2" y1="726.0" x2="534.8" y2="726.0" stroke="#000" stroke-width="1.0"/>
<polyline points="457.4,717.3 476.2,723.8 495.2,726.9 514.0,727.9 533.0,726.9" fill="none" stroke="#000" stroke-width="1.2"/>
<polyline points="457.4,697.2 476.2,721.7 495.2,726.9 514.0,727.5 533.0,721.7" fill="none" stroke="#000" stroke-width="1.0" stroke-dasharray="1 1.3"/>
<circle cx="457.4" cy="717.3" r="3.3" fill="#000"/>
<circle cx="476.2" cy="723.8" r="3.3" fill="#000"/>
<circle cx="495.2" cy="726.9" r="3.3" fill="#000"/>
<circle cx="514.0" cy="727.9" r="3.3" fill="#000"/>
<circle cx="533.0" cy="726.9" r="3.3" fill="#000"/>
<rect x="454.4" y="694.2" width="6" height="6" fill="#000"/>
<rect x="473.2" y="718.7" width="6" height="6" fill="#000"/>
<rect x="492.2" y="723.9" width="6" height="6" fill="#000"/>
<rect x="511.0" y="724.5" width="6" height="6" fill="#000"/>
<rect x="530.0" y="718.7" width="6" height="6" fill="#000"/>
<polygon points="461.10,658.80 461.77,660.58 463.67,660.67 462.18,661.85 462.69,663.68 461.10,662.63 459.51,663.68 460.02,661.85 458.53,660.67 460.43,660.58" fill="#222"/>
<polygon points="465.70,658.80 466.37,660.58 468.27,660.67 466.78,661.85 467.29,663.68 465.70,662.63 464.11,663.68 464.62,661.85 463.13,660.67 465.03,660.58" fill="#222"/>
<line x1="551.5" y1="679.7" x2="571.2" y2="679.7" stroke="#000" stroke-width="1.4"/>
<circle cx="561.3" cy="679.7" r="2.8" fill="#000"/>
<line x1="551.5" y1="694.0" x2="571.2" y2="694.0" stroke="#000" stroke-width="1.4" stroke-dasharray="1.3 1.3"/>
<rect x="558.5" y="691.2" width="5.6" height="5.6" fill="#000"/>
<text x="577.3" y="683.6" font-size="10.5" textLength="49" lengthAdjust="spacingAndGlyphs" fill="#000" >Exp. group</text>
<text x="577.3" y="697.6" font-size="10.5" textLength="63.7" lengthAdjust="spacingAndGlyphs" fill="#000" >Control group</text>
<text transform="translate(21.6,805.7) rotate(-90)" font-size="11" text-anchor="middle" textLength="70" lengthAdjust="spacingAndGlyphs">Go probability</text>
<text x="39.6" y="767.8" font-size="10.5" text-anchor="end" fill="#000" >1</text>
<text x="38.2" y="851.6" font-size="10.5" text-anchor="end" fill="#000" >0</text>
<rect x="49.3" y="761.2" width="7.2" height="87.2" fill="#e9e9e9"/>
<rect x="56.5" y="762.0" width="7.4" height="86.4" fill="#fcefd4"/>
<rect x="69.6" y="761.2" width="7.0" height="87.2" fill="#e9e9e9"/>
<rect x="76.6" y="780.5" width="7.3" height="67.9" fill="#fcefd4"/>
<rect x="89.3" y="761.2" width="7.0" height="87.2" fill="#e9e9e9"/>
<rect x="96.3" y="790.4" width="7.3" height="58.0" fill="#fcefd4"/>
<rect x="109.0" y="761.2" width="7.5" height="87.2" fill="#e9e9e9"/>
<rect x="116.5" y="795.8" width="7.2" height="52.6" fill="#fcefd4"/>
<rect x="129.2" y="761.2" width="7.0" height="87.2" fill="#e9e9e9"/>
<rect x="136.2" y="815.5" width="7.9" height="32.9" fill="#fcefd4"/>
<line x1="52.8" y1="763.5" x2="60.3" y2="764.0" stroke="#b8b8b8" stroke-width="0.7"/>
<line x1="52.8" y1="763.5" x2="60.3" y2="774.6" stroke="#b8b8b8" stroke-width="0.7"/>
<line x1="72.9" y1="763.5" x2="80.7" y2="764.0" stroke="#b8b8b8" stroke-width="0.7"/>
<line x1="72.9" y1="763.5" x2="80.7" y2="779.0" stroke="#b8b8b8" stroke-width="0.7"/>
<line x1="72.9" y1="763.5" x2="80.7" y2="781.6" stroke="#b8b8b8" stroke-width="0.7"/>
<line x1="72.9" y1="763.5" x2="80.7" y2="783.0" stroke="#b8b8b8" stroke-width="0.7"/>
<line x1="72.9" y1="763.5" x2="80.7" y2="792.0" stroke="#b8b8b8" stroke-width="0.7"/>
<line x1="92.8" y1="763.5" x2="100.2" y2="773.3" stroke="#b8b8b8" stroke-width="0.7"/>
<line x1="92.8" y1="763.5" x2="100.2" y2="785.5" stroke="#b8b8b8" stroke-width="0.7"/>
<line x1="92.8" y1="763.5" x2="100.2" y2="788.0" stroke="#b8b8b8" stroke-width="0.7"/>
<line x1="92.8" y1="763.5" x2="100.2" y2="790.4" stroke="#b8b8b8" stroke-width="0.7"/>
<line x1="92.8" y1="763.5" x2="100.2" y2="793.6" stroke="#b8b8b8" stroke-width="0.7"/>
<line x1="92.8" y1="763.5" x2="100.2" y2="809.0" stroke="#b8b8b8" stroke-width="0.7"/>
<line x1="112.7" y1="763.5" x2="120.1" y2="776.0" stroke="#b8b8b8" stroke-width="0.7"/>
<line x1="112.7" y1="763.5" x2="120.1" y2="791.9" stroke="#b8b8b8" stroke-width="0.7"/>
<line x1="112.7" y1="763.5" x2="120.1" y2="795.0" stroke="#b8b8b8" stroke-width="0.7"/>
<line x1="112.7" y1="763.5" x2="120.1" y2="797.4" stroke="#b8b8b8" stroke-width="0.7"/>
<line x1="112.7" y1="763.5" x2="120.1" y2="807.9" stroke="#b8b8b8" stroke-width="0.7"/>
<line x1="112.7" y1="763.5" x2="120.1" y2="813.4" stroke="#b8b8b8" stroke-width="0.7"/>
<line x1="132.7" y1="763.5" x2="140.2" y2="805.7" stroke="#b8b8b8" stroke-width="0.7"/>
<line x1="132.7" y1="763.5" x2="140.2" y2="813.0" stroke="#b8b8b8" stroke-width="0.7"/>
<line x1="132.7" y1="763.5" x2="140.2" y2="815.5" stroke="#b8b8b8" stroke-width="0.7"/>
<line x1="132.7" y1="763.5" x2="140.2" y2="817.0" stroke="#b8b8b8" stroke-width="0.7"/>
<line x1="132.7" y1="763.5" x2="140.2" y2="822.8" stroke="#b8b8b8" stroke-width="0.7"/>
<rect x="49.8" y="760.5" width="6" height="6" fill="#a8a8a8" fill-opacity="0.9"/>
<rect x="69.9" y="760.5" width="6" height="6" fill="#a8a8a8" fill-opacity="0.9"/>
<rect x="89.8" y="760.5" width="6" height="6" fill="#a8a8a8" fill-opacity="0.9"/>
<rect x="109.7" y="760.5" width="6" height="6" fill="#a8a8a8" fill-opacity="0.9"/>
<rect x="129.7" y="760.5" width="6" height="6" fill="#a8a8a8" fill-opacity="0.9"/>
<circle cx="60.3" cy="764.0" r="2.6" fill="#f0bd52" fill-opacity="0.92"/>
<circle cx="60.3" cy="774.6" r="2.6" fill="#f0bd52" fill-opacity="0.92"/>
<circle cx="80.7" cy="764.0" r="2.6" fill="#f0bd52" fill-opacity="0.92"/>
<circle cx="80.7" cy="779.0" r="2.6" fill="#f0bd52" fill-opacity="0.92"/>
<circle cx="80.7" cy="781.6" r="2.6" fill="#f0bd52" fill-opacity="0.92"/>
<circle cx="80.7" cy="783.0" r="2.6" fill="#f0bd52" fill-opacity="0.92"/>
<circle cx="80.7" cy="792.0" r="2.6" fill="#f0bd52" fill-opacity="0.92"/>
<circle cx="100.2" cy="773.3" r="2.6" fill="#f0bd52" fill-opacity="0.92"/>
<circle cx="100.2" cy="785.5" r="2.6" fill="#f0bd52" fill-opacity="0.92"/>
<circle cx="100.2" cy="788.0" r="2.6" fill="#f0bd52" fill-opacity="0.92"/>
<circle cx="100.2" cy="790.4" r="2.6" fill="#f0bd52" fill-opacity="0.92"/>
<circle cx="100.2" cy="793.6" r="2.6" fill="#f0bd52" fill-opacity="0.92"/>
<circle cx="100.2" cy="809.0" r="2.6" fill="#f0bd52" fill-opacity="0.92"/>
<circle cx="120.1" cy="776.0" r="2.6" fill="#f0bd52" fill-opacity="0.92"/>
<circle cx="120.1" cy="791.9" r="2.6" fill="#f0bd52" fill-opacity="0.92"/>
<circle cx="120.1" cy="795.0" r="2.6" fill="#f0bd52" fill-opacity="0.92"/>
<circle cx="120.1" cy="797.4" r="2.6" fill="#f0bd52" fill-opacity="0.92"/>
<circle cx="120.1" cy="807.9" r="2.6" fill="#f0bd52" fill-opacity="0.92"/>
<circle cx="120.1" cy="813.4" r="2.6" fill="#f0bd52" fill-opacity="0.92"/>
<circle cx="140.2" cy="805.7" r="2.6" fill="#f0bd52" fill-opacity="0.92"/>
<circle cx="140.2" cy="813.0" r="2.6" fill="#f0bd52" fill-opacity="0.92"/>
<circle cx="140.2" cy="815.5" r="2.6" fill="#f0bd52" fill-opacity="0.92"/>
<circle cx="140.2" cy="817.0" r="2.6" fill="#f0bd52" fill-opacity="0.92"/>
<circle cx="140.2" cy="822.8" r="2.6" fill="#f0bd52" fill-opacity="0.92"/>
<path d="M44.4,761.2 L44.4,848.4 L148.9,848.4" fill="none" stroke="#111" stroke-width="1.5"/>
<line x1="41.1" y1="761.2" x2="44.4" y2="761.2" stroke="#111" stroke-width="1.1"/>
<line x1="41.1" y1="804.8" x2="44.4" y2="804.8" stroke="#111" stroke-width="1.1"/>
<line x1="41.1" y1="848.4" x2="44.4" y2="848.4" stroke="#111" stroke-width="1.1"/>
<line x1="56.9" y1="848.4" x2="56.9" y2="851.8" stroke="#111" stroke-width="0.9"/>
<line x1="76.9" y1="848.4" x2="76.9" y2="851.8" stroke="#111" stroke-width="0.9"/>
<line x1="96.5" y1="848.4" x2="96.5" y2="851.8" stroke="#111" stroke-width="0.9"/>
<line x1="116.8" y1="848.4" x2="116.8" y2="851.8" stroke="#111" stroke-width="0.9"/>
<line x1="136.7" y1="848.4" x2="136.7" y2="851.8" stroke="#111" stroke-width="0.9"/>
<polygon points="76.60,752.60 77.27,754.38 79.17,754.47 77.68,755.65 78.19,757.48 76.60,756.43 75.01,757.48 75.52,755.65 74.03,754.47 75.93,754.38" fill="#222"/>
<polygon points="81.00,752.60 81.67,754.38 83.57,754.47 82.08,755.65 82.59,757.48 81.00,756.43 79.41,757.48 79.92,755.65 78.43,754.47 80.33,754.38" fill="#222"/>
<polygon points="93.92,752.60 94.59,754.38 96.49,754.47 95.00,755.65 95.51,757.48 93.92,756.43 92.34,757.48 92.85,755.65 91.36,754.47 93.26,754.38" fill="#222"/>
<polygon points="98.78,752.60 99.44,754.38 101.34,754.47 99.85,755.65 100.36,757.48 98.78,756.43 97.19,757.48 97.70,755.65 96.21,754.47 98.11,754.38" fill="#222"/>
<polygon points="111.98,752.60 112.65,754.38 114.55,754.47 113.06,755.65 113.57,757.48 111.98,756.43 110.40,757.48 110.90,755.65 109.42,754.47 111.32,754.38" fill="#222"/>
<polygon points="116.95,752.60 117.62,754.38 119.52,754.47 118.03,755.65 118.54,757.48 116.95,756.43 115.36,757.48 115.87,755.65 114.38,754.47 116.28,754.38" fill="#222"/>
<polygon points="121.92,752.60 122.58,754.38 124.48,754.47 123.00,755.65 123.50,757.48 121.92,756.43 120.33,757.48 120.84,755.65 119.35,754.47 121.25,754.38" fill="#222"/>
<polygon points="131.68,752.60 132.35,754.38 134.25,754.47 132.76,755.65 133.27,757.48 131.68,756.43 130.10,757.48 130.60,755.65 129.12,754.47 131.02,754.38" fill="#222"/>
<polygon points="136.65,752.60 137.32,754.38 139.22,754.47 137.73,755.65 138.24,757.48 136.65,756.43 135.06,757.48 135.57,755.65 134.08,754.47 135.98,754.38" fill="#222"/>
<polygon points="141.62,752.60 142.28,754.38 144.18,754.47 142.70,755.65 143.20,757.48 141.62,756.43 140.03,757.48 140.54,755.65 139.05,754.47 140.95,754.38" fill="#222"/>
<rect x="178.6" y="761.5" width="7.2" height="86.4" fill="#e9e9e9"/>
<rect x="185.8" y="810.5" width="7.5" height="37.4" fill="#fcefd4"/>
<rect x="198.6" y="761.5" width="7.0" height="86.4" fill="#e9e9e9"/>
<rect x="205.6" y="810.5" width="7.4" height="37.4" fill="#fcefd4"/>
<rect x="218.5" y="761.5" width="7.1" height="86.4" fill="#e9e9e9"/>
<rect x="225.6" y="814.6" width="7.4" height="33.3" fill="#fcefd4"/>
<rect x="238.3" y="761.5" width="7.3" height="86.4" fill="#e9e9e9"/>
<rect x="245.6" y="813.6" width="7.6" height="34.3" fill="#fcefd4"/>
<rect x="258.3" y="761.5" width="7.2" height="86.4" fill="#e9e9e9"/>
<rect x="265.5" y="810.5" width="7.5" height="37.4" fill="#fcefd4"/>
<line x1="182.2" y1="764.1" x2="189.6" y2="797.8" stroke="#b8b8b8" stroke-width="0.7"/>
<line x1="182.2" y1="764.1" x2="189.6" y2="800.7" stroke="#b8b8b8" stroke-width="0.7"/>
<line x1="182.2" y1="764.1" x2="189.6" y2="810.5" stroke="#b8b8b8" stroke-width="0.7"/>
<line x1="182.2" y1="764.1" x2="189.6" y2="816.6" stroke="#b8b8b8" stroke-width="0.7"/>
<line x1="182.2" y1="764.1" x2="189.6" y2="818.7" stroke="#b8b8b8" stroke-width="0.7"/>
<line x1="202.1" y1="764.1" x2="209.4" y2="798.7" stroke="#b8b8b8" stroke-width="0.7"/>
<line x1="202.1" y1="764.1" x2="209.4" y2="805.8" stroke="#b8b8b8" stroke-width="0.7"/>
<line x1="202.1" y1="764.1" x2="209.4" y2="811.1" stroke="#b8b8b8" stroke-width="0.7"/>
<line x1="202.1" y1="764.1" x2="209.4" y2="811.9" stroke="#b8b8b8" stroke-width="0.7"/>
<line x1="202.1" y1="764.1" x2="209.4" y2="820.1" stroke="#b8b8b8" stroke-width="0.7"/>
<line x1="202.1" y1="764.1" x2="209.4" y2="824.2" stroke="#b8b8b8" stroke-width="0.7"/>
<line x1="222.0" y1="764.1" x2="229.3" y2="798.2" stroke="#b8b8b8" stroke-width="0.7"/>
<line x1="222.0" y1="764.1" x2="229.3" y2="802.9" stroke="#b8b8b8" stroke-width="0.7"/>
<line x1="222.0" y1="764.1" x2="229.3" y2="815.2" stroke="#b8b8b8" stroke-width="0.7"/>
<line x1="222.0" y1="764.1" x2="229.3" y2="816.0" stroke="#b8b8b8" stroke-width="0.7"/>
<line x1="222.0" y1="764.1" x2="229.3" y2="826.2" stroke="#b8b8b8" stroke-width="0.7"/>
<line x1="222.0" y1="764.1" x2="229.3" y2="831.6" stroke="#b8b8b8" stroke-width="0.7"/>
<line x1="242.0" y1="764.1" x2="249.4" y2="799.3" stroke="#b8b8b8" stroke-width="0.7"/>
<line x1="242.0" y1="769.2" x2="249.4" y2="812.6" stroke="#b8b8b8" stroke-width="0.7"/>
<line x1="242.0" y1="769.2" x2="249.4" y2="813.6" stroke="#b8b8b8" stroke-width="0.7"/>
<line x1="242.0" y1="769.2" x2="249.4" y2="823.8" stroke="#b8b8b8" stroke-width="0.7"/>
<line x1="242.0" y1="769.2" x2="249.4" y2="829.9" stroke="#b8b8b8" stroke-width="0.7"/>
<line x1="261.9" y1="764.1" x2="269.3" y2="795.2" stroke="#b8b8b8" stroke-width="0.7"/>
<line x1="261.9" y1="764.1" x2="269.3" y2="805.0" stroke="#b8b8b8" stroke-width="0.7"/>
<line x1="261.9" y1="764.1" x2="269.3" y2="809.9" stroke="#b8b8b8" stroke-width="0.7"/>
<line x1="261.9" y1="764.1" x2="269.3" y2="811.1" stroke="#b8b8b8" stroke-width="0.7"/>
<line x1="261.9" y1="764.1" x2="269.3" y2="814.6" stroke="#b8b8b8" stroke-width="0.7"/>
<line x1="261.9" y1="764.1" x2="269.3" y2="826.9" stroke="#b8b8b8" stroke-width="0.7"/>
<rect x="179.2" y="761.1" width="6" height="6" fill="#a8a8a8" fill-opacity="0.9"/>
<rect x="199.1" y="761.1" width="6" height="6" fill="#a8a8a8" fill-opacity="0.9"/>
<rect x="219.0" y="761.1" width="6" height="6" fill="#a8a8a8" fill-opacity="0.9"/>
<rect x="239.0" y="761.1" width="6" height="6" fill="#a8a8a8" fill-opacity="0.9"/>
<rect x="239.0" y="766.2" width="6" height="6" fill="#a8a8a8" fill-opacity="0.9"/>
<rect x="258.9" y="761.1" width="6" height="6" fill="#a8a8a8" fill-opacity="0.9"/>
<circle cx="189.6" cy="797.8" r="2.6" fill="#f0bd52" fill-opacity="0.92"/>
<circle cx="189.6" cy="800.7" r="2.6" fill="#f0bd52" fill-opacity="0.92"/>
<circle cx="189.6" cy="810.5" r="2.6" fill="#f0bd52" fill-opacity="0.92"/>
<circle cx="189.6" cy="816.6" r="2.6" fill="#f0bd52" fill-opacity="0.92"/>
<circle cx="189.6" cy="818.7" r="2.6" fill="#f0bd52" fill-opacity="0.92"/>
<circle cx="209.4" cy="798.7" r="2.6" fill="#f0bd52" fill-opacity="0.92"/>
<circle cx="209.4" cy="805.8" r="2.6" fill="#f0bd52" fill-opacity="0.92"/>
<circle cx="209.4" cy="811.1" r="2.6" fill="#f0bd52" fill-opacity="0.92"/>
<circle cx="209.4" cy="811.9" r="2.6" fill="#f0bd52" fill-opacity="0.92"/>
<circle cx="209.4" cy="820.1" r="2.6" fill="#f0bd52" fill-opacity="0.92"/>
<circle cx="209.4" cy="824.2" r="2.6" fill="#f0bd52" fill-opacity="0.92"/>
<circle cx="229.3" cy="798.2" r="2.6" fill="#f0bd52" fill-opacity="0.92"/>
<circle cx="229.3" cy="802.9" r="2.6" fill="#f0bd52" fill-opacity="0.92"/>
<circle cx="229.3" cy="815.2" r="2.6" fill="#f0bd52" fill-opacity="0.92"/>
<circle cx="229.3" cy="816.0" r="2.6" fill="#f0bd52" fill-opacity="0.92"/>
<circle cx="229.3" cy="826.2" r="2.6" fill="#f0bd52" fill-opacity="0.92"/>
<circle cx="229.3" cy="831.6" r="2.6" fill="#f0bd52" fill-opacity="0.92"/>
<circle cx="249.4" cy="799.3" r="2.6" fill="#f0bd52" fill-opacity="0.92"/>
<circle cx="249.4" cy="812.6" r="2.6" fill="#f0bd52" fill-opacity="0.92"/>
<circle cx="249.4" cy="813.6" r="2.6" fill="#f0bd52" fill-opacity="0.92"/>
<circle cx="249.4" cy="823.8" r="2.6" fill="#f0bd52" fill-opacity="0.92"/>
<circle cx="249.4" cy="829.9" r="2.6" fill="#f0bd52" fill-opacity="0.92"/>
<circle cx="269.3" cy="795.2" r="2.6" fill="#f0bd52" fill-opacity="0.92"/>
<circle cx="269.3" cy="805.0" r="2.6" fill="#f0bd52" fill-opacity="0.92"/>
<circle cx="269.3" cy="809.9" r="2.6" fill="#f0bd52" fill-opacity="0.92"/>
<circle cx="269.3" cy="811.1" r="2.6" fill="#f0bd52" fill-opacity="0.92"/>
<circle cx="269.3" cy="814.6" r="2.6" fill="#f0bd52" fill-opacity="0.92"/>
<circle cx="269.3" cy="826.9" r="2.6" fill="#f0bd52" fill-opacity="0.92"/>
<path d="M173.5,761.5 L173.5,847.9 L278.3,847.9" fill="none" stroke="#111" stroke-width="1.5"/>
<line x1="170.2" y1="761.5" x2="173.5" y2="761.5" stroke="#111" stroke-width="1.1"/>
<line x1="170.2" y1="804.7" x2="173.5" y2="804.7" stroke="#111" stroke-width="1.1"/>
<line x1="170.2" y1="847.9" x2="173.5" y2="847.9" stroke="#111" stroke-width="1.1"/>
<line x1="186.4" y1="847.9" x2="186.4" y2="851.3" stroke="#111" stroke-width="0.9"/>
<line x1="206.2" y1="847.9" x2="206.2" y2="851.3" stroke="#111" stroke-width="0.9"/>
<line x1="226.0" y1="847.9" x2="226.0" y2="851.3" stroke="#111" stroke-width="0.9"/>
<line x1="245.6" y1="847.9" x2="245.6" y2="851.3" stroke="#111" stroke-width="0.9"/>
<line x1="266.1" y1="847.9" x2="266.1" y2="851.3" stroke="#111" stroke-width="0.9"/>
<polygon points="180.08,752.60 180.75,754.38 182.65,754.47 181.16,755.65 181.67,757.48 180.08,756.43 178.50,757.48 179.00,755.65 177.52,754.47 179.42,754.38" fill="#222"/>
<polygon points="185.05,752.60 185.72,754.38 187.62,754.47 186.13,755.65 186.64,757.48 185.05,756.43 183.46,757.48 183.97,755.65 182.48,754.47 184.38,754.38" fill="#222"/>
<polygon points="190.02,752.60 190.68,754.38 192.58,754.47 191.10,755.65 191.60,757.48 190.02,756.43 188.43,757.48 188.94,755.65 187.45,754.47 189.35,754.38" fill="#222"/>
<polygon points="197.65,752.60 198.32,754.38 200.22,754.47 198.73,755.65 199.24,757.48 197.65,756.43 196.06,757.48 196.57,755.65 195.08,754.47 196.98,754.38" fill="#222"/>
<polygon points="202.95,752.60 203.62,754.38 205.52,754.47 204.03,755.65 204.54,757.48 202.95,756.43 201.36,757.48 201.87,755.65 200.38,754.47 202.28,754.38" fill="#222"/>
<polygon points="208.25,752.60 208.92,754.38 210.82,754.47 209.33,755.65 209.84,757.48 208.25,756.43 206.66,757.48 207.17,755.65 205.68,754.47 207.58,754.38" fill="#222"/>
<polygon points="218.38,752.60 219.05,754.38 220.95,754.47 219.46,755.65 219.97,757.48 218.38,756.43 216.80,757.48 217.30,755.65 215.82,754.47 217.72,754.38" fill="#222"/>
<polygon points="223.55,752.60 224.22,754.38 226.12,754.47 224.63,755.65 225.14,757.48 223.55,756.43 221.96,757.48 222.47,755.65 220.98,754.47 222.88,754.38" fill="#222"/>
<polygon points="228.72,752.60 229.38,754.38 231.28,754.47 229.80,755.65 230.30,757.48 228.72,756.43 227.13,757.48 227.64,755.65 226.15,754.47 228.05,754.38" fill="#222"/>
<polygon points="239.38,752.60 240.05,754.38 241.95,754.47 240.46,755.65 240.97,757.48 239.38,756.43 237.80,757.48 238.30,755.65 236.82,754.47 238.72,754.38" fill="#222"/>
<polygon points="244.35,752.60 245.02,754.38 246.92,754.47 245.43,755.65 245.94,757.48 244.35,756.43 242.76,757.48 243.27,755.65 241.78,754.47 243.68,754.38" fill="#222"/>
<polygon points="249.32,752.60 249.98,754.38 251.88,754.47 250.40,755.65 250.90,757.48 249.32,756.43 247.73,757.48 248.24,755.65 246.75,754.47 248.65,754.38" fill="#222"/>
<polygon points="259.78,752.60 260.45,754.38 262.35,754.47 260.86,755.65 261.37,757.48 259.78,756.43 258.20,757.48 258.70,755.65 257.22,754.47 259.12,754.38" fill="#222"/>
<polygon points="264.75,752.60 265.42,754.38 267.32,754.47 265.83,755.65 266.34,757.48 264.75,756.43 263.16,757.48 263.67,755.65 262.18,754.47 264.08,754.38" fill="#222"/>
<polygon points="269.72,752.60 270.38,754.38 272.28,754.47 270.80,755.65 271.30,757.48 269.72,756.43 268.13,757.48 268.64,755.65 267.15,754.47 269.05,754.38" fill="#222"/>
<rect x="308.8" y="763.0" width="7.4" height="84.9" fill="#e9e9e9"/>
<rect x="316.2" y="802.3" width="7.3" height="45.6" fill="#fcefd4"/>
<rect x="329.0" y="769.0" width="7.2" height="78.9" fill="#e9e9e9"/>
<rect x="336.2" y="801.3" width="7.2" height="46.6" fill="#fcefd4"/>
<rect x="348.9" y="786.8" width="7.0" height="61.1" fill="#e9e9e9"/>
<rect x="355.9" y="803.0" width="7.3" height="44.9" fill="#fcefd4"/>
<rect x="369.0" y="790.0" width="7.0" height="57.9" fill="#e9e9e9"/>
<rect x="376.0" y="803.0" width="7.4" height="44.9" fill="#fcefd4"/>
<rect x="388.8" y="797.0" width="7.0" height="50.9" fill="#e9e9e9"/>
<rect x="395.8" y="800.3" width="7.4" height="47.6" fill="#fcefd4"/>
<line x1="314.1" y1="762.6" x2="319.9" y2="768.8" stroke="#c4c4c4" stroke-width="0.7"/>
<line x1="314.1" y1="763.8" x2="319.9" y2="796.7" stroke="#c4c4c4" stroke-width="0.7"/>
<line x1="314.1" y1="765.0" x2="319.9" y2="797.9" stroke="#c4c4c4" stroke-width="0.7"/>
<line x1="314.1" y1="766.3" x2="319.9" y2="800.0" stroke="#c4c4c4" stroke-width="0.7"/>
<line x1="314.1" y1="767.5" x2="319.9" y2="803.0" stroke="#c4c4c4" stroke-width="0.7"/>
<line x1="314.1" y1="768.7" x2="319.9" y2="811.2" stroke="#c4c4c4" stroke-width="0.7"/>
<line x1="333.8" y1="764.2" x2="340.0" y2="786.7" stroke="#c4c4c4" stroke-width="0.7"/>
<line x1="333.8" y1="768.1" x2="340.0" y2="797.9" stroke="#c4c4c4" stroke-width="0.7"/>
<line x1="333.8" y1="772.1" x2="340.0" y2="800.0" stroke="#c4c4c4" stroke-width="0.7"/>
<line x1="333.8" y1="776.1" x2="340.0" y2="802.0" stroke="#c4c4c4" stroke-width="0.7"/>
<line x1="333.8" y1="780.0" x2="340.0" y2="809.2" stroke="#c4c4c4" stroke-width="0.7"/>
<line x1="354.0" y1="775.4" x2="359.7" y2="790.1" stroke="#c4c4c4" stroke-width="0.7"/>
<line x1="354.0" y1="779.9" x2="359.7" y2="800.1" stroke="#c4c4c4" stroke-width="0.7"/>
<line x1="354.0" y1="784.5" x2="359.7" y2="802.0" stroke="#c4c4c4" stroke-width="0.7"/>
<line x1="354.0" y1="789.0" x2="359.7" y2="804.8" stroke="#c4c4c4" stroke-width="0.7"/>
<line x1="354.0" y1="793.5" x2="359.7" y2="807.7" stroke="#c4c4c4" stroke-width="0.7"/>
<line x1="373.9" y1="776.5" x2="379.6" y2="793.5" stroke="#c4c4c4" stroke-width="0.7"/>
<line x1="373.9" y1="781.6" x2="379.6" y2="800.6" stroke="#c4c4c4" stroke-width="0.7"/>
<line x1="373.9" y1="786.6" x2="379.6" y2="803.0" stroke="#c4c4c4" stroke-width="0.7"/>
<line x1="373.9" y1="791.6" x2="379.6" y2="805.8" stroke="#c4c4c4" stroke-width="0.7"/>
<line x1="373.9" y1="796.7" x2="379.6" y2="808.2" stroke="#c4c4c4" stroke-width="0.7"/>
<line x1="393.8" y1="784.3" x2="399.8" y2="793.0" stroke="#c4c4c4" stroke-width="0.7"/>
<line x1="393.8" y1="788.8" x2="399.8" y2="796.3" stroke="#c4c4c4" stroke-width="0.7"/>
<line x1="393.8" y1="793.2" x2="399.8" y2="800.1" stroke="#c4c4c4" stroke-width="0.7"/>
<line x1="393.8" y1="797.7" x2="399.8" y2="803.0" stroke="#c4c4c4" stroke-width="0.7"/>
<line x1="393.8" y1="802.2" x2="399.8" y2="805.3" stroke="#c4c4c4" stroke-width="0.7"/>
<rect x="310.2" y="762.0" width="4.9" height="7.3" fill="#c2c2c2"/>
<rect x="330.0" y="762.2" width="4.8" height="19.8" fill="#c2c2c2"/>
<rect x="349.9" y="773.1" width="5.1" height="22.7" fill="#c2c2c2"/>
<rect x="370.1" y="774.0" width="4.8" height="25.2" fill="#c2c2c2"/>
<rect x="390.1" y="782.1" width="4.7" height="22.3" fill="#c2c2c2"/>
<line x1="308.8" y1="771.3" x2="316.2" y2="771.3" stroke="#111" stroke-width="1.5"/>
<line x1="329.0" y1="784.0" x2="336.2" y2="784.0" stroke="#111" stroke-width="1.5"/>
<line x1="348.9" y1="791.1" x2="355.9" y2="791.1" stroke="#111" stroke-width="1.5"/>
<line x1="369.0" y1="788.7" x2="376.0" y2="788.7" stroke="#111" stroke-width="1.5"/>
<line x1="388.8" y1="800.6" x2="395.8" y2="800.6" stroke="#111" stroke-width="1.5"/>
<line x1="316.2" y1="773.4" x2="323.5" y2="773.4" stroke="#f5b52e" stroke-width="1.3"/>
<line x1="336.2" y1="786.7" x2="343.4" y2="786.7" stroke="#f5b52e" stroke-width="1.3"/>
<line x1="355.9" y1="790.4" x2="363.2" y2="790.4" stroke="#f5b52e" stroke-width="1.3"/>
<line x1="376.0" y1="790.4" x2="383.4" y2="790.4" stroke="#f5b52e" stroke-width="1.3"/>
<line x1="395.8" y1="799.7" x2="403.2" y2="799.7" stroke="#f5b52e" stroke-width="1.3"/>
<circle cx="319.9" cy="768.8" r="2.6" fill="#f0bd52" fill-opacity="0.92"/>
<circle cx="319.9" cy="796.7" r="2.6" fill="#f0bd52" fill-opacity="0.92"/>
<circle cx="319.9" cy="797.9" r="2.6" fill="#f0bd52" fill-opacity="0.92"/>
<circle cx="319.9" cy="800.0" r="2.6" fill="#f0bd52" fill-opacity="0.92"/>
<circle cx="319.9" cy="803.0" r="2.6" fill="#f0bd52" fill-opacity="0.92"/>
<circle cx="319.9" cy="811.2" r="2.6" fill="#f0bd52" fill-opacity="0.92"/>
<circle cx="340.0" cy="786.7" r="2.6" fill="#f0bd52" fill-opacity="0.92"/>
<circle cx="340.0" cy="797.9" r="2.6" fill="#f0bd52" fill-opacity="0.92"/>
<circle cx="340.0" cy="800.0" r="2.6" fill="#f0bd52" fill-opacity="0.92"/>
<circle cx="340.0" cy="802.0" r="2.6" fill="#f0bd52" fill-opacity="0.92"/>
<circle cx="340.0" cy="809.2" r="2.6" fill="#f0bd52" fill-opacity="0.92"/>
<circle cx="359.7" cy="790.1" r="2.6" fill="#f0bd52" fill-opacity="0.92"/>
<circle cx="359.7" cy="800.1" r="2.6" fill="#f0bd52" fill-opacity="0.92"/>
<circle cx="359.7" cy="802.0" r="2.6" fill="#f0bd52" fill-opacity="0.92"/>
<circle cx="359.7" cy="804.8" r="2.6" fill="#f0bd52" fill-opacity="0.92"/>
<circle cx="359.7" cy="807.7" r="2.6" fill="#f0bd52" fill-opacity="0.92"/>
<circle cx="379.6" cy="793.5" r="2.6" fill="#f0bd52" fill-opacity="0.92"/>
<circle cx="379.6" cy="800.6" r="2.6" fill="#f0bd52" fill-opacity="0.92"/>
<circle cx="379.6" cy="803.0" r="2.6" fill="#f0bd52" fill-opacity="0.92"/>
<circle cx="379.6" cy="805.8" r="2.6" fill="#f0bd52" fill-opacity="0.92"/>
<circle cx="379.6" cy="808.2" r="2.6" fill="#f0bd52" fill-opacity="0.92"/>
<circle cx="399.8" cy="793.0" r="2.6" fill="#f0bd52" fill-opacity="0.92"/>
<circle cx="399.8" cy="796.3" r="2.6" fill="#f0bd52" fill-opacity="0.92"/>
<circle cx="399.8" cy="800.1" r="2.6" fill="#f0bd52" fill-opacity="0.92"/>
<circle cx="399.8" cy="803.0" r="2.6" fill="#f0bd52" fill-opacity="0.92"/>
<circle cx="399.8" cy="805.3" r="2.6" fill="#f0bd52" fill-opacity="0.92"/>
<path d="M303.5,761.5 L303.5,847.9 L408.3,847.9" fill="none" stroke="#111" stroke-width="1.5"/>
<line x1="300.2" y1="761.5" x2="303.5" y2="761.5" stroke="#111" stroke-width="1.1"/>
<line x1="300.2" y1="804.7" x2="303.5" y2="804.7" stroke="#111" stroke-width="1.1"/>
<line x1="300.2" y1="847.9" x2="303.5" y2="847.9" stroke="#111" stroke-width="1.1"/>
<line x1="316.4" y1="847.9" x2="316.4" y2="851.3" stroke="#111" stroke-width="0.9"/>
<line x1="336.2" y1="847.9" x2="336.2" y2="851.3" stroke="#111" stroke-width="0.9"/>
<line x1="356.0" y1="847.9" x2="356.0" y2="851.3" stroke="#111" stroke-width="0.9"/>
<line x1="376.0" y1="847.9" x2="376.0" y2="851.3" stroke="#111" stroke-width="0.9"/>
<line x1="395.9" y1="847.9" x2="395.9" y2="851.3" stroke="#111" stroke-width="0.9"/>
<polygon points="313.55,752.60 314.22,754.38 316.12,754.47 314.63,755.65 315.14,757.48 313.55,756.43 311.96,757.48 312.47,755.65 310.98,754.47 312.88,754.38" fill="#222"/>
<polygon points="318.45,752.60 319.12,754.38 321.02,754.47 319.53,755.65 320.04,757.48 318.45,756.43 316.86,757.48 317.37,755.65 315.88,754.47 317.78,754.38" fill="#222"/>
<polygon points="329.38,752.60 330.05,754.38 331.95,754.47 330.46,755.65 330.97,757.48 329.38,756.43 327.80,757.48 328.30,755.65 326.82,754.47 328.72,754.38" fill="#222"/>
<polygon points="334.15,752.60 334.82,754.38 336.72,754.47 335.23,755.65 335.74,757.48 334.15,756.43 332.56,757.48 333.07,755.65 331.58,754.47 333.48,754.38" fill="#222"/>
<polygon points="338.92,752.60 339.58,754.38 341.48,754.47 340.00,755.65 340.50,757.48 338.92,756.43 337.33,757.48 337.84,755.65 336.35,754.47 338.25,754.38" fill="#222"/>
<polygon points="351.95,752.60 352.62,754.38 354.52,754.47 353.03,755.65 353.54,757.48 351.95,756.43 350.36,757.48 350.87,755.65 349.38,754.47 351.28,754.38" fill="#222"/>
<polygon points="356.85,752.60 357.52,754.38 359.42,754.47 357.93,755.65 358.44,757.48 356.85,756.43 355.26,757.48 355.77,755.65 354.28,754.47 356.18,754.38" fill="#222"/>
<polygon points="373.80,752.60 374.47,754.38 376.37,754.47 374.88,755.65 375.39,757.48 373.80,756.43 372.21,757.48 372.72,755.65 371.23,754.47 373.13,754.38" fill="#222"/>
<rect x="452.8" y="782.3" width="7.2" height="65.6" fill="#e9e9e9"/>
<rect x="460.0" y="799.5" width="7.7" height="48.4" fill="#fcefd4"/>
<rect x="472.5" y="795.4" width="7.2" height="52.5" fill="#e9e9e9"/>
<rect x="479.7" y="803.0" width="7.7" height="44.9" fill="#fcefd4"/>
<rect x="492.6" y="798.3" width="7.1" height="49.6" fill="#e9e9e9"/>
<rect x="499.7" y="802.0" width="7.6" height="45.9" fill="#fcefd4"/>
<rect x="512.0" y="799.5" width="7.7" height="48.4" fill="#e9e9e9"/>
<rect x="519.7" y="800.3" width="8.0" height="47.6" fill="#fcefd4"/>
<rect x="532.5" y="797.3" width="7.3" height="50.6" fill="#e9e9e9"/>
<rect x="539.8" y="802.0" width="7.2" height="45.9" fill="#fcefd4"/>
<line x1="457.4" y1="774.0" x2="463.9" y2="788.7" stroke="#c4c4c4" stroke-width="0.7"/>
<line x1="457.4" y1="776.0" x2="463.9" y2="798.7" stroke="#c4c4c4" stroke-width="0.7"/>
<line x1="457.4" y1="778.0" x2="463.9" y2="800.7" stroke="#c4c4c4" stroke-width="0.7"/>
<line x1="457.4" y1="780.0" x2="463.9" y2="803.6" stroke="#c4c4c4" stroke-width="0.7"/>
<line x1="477.4" y1="786.4" x2="483.7" y2="794.7" stroke="#c4c4c4" stroke-width="0.7"/>
<line x1="477.4" y1="790.8" x2="483.7" y2="800.3" stroke="#c4c4c4" stroke-width="0.7"/>
<line x1="477.4" y1="795.0" x2="483.7" y2="802.8" stroke="#c4c4c4" stroke-width="0.7"/>
<line x1="477.4" y1="799.4" x2="483.7" y2="805.2" stroke="#c4c4c4" stroke-width="0.7"/>
<line x1="497.8" y1="787.5" x2="503.6" y2="795.9" stroke="#c4c4c4" stroke-width="0.7"/>
<line x1="497.8" y1="794.0" x2="503.6" y2="799.5" stroke="#c4c4c4" stroke-width="0.7"/>
<line x1="497.8" y1="800.4" x2="503.6" y2="802.8" stroke="#c4c4c4" stroke-width="0.7"/>
<line x1="517.9" y1="792.8" x2="523.7" y2="799.5" stroke="#c4c4c4" stroke-width="0.7"/>
<line x1="517.9" y1="796.1" x2="523.7" y2="802.8" stroke="#c4c4c4" stroke-width="0.7"/>
<line x1="517.9" y1="799.4" x2="523.7" y2="805.2" stroke="#c4c4c4" stroke-width="0.7"/>
<line x1="517.9" y1="802.7" x2="523.7" y2="808.4" stroke="#c4c4c4" stroke-width="0.7"/>
<line x1="537.4" y1="791.7" x2="543.4" y2="798.7" stroke="#c4c4c4" stroke-width="0.7"/>
<line x1="537.4" y1="795.3" x2="543.4" y2="802.0" stroke="#c4c4c4" stroke-width="0.7"/>
<line x1="537.4" y1="799.0" x2="543.4" y2="805.2" stroke="#c4c4c4" stroke-width="0.7"/>
<line x1="537.4" y1="802.6" x2="543.4" y2="808.4" stroke="#c4c4c4" stroke-width="0.7"/>
<rect x="454.0" y="773.0" width="4.4" height="8.0" fill="#c2c2c2"/>
<rect x="473.7" y="784.3" width="4.7" height="17.2" fill="#c2c2c2"/>
<rect x="493.8" y="784.3" width="5.0" height="19.3" fill="#c2c2c2"/>
<rect x="513.7" y="791.1" width="5.2" height="13.3" fill="#c2c2c2"/>
<rect x="534.1" y="789.9" width="4.3" height="14.5" fill="#c2c2c2"/>
<line x1="452.8" y1="782.3" x2="460.0" y2="782.3" stroke="#111" stroke-width="1.5"/>
<line x1="472.5" y1="795.4" x2="479.7" y2="795.4" stroke="#111" stroke-width="1.5"/>
<line x1="492.6" y1="798.3" x2="499.7" y2="798.3" stroke="#111" stroke-width="1.5"/>
<line x1="512.0" y1="799.5" x2="519.7" y2="799.5" stroke="#111" stroke-width="1.5"/>
<line x1="532.5" y1="797.3" x2="539.8" y2="797.3" stroke="#111" stroke-width="1.5"/>
<line x1="460.0" y1="780.4" x2="467.7" y2="780.4" stroke="#f5b52e" stroke-width="1.3"/>
<line x1="479.7" y1="794.3" x2="487.4" y2="794.3" stroke="#f5b52e" stroke-width="1.3"/>
<line x1="499.7" y1="797.1" x2="507.3" y2="797.1" stroke="#f5b52e" stroke-width="1.3"/>
<line x1="519.7" y1="798.3" x2="527.7" y2="798.3" stroke="#f5b52e" stroke-width="1.3"/>
<line x1="539.8" y1="798.3" x2="547.0" y2="798.3" stroke="#f5b52e" stroke-width="1.3"/>
<circle cx="463.9" cy="788.7" r="2.6" fill="#f0bd52" fill-opacity="0.92"/>
<circle cx="463.9" cy="798.7" r="2.6" fill="#f0bd52" fill-opacity="0.92"/>
<circle cx="463.9" cy="800.7" r="2.6" fill="#f0bd52" fill-opacity="0.92"/>
<circle cx="463.9" cy="803.6" r="2.6" fill="#f0bd52" fill-opacity="0.92"/>
<circle cx="483.7" cy="794.7" r="2.6" fill="#f0bd52" fill-opacity="0.92"/>
<circle cx="483.7" cy="800.3" r="2.6" fill="#f0bd52" fill-opacity="0.92"/>
<circle cx="483.7" cy="802.8" r="2.6" fill="#f0bd52" fill-opacity="0.92"/>
<circle cx="483.7" cy="805.2" r="2.6" fill="#f0bd52" fill-opacity="0.92"/>
<circle cx="503.6" cy="795.9" r="2.6" fill="#f0bd52" fill-opacity="0.92"/>
<circle cx="503.6" cy="799.5" r="2.6" fill="#f0bd52" fill-opacity="0.92"/>
<circle cx="503.6" cy="802.8" r="2.6" fill="#f0bd52" fill-opacity="0.92"/>
<circle cx="523.7" cy="799.5" r="2.6" fill="#f0bd52" fill-opacity="0.92"/>
<circle cx="523.7" cy="802.8" r="2.6" fill="#f0bd52" fill-opacity="0.92"/>
<circle cx="523.7" cy="805.2" r="2.6" fill="#f0bd52" fill-opacity="0.92"/>
<circle cx="523.7" cy="808.4" r="2.6" fill="#f0bd52" fill-opacity="0.92"/>
<circle cx="543.4" cy="798.7" r="2.6" fill="#f0bd52" fill-opacity="0.92"/>
<circle cx="543.4" cy="802.0" r="2.6" fill="#f0bd52" fill-opacity="0.92"/>
<circle cx="543.4" cy="805.2" r="2.6" fill="#f0bd52" fill-opacity="0.92"/>
<circle cx="543.4" cy="808.4" r="2.6" fill="#f0bd52" fill-opacity="0.92"/>
<path d="M447.6,761.5 L447.6,847.9 L551.8,847.9" fill="none" stroke="#111" stroke-width="1.5"/>
<line x1="444.3" y1="761.5" x2="447.6" y2="761.5" stroke="#111" stroke-width="1.1"/>
<line x1="444.3" y1="804.7" x2="447.6" y2="804.7" stroke="#111" stroke-width="1.1"/>
<line x1="444.3" y1="847.9" x2="447.6" y2="847.9" stroke="#111" stroke-width="1.1"/>
<line x1="460.3" y1="847.9" x2="460.3" y2="851.3" stroke="#111" stroke-width="0.9"/>
<line x1="479.9" y1="847.9" x2="479.9" y2="851.3" stroke="#111" stroke-width="0.9"/>
<line x1="499.7" y1="847.9" x2="499.7" y2="851.3" stroke="#111" stroke-width="0.9"/>
<line x1="519.7" y1="847.9" x2="519.7" y2="851.3" stroke="#111" stroke-width="0.9"/>
<line x1="540.2" y1="847.9" x2="540.2" y2="851.3" stroke="#111" stroke-width="0.9"/>
<rect x="454" y="797.1" width="4.4" height="3.6" fill="#c2c2c2"/>
<polygon points="458.80,752.60 459.47,754.38 461.37,754.47 459.88,755.65 460.39,757.48 458.80,756.43 457.21,757.48 457.72,755.65 456.23,754.47 458.13,754.38" fill="#222"/>
<polygon points="478.20,752.60 478.87,754.38 480.77,754.47 479.28,755.65 479.79,757.48 478.20,756.43 476.61,757.48 477.12,755.65 475.63,754.47 477.53,754.38" fill="#222"/>
<polygon points="538.10,752.60 538.77,754.38 540.67,754.47 539.18,755.65 539.69,757.48 538.10,756.43 536.51,757.48 537.02,755.65 535.53,754.47 537.43,754.38" fill="#222"/>
<g transform="translate(54.5,865.6) rotate(16)"><text x="0" y="0" font-size="11.5" font-style="italic" text-anchor="end">1</text><text x="0.6" y="-0.8" font-size="8.4" font-style="italic">st</text></g>
<g transform="translate(75.9,865.6) rotate(16)"><text x="0" y="0" font-size="11.5" font-style="italic" text-anchor="end">2</text><text x="0.6" y="-0.8" font-size="8.4" font-style="italic">nd</text></g>
<g transform="translate(98.7,865.6) rotate(16)"><text x="0" y="0" font-size="11.5" font-style="italic" text-anchor="end">3</text><text x="0.6" y="-0.8" font-size="8.4" font-style="italic">rd</text></g>
<g transform="translate(117.8,865.6) rotate(16)"><text x="0" y="0" font-size="11.5" font-style="italic" text-anchor="end">4</text><text x="0.6" y="-0.8" font-size="8.4" font-style="italic">th</text></g>
<g transform="translate(132.3,863.6) rotate(28)"><text x="0" y="0" font-size="11.5" font-style="italic" textLength="16.5" lengthAdjust="spacingAndGlyphs">Last</text></g>
<g transform="translate(184.0,865.6) rotate(16)"><text x="0" y="0" font-size="11.5" font-style="italic" text-anchor="end">1</text><text x="0.6" y="-0.8" font-size="8.4" font-style="italic">st</text></g>
<g transform="translate(205.2,865.6) rotate(16)"><text x="0" y="0" font-size="11.5" font-style="italic" text-anchor="end">2</text><text x="0.6" y="-0.8" font-size="8.4" font-style="italic">nd</text></g>
<g transform="translate(228.2,865.6) rotate(16)"><text x="0" y="0" font-size="11.5" font-style="italic" text-anchor="end">3</text><text x="0.6" y="-0.8" font-size="8.4" font-style="italic">rd</text></g>
<g transform="translate(246.6,865.6) rotate(16)"><text x="0" y="0" font-size="11.5" font-style="italic" text-anchor="end">4</text><text x="0.6" y="-0.8" font-size="8.4" font-style="italic">th</text></g>
<g transform="translate(261.7,863.6) rotate(28)"><text x="0" y="0" font-size="11.5" font-style="italic" textLength="16.5" lengthAdjust="spacingAndGlyphs">Last</text></g>
<g transform="translate(314.0,865.6) rotate(16)"><text x="0" y="0" font-size="11.5" font-style="italic" text-anchor="end">1</text><text x="0.6" y="-0.8" font-size="8.4" font-style="italic">st</text></g>
<g transform="translate(335.2,865.6) rotate(16)"><text x="0" y="0" font-size="11.5" font-style="italic" text-anchor="end">2</text><text x="0.6" y="-0.8" font-size="8.4" font-style="italic">nd</text></g>
<g transform="translate(358.2,865.6) rotate(16)"><text x="0" y="0" font-size="11.5" font-style="italic" text-anchor="end">3</text><text x="0.6" y="-0.8" font-size="8.4" font-style="italic">rd</text></g>
<g transform="translate(377.0,865.6) rotate(16)"><text x="0" y="0" font-size="11.5" font-style="italic" text-anchor="end">4</text><text x="0.6" y="-0.8" font-size="8.4" font-style="italic">th</text></g>
<g transform="translate(391.5,863.6) rotate(28)"><text x="0" y="0" font-size="11.5" font-style="italic" textLength="16.5" lengthAdjust="spacingAndGlyphs">Last</text></g>
<g transform="translate(457.9,865.6) rotate(16)"><text x="0" y="0" font-size="11.5" font-style="italic" text-anchor="end">1</text><text x="0.6" y="-0.8" font-size="8.4" font-style="italic">st</text></g>
<g transform="translate(478.9,865.6) rotate(16)"><text x="0" y="0" font-size="11.5" font-style="italic" text-anchor="end">2</text><text x="0.6" y="-0.8" font-size="8.4" font-style="italic">nd</text></g>
<g transform="translate(501.9,865.6) rotate(16)"><text x="0" y="0" font-size="11.5" font-style="italic" text-anchor="end">3</text><text x="0.6" y="-0.8" font-size="8.4" font-style="italic">rd</text></g>
<g transform="translate(520.7,865.6) rotate(16)"><text x="0" y="0" font-size="11.5" font-style="italic" text-anchor="end">4</text><text x="0.6" y="-0.8" font-size="8.4" font-style="italic">th</text></g>
<g transform="translate(535.8,863.6) rotate(28)"><text x="0" y="0" font-size="11.5" font-style="italic" textLength="16.5" lengthAdjust="spacingAndGlyphs">Last</text></g>
<text x="55.3" y="881.6" font-size="12.8" textLength="91.5" lengthAdjust="spacingAndGlyphs" fill="#000" >Training sessions</text>
<text x="184.7" y="881.6" font-size="12.8" textLength="91.0" lengthAdjust="spacingAndGlyphs" fill="#000" >Training sessions</text>
<text x="314.7" y="881.6" font-size="12.8" textLength="92.0" lengthAdjust="spacingAndGlyphs" fill="#000" >Training sessions</text>
<text x="460.9" y="881.6" font-size="12.8" textLength="91.9" lengthAdjust="spacingAndGlyphs" fill="#000" >Training sessions</text>
<circle cx="560.2" cy="759.9" r="2.9" fill="#f7b52e"/>
<rect x="557.8" y="771.6" width="5.9" height="5.9" fill="#7f7f7f"/>
<line x1="557.9" y1="792.0" x2="564.2" y2="792.0" stroke="#f5b52e" stroke-width="1.3"/>
<line x1="557.9" y1="805.2" x2="564.2" y2="805.2" stroke="#000" stroke-width="1.3"/>
<text x="569.7" y="764.6" font-size="10.5" textLength="78.8" lengthAdjust="spacingAndGlyphs" fill="#000" >Match trials, Exp.</text>
<text x="569.7" y="778.0" font-size="10.5" textLength="101.5" lengthAdjust="spacingAndGlyphs" fill="#000" >Non-match trials, Exp.</text>
<text x="569.7" y="794.7" font-size="10.5" textLength="94.2" lengthAdjust="spacingAndGlyphs" fill="#000" >Match trials, Control</text>
<text x="569.7" y="808.5" font-size="10.5" textLength="115.3" lengthAdjust="spacingAndGlyphs" fill="#000" >Non-match trials, control</text>
</svg>
</body></html>
